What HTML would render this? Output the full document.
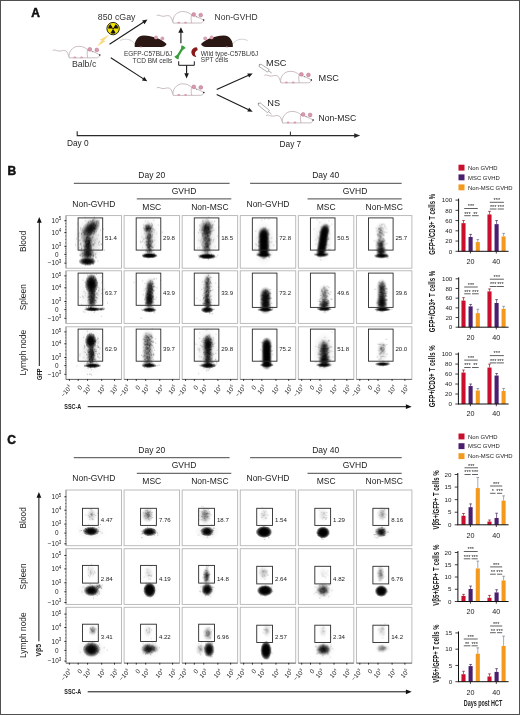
<!DOCTYPE html>
<html><head><meta charset="utf-8"><style>html,body{margin:0;padding:0;background:#fff;}svg{display:block;will-change:transform;}text{font-family:"Liberation Sans",sans-serif;}</style></head>
<body><svg width="520" height="715" viewBox="0 0 520 715" font-family="Liberation Sans, sans-serif">
<rect width="520" height="715" fill="#fff"/>
<defs><radialGradient id="g0"><stop offset="0" stop-color="#000" stop-opacity="0.259"/><stop offset="0.15" stop-color="#000" stop-opacity="0.243"/><stop offset="0.3" stop-color="#000" stop-opacity="0.199"/><stop offset="0.45" stop-color="#000" stop-opacity="0.140"/><stop offset="0.6" stop-color="#000" stop-opacity="0.085"/><stop offset="0.75" stop-color="#000" stop-opacity="0.044"/><stop offset="0.9" stop-color="#000" stop-opacity="0.019"/><stop offset="1.0" stop-color="#000" stop-opacity="0.000"/></radialGradient><radialGradient id="g1"><stop offset="0" stop-color="#000" stop-opacity="0.451"/><stop offset="0.15" stop-color="#000" stop-opacity="0.427"/><stop offset="0.3" stop-color="#000" stop-opacity="0.358"/><stop offset="0.45" stop-color="#000" stop-opacity="0.261"/><stop offset="0.6" stop-color="#000" stop-opacity="0.163"/><stop offset="0.75" stop-color="#000" stop-opacity="0.086"/><stop offset="0.9" stop-color="#000" stop-opacity="0.038"/><stop offset="1.0" stop-color="#000" stop-opacity="0.000"/></radialGradient><radialGradient id="g2"><stop offset="0" stop-color="#000" stop-opacity="0.699"/><stop offset="0.15" stop-color="#000" stop-opacity="0.671"/><stop offset="0.3" stop-color="#000" stop-opacity="0.587"/><stop offset="0.45" stop-color="#000" stop-opacity="0.454"/><stop offset="0.6" stop-color="#000" stop-opacity="0.299"/><stop offset="0.75" stop-color="#000" stop-opacity="0.164"/><stop offset="0.9" stop-color="#000" stop-opacity="0.075"/><stop offset="1.0" stop-color="#000" stop-opacity="0.000"/></radialGradient><radialGradient id="g3"><stop offset="0" stop-color="#000" stop-opacity="0.909"/><stop offset="0.15" stop-color="#000" stop-opacity="0.892"/><stop offset="0.3" stop-color="#000" stop-opacity="0.830"/><stop offset="0.45" stop-color="#000" stop-opacity="0.702"/><stop offset="0.6" stop-color="#000" stop-opacity="0.509"/><stop offset="0.75" stop-color="#000" stop-opacity="0.301"/><stop offset="0.9" stop-color="#000" stop-opacity="0.144"/><stop offset="1.0" stop-color="#000" stop-opacity="0.000"/></radialGradient><radialGradient id="g4"><stop offset="0" stop-color="#000" stop-opacity="0.992"/><stop offset="0.15" stop-color="#000" stop-opacity="0.988"/><stop offset="0.3" stop-color="#000" stop-opacity="0.971"/><stop offset="0.45" stop-color="#000" stop-opacity="0.911"/><stop offset="0.6" stop-color="#000" stop-opacity="0.759"/><stop offset="0.75" stop-color="#000" stop-opacity="0.512"/><stop offset="0.9" stop-color="#000" stop-opacity="0.267"/><stop offset="1.0" stop-color="#000" stop-opacity="0.000"/></radialGradient><radialGradient id="g5"><stop offset="0" stop-color="#000" stop-opacity="1.000"/><stop offset="0.15" stop-color="#000" stop-opacity="1.000"/><stop offset="0.3" stop-color="#000" stop-opacity="0.999"/><stop offset="0.45" stop-color="#000" stop-opacity="0.992"/><stop offset="0.6" stop-color="#000" stop-opacity="0.942"/><stop offset="0.75" stop-color="#000" stop-opacity="0.762"/><stop offset="0.9" stop-color="#000" stop-opacity="0.463"/><stop offset="1.0" stop-color="#000" stop-opacity="0.000"/></radialGradient></defs>
<text x="31.30" y="16.90" font-size="12" fill="#111" font-weight="bold" stroke="#111" stroke-width="0.5">A</text>
<text x="97.80" y="19.50" font-size="8.8" fill="#333">850 cGay</text>
<circle cx="113.1" cy="28.6" r="6.2" fill="#f2e200" stroke="#111" stroke-width="0.9"/>
<path d="M112.45,27.47 L110.60,24.27 A5.0,5.0 0 0 1 115.60,24.27 L113.75,27.47 Z" fill="#111" transform="rotate(180 113.1 28.6)"/>
<path d="M114.40,28.60 L118.10,28.60 A5.0,5.0 0 0 1 115.60,32.93 L113.75,29.73 Z" fill="#111" transform="rotate(180 113.1 28.6)"/>
<path d="M112.45,29.73 L110.60,32.93 A5.0,5.0 0 0 1 108.10,28.60 L111.80,28.60 Z" fill="#111" transform="rotate(180 113.1 28.6)"/>
<circle cx="113.1" cy="28.6" r="0.9" fill="#111"/>
<path d="M109.2,34.6 L103.6,40.8 L105.8,41.0 L97.2,46.6 L101.6,40.2 L99.4,40.0 Z" fill="#f7d46a" opacity="0.85"/>
<g transform="translate(69.2,57.9) scale(1.0,1.0)" fill="none" stroke="#ad9aa2" stroke-width="0.65"><path d="M0.3,-0.3 C-1.5,-3 -1.2,-6.2 -3.8,-7.2 C-6.5,-8.2 -8.5,-6.2 -11.5,-7 C-13.5,-7.6 -14.8,-8.6 -16.5,-7.4"/><path d="M0,0 C-1.2,-5.5 3,-11.6 9.5,-11.6 C14,-11.6 16.6,-9.8 18.4,-8.1 C21.5,-7.6 26,-5.4 30.6,-3.0 C30,-0.8 28.8,-0.2 27.5,-0.1 L0,0 Z" fill="#fff"/><path d="M18.4,-8.1 C17.6,-5.2 18,-2.4 18.6,0"/><circle cx="20.6" cy="-8.6" r="1.9" fill="#d99aae" stroke="#b86f88" stroke-width="0.5"/><circle cx="27.6" cy="-8.0" r="1.9" fill="#d99aae" stroke="#b86f88" stroke-width="0.5"/><ellipse cx="5.6" cy="-0.5" rx="1.4" ry="0.9" fill="#d99aae" stroke="none"/><ellipse cx="12.4" cy="-0.5" rx="1.4" ry="0.9" fill="#d99aae" stroke="none"/><circle cx="30.6" cy="-3.0" r="0.75" fill="#111" stroke="none"/><circle cx="23.6" cy="-6.2" r="0.45" fill="#333" stroke="none"/></g>
<text x="71.90" y="67.00" font-size="8.8" fill="#333">Balb/c</text>
<g transform="translate(173.1,23.1) scale(1.0,1.0)" fill="none" stroke="#ad9aa2" stroke-width="0.65"><path d="M0.3,-0.3 C-1.5,-3 -1.2,-6.2 -3.8,-7.2 C-6.5,-8.2 -8.5,-6.2 -11.5,-7 C-13.5,-7.6 -14.8,-8.6 -16.5,-7.4"/><path d="M0,0 C-1.2,-5.5 3,-11.6 9.5,-11.6 C14,-11.6 16.6,-9.8 18.4,-8.1 C21.5,-7.6 26,-5.4 30.6,-3.0 C30,-0.8 28.8,-0.2 27.5,-0.1 L0,0 Z" fill="#fff"/><path d="M18.4,-8.1 C17.6,-5.2 18,-2.4 18.6,0"/><circle cx="20.6" cy="-8.6" r="1.9" fill="#d99aae" stroke="#b86f88" stroke-width="0.5"/><circle cx="27.6" cy="-8.0" r="1.9" fill="#d99aae" stroke="#b86f88" stroke-width="0.5"/><ellipse cx="5.6" cy="-0.5" rx="1.4" ry="0.9" fill="#d99aae" stroke="none"/><ellipse cx="12.4" cy="-0.5" rx="1.4" ry="0.9" fill="#d99aae" stroke="none"/><circle cx="30.6" cy="-3.0" r="0.75" fill="#111" stroke="none"/><circle cx="23.6" cy="-6.2" r="0.45" fill="#333" stroke="none"/></g>
<text x="214.60" y="19.70" font-size="8.5" fill="#333">Non-GVHD</text>
<g transform="translate(134.8,47.0) scale(1.0,1.0)"><path d="M0.5,-2.5 C-2,-6 -4.5,-7.5 -8.5,-7.8 C-11,-8 -13,-7 -15,-6.6" fill="none" stroke="#b5b5b5" stroke-width="0.6"/><path d="M0,0 C-0.8,-5 2.5,-11.6 9,-11.6 C14,-11.6 17.5,-10.2 21,-9.2 C25,-8.2 29,-5.6 31.8,-3.1 C31,-1.2 29,-0.3 27,0 Z" fill="#2b1713"/><circle cx="21.2" cy="-9.6" r="1.9" fill="#d9a0b0"/><circle cx="27.6" cy="-8.6" r="1.9" fill="#d9a0b0"/><ellipse cx="6" cy="0" rx="1.3" ry="0.6" fill="#d9a0b0"/></g>
<g transform="translate(232.8,47.0) scale(-1.0,1.0)"><path d="M0.5,-2.5 C-2,-6 -4.5,-7.5 -8.5,-7.8 C-11,-8 -13,-7 -15,-6.6" fill="none" stroke="#b5b5b5" stroke-width="0.6"/><path d="M0,0 C-0.8,-5 2.5,-11.6 9,-11.6 C14,-11.6 17.5,-10.2 21,-9.2 C25,-8.2 29,-5.6 31.8,-3.1 C31,-1.2 29,-0.3 27,0 Z" fill="#2b1713"/><circle cx="21.2" cy="-9.6" r="1.9" fill="#d9a0b0"/><circle cx="27.6" cy="-8.6" r="1.9" fill="#d9a0b0"/><ellipse cx="6" cy="0" rx="1.3" ry="0.6" fill="#d9a0b0"/></g>
<text x="172.30" y="56.20" font-size="6.5" fill="#333" text-anchor="end">EGFP-C57BL/6J</text>
<text x="172.30" y="62.50" font-size="6.5" fill="#333" text-anchor="end">TCD BM cells</text>
<text x="200.80" y="55.80" font-size="6.5" fill="#333">Wild type-C57BL/6J</text>
<text x="200.80" y="62.10" font-size="6.5" fill="#333">SPT cells</text>
<line x1="109.50" y1="44.20" x2="143.72" y2="22.05" stroke="#1a1a1a" stroke-width="1.1"/>
<path d="M147.50,19.60 L144.50,24.16 L142.11,20.47 Z" fill="#1a1a1a"/>
<line x1="110.80" y1="57.70" x2="143.52" y2="78.86" stroke="#1a1a1a" stroke-width="1.1"/>
<path d="M147.30,81.30 L141.91,80.43 L144.30,76.74 Z" fill="#1a1a1a"/>
<line x1="180.90" y1="43.20" x2="180.90" y2="32.30" stroke="#1a1a1a" stroke-width="1.1"/>
<path d="M180.90,27.20 L183.50,32.80 L178.30,32.80 Z" fill="#1a1a1a"/>
<path transform="translate(180.0,52.4) rotate(-58)" d="M-6.8,-2.5 L-3.5,-1.15 L3.5,-1.15 L6.8,-2.5 L7.2,0 L6.8,2.5 L3.5,1.15 L-3.5,1.15 L-6.8,2.5 L-7.2,0 Z" fill="#3a9e3e"/>
<path d="M196.2,47.2 C192.5,47.6 190.8,50.8 191.6,53.6 C192.3,56 194.3,57.2 196.4,56.8 C195.2,55.6 194.6,54 195.1,52.6 C195.6,51.2 196.8,50.6 197.6,50.2 C197.8,48.6 197.2,47.4 196.2,47.2 Z" fill="#8a1a1a"/>
<path d="M178.7,61.3 V65.3 H194.3 V61.3" fill="none" stroke="#1a1a1a" stroke-width="1"/>
<line x1="186.60" y1="65.30" x2="186.60" y2="73.70" stroke="#1a1a1a" stroke-width="1.1"/>
<path d="M186.60,78.60 L184.30,73.20 L188.90,73.20 Z" fill="#1a1a1a"/>
<g transform="translate(173.2,95.4) scale(1.0,1.0)" fill="none" stroke="#ad9aa2" stroke-width="0.65"><path d="M0.3,-0.3 C-1.5,-3 -1.2,-6.2 -3.8,-7.2 C-6.5,-8.2 -8.5,-6.2 -11.5,-7 C-13.5,-7.6 -14.8,-8.6 -16.5,-7.4"/><path d="M0,0 C-1.2,-5.5 3,-11.6 9.5,-11.6 C14,-11.6 16.6,-9.8 18.4,-8.1 C21.5,-7.6 26,-5.4 30.6,-3.0 C30,-0.8 28.8,-0.2 27.5,-0.1 L0,0 Z" fill="#fff"/><path d="M18.4,-8.1 C17.6,-5.2 18,-2.4 18.6,0"/><circle cx="20.6" cy="-8.6" r="1.9" fill="#d99aae" stroke="#b86f88" stroke-width="0.5"/><circle cx="27.6" cy="-8.0" r="1.9" fill="#d99aae" stroke="#b86f88" stroke-width="0.5"/><ellipse cx="5.6" cy="-0.5" rx="1.4" ry="0.9" fill="#d99aae" stroke="none"/><ellipse cx="12.4" cy="-0.5" rx="1.4" ry="0.9" fill="#d99aae" stroke="none"/><circle cx="30.6" cy="-3.0" r="0.75" fill="#111" stroke="none"/><circle cx="23.6" cy="-6.2" r="0.45" fill="#333" stroke="none"/></g>
<line x1="216.70" y1="89.60" x2="248.60" y2="75.25" stroke="#1a1a1a" stroke-width="1.1"/>
<path d="M252.70,73.40 L249.04,77.46 L247.24,73.45 Z" fill="#1a1a1a"/>
<line x1="216.70" y1="94.50" x2="248.64" y2="109.85" stroke="#1a1a1a" stroke-width="1.1"/>
<path d="M252.70,111.80 L247.24,111.62 L249.15,107.65 Z" fill="#1a1a1a"/>
<g transform="translate(259.8,65.2) rotate(33.2)"><rect x="0" y="-1.5" width="10.3" height="3" fill="#fff" stroke="#888" stroke-width="0.6"/><line x1="-1" y1="0" x2="0" y2="0" stroke="#888" stroke-width="1.6"/><line x1="10.3" y1="0" x2="14.3" y2="0" stroke="#888" stroke-width="0.6"/></g>
<g transform="translate(259.0,103.8) rotate(39.5)"><rect x="0" y="-1.5" width="12.3" height="3" fill="#fff" stroke="#888" stroke-width="0.6"/><line x1="-1" y1="0" x2="0" y2="0" stroke="#888" stroke-width="1.6"/><line x1="12.3" y1="0" x2="16.3" y2="0" stroke="#888" stroke-width="0.6"/></g>
<text x="266.00" y="66.40" font-size="9.2" fill="#222">MSC</text>
<text x="267.30" y="105.50" font-size="9.2" fill="#222">NS</text>
<g transform="translate(280.8,82.9) scale(1.0,1.0)" fill="none" stroke="#ad9aa2" stroke-width="0.65"><path d="M0.3,-0.3 C-1.5,-3 -1.2,-6.2 -3.8,-7.2 C-6.5,-8.2 -8.5,-6.2 -11.5,-7 C-13.5,-7.6 -14.8,-8.6 -16.5,-7.4"/><path d="M0,0 C-1.2,-5.5 3,-11.6 9.5,-11.6 C14,-11.6 16.6,-9.8 18.4,-8.1 C21.5,-7.6 26,-5.4 30.6,-3.0 C30,-0.8 28.8,-0.2 27.5,-0.1 L0,0 Z" fill="#fff"/><path d="M18.4,-8.1 C17.6,-5.2 18,-2.4 18.6,0"/><circle cx="20.6" cy="-8.6" r="1.9" fill="#d99aae" stroke="#b86f88" stroke-width="0.5"/><circle cx="27.6" cy="-8.0" r="1.9" fill="#d99aae" stroke="#b86f88" stroke-width="0.5"/><ellipse cx="5.6" cy="-0.5" rx="1.4" ry="0.9" fill="#d99aae" stroke="none"/><ellipse cx="12.4" cy="-0.5" rx="1.4" ry="0.9" fill="#d99aae" stroke="none"/><circle cx="30.6" cy="-3.0" r="0.75" fill="#111" stroke="none"/><circle cx="23.6" cy="-6.2" r="0.45" fill="#333" stroke="none"/></g>
<g transform="translate(282.5,123.0) scale(1.0,1.0)" fill="none" stroke="#ad9aa2" stroke-width="0.65"><path d="M0.3,-0.3 C-1.5,-3 -1.2,-6.2 -3.8,-7.2 C-6.5,-8.2 -8.5,-6.2 -11.5,-7 C-13.5,-7.6 -14.8,-8.6 -16.5,-7.4"/><path d="M0,0 C-1.2,-5.5 3,-11.6 9.5,-11.6 C14,-11.6 16.6,-9.8 18.4,-8.1 C21.5,-7.6 26,-5.4 30.6,-3.0 C30,-0.8 28.8,-0.2 27.5,-0.1 L0,0 Z" fill="#fff"/><path d="M18.4,-8.1 C17.6,-5.2 18,-2.4 18.6,0"/><circle cx="20.6" cy="-8.6" r="1.9" fill="#d99aae" stroke="#b86f88" stroke-width="0.5"/><circle cx="27.6" cy="-8.0" r="1.9" fill="#d99aae" stroke="#b86f88" stroke-width="0.5"/><ellipse cx="5.6" cy="-0.5" rx="1.4" ry="0.9" fill="#d99aae" stroke="none"/><ellipse cx="12.4" cy="-0.5" rx="1.4" ry="0.9" fill="#d99aae" stroke="none"/><circle cx="30.6" cy="-3.0" r="0.75" fill="#111" stroke="none"/><circle cx="23.6" cy="-6.2" r="0.45" fill="#333" stroke="none"/></g>
<text x="318.50" y="80.90" font-size="9.2" fill="#222">MSC</text>
<text x="318.50" y="120.50" font-size="8.6" fill="#222">Non-MSC</text>
<path d="M77.2,131.2 V135.6 H355" fill="none" stroke="#2a2a2a" stroke-width="1.1"/>
<path d="M360.2,135.6 L354.2,133.2 L354.2,138 Z" fill="#2a2a2a"/>
<line x1="290.40" y1="131.60" x2="290.40" y2="135.60" stroke="#2a2a2a" stroke-width="1.0"/>
<text x="67.00" y="146.20" font-size="8.3" fill="#222">Day 0</text>
<text x="290.40" y="146.60" font-size="8.3" fill="#222" text-anchor="middle">Day 7</text>
<text x="7.60" y="175.20" font-size="12" fill="#111" font-weight="bold" stroke="#111" stroke-width="0.5">B</text>
<text x="151.80" y="178.30" font-size="8.5" fill="#222" text-anchor="middle">Day 20</text>
<line x1="73.80" y1="183.30" x2="229.60" y2="183.30" stroke="#333" stroke-width="0.9"/>
<text x="184.00" y="193.60" font-size="8.5" fill="#222" text-anchor="middle">GVHD</text>
<line x1="136.80" y1="198.90" x2="231.30" y2="198.90" stroke="#333" stroke-width="0.9"/>
<text x="93.80" y="207.00" font-size="8.5" fill="#222" text-anchor="middle">Non-GVHD</text>
<text x="151.80" y="209.60" font-size="8.5" fill="#222" text-anchor="middle">MSC</text>
<text x="209.90" y="209.60" font-size="8.5" fill="#222" text-anchor="middle">Non-MSC</text>
<text x="325.70" y="178.30" font-size="8.5" fill="#222" text-anchor="middle">Day 40</text>
<line x1="250.10" y1="183.30" x2="401.70" y2="183.30" stroke="#333" stroke-width="0.9"/>
<text x="355.00" y="193.60" font-size="8.5" fill="#222" text-anchor="middle">GVHD</text>
<line x1="307.50" y1="198.90" x2="401.70" y2="198.90" stroke="#333" stroke-width="0.9"/>
<text x="268.00" y="207.00" font-size="8.5" fill="#222" text-anchor="middle">Non-GVHD</text>
<text x="326.10" y="209.60" font-size="8.5" fill="#222" text-anchor="middle">MSC</text>
<text x="384.20" y="209.60" font-size="8.5" fill="#222" text-anchor="middle">Non-MSC</text>
<text x="26.00" y="241.40" font-size="8.4" fill="#222" text-anchor="middle" transform="rotate(-90 26.00 241.40)">Blood</text>
<text x="26.00" y="297.20" font-size="8.4" fill="#222" text-anchor="middle" transform="rotate(-90 26.00 297.20)">Spleen</text>
<text x="26.00" y="352.60" font-size="8.4" fill="#222" text-anchor="middle" transform="rotate(-90 26.00 352.60)">Lymph node</text>
<rect x="66.00" y="215.60" width="55.50" height="52.60" fill="#fff" stroke="#b4b4b4" stroke-width="0.9"/>
<svg x="66.00" y="215.60" width="55.50" height="52.60" overflow="hidden">
<ellipse transform="translate(24.50,12.90) skewX(-24.2)" rx="8.84" ry="10.40" fill="url(#g3)"/>
<ellipse transform="translate(21.80,23.40)" rx="5.43" ry="5.72" fill="url(#g1)"/>
<ellipse transform="translate(21.80,25.73)" rx="5.43" ry="5.72" fill="url(#g1)"/>
<ellipse transform="translate(21.80,28.07)" rx="5.43" ry="5.72" fill="url(#g1)"/>
<ellipse transform="translate(21.80,30.40)" rx="5.43" ry="5.72" fill="url(#g1)"/>
<ellipse transform="translate(21.80,32.73)" rx="5.43" ry="5.72" fill="url(#g1)"/>
<ellipse transform="translate(21.80,35.07)" rx="5.43" ry="5.72" fill="url(#g1)"/>
<ellipse transform="translate(21.80,37.40)" rx="5.43" ry="5.72" fill="url(#g1)"/>
<ellipse transform="translate(21.50,38.90)" rx="8.32" ry="6.50" fill="url(#g2)"/>
<ellipse transform="translate(21.20,45.80)" rx="8.84" ry="4.16" fill="url(#g4)"/>
<ellipse transform="translate(23.00,24.40)" rx="15.60" ry="26.00" fill="url(#g0)" opacity="0.87"/>
<path d="M26.7 11.9h.9M23.8 12.0h.9M25.4 9.2h.9M23.9 17.3h.9M23.5 17.0h.9M24.4 14.5h.9M30.4 6.2h.9M25.3 14.9h.9M21.6 6.1h.9M24.5 9.3h.9M23.8 14.1h.9M21.4 15.0h.9M25.3 14.1h.9M31.5 10.3h.9M27.6 15.1h.9M23.1 10.4h.9M24.8 11.5h.9M24.2 15.4h.9M22.1 11.1h.9M29.6 10.8h.9M26.8 9.7h.9M18.7 14.6h.9M28.9 13.1h.9M27.0 4.8h.9M21.9 12.5h.9M23.4 14.9h.9M30.0 7.0h.9M26.5 15.6h.9M23.1 18.7h.9M19.9 13.4h.9M21.3 15.4h.9M21.0 11.1h.9M24.4 9.0h.9M15.3 18.1h.9M27.9 7.1h.9M23.9 18.7h.9M19.4 5.3h.9M21.4 14.3h.9M29.8 8.4h.9M23.1 17.3h.9M25.5 13.9h.9M23.7 19.3h.9M25.4 15.0h.9M31.7 6.6h.9M24.6 16.7h.9M25.9 5.0h.9M16.8 16.3h.9M28.3 12.2h.9M32.3 7.7h.9M23.0 15.1h.9M26.1 14.2h.9M28.2 13.4h.9M24.3 10.3h.9M22.7 17.1h.9M29.3 9.4h.9M20.3 18.8h.9M26.5 7.4h.9M23.8 12.3h.9M18.5 18.5h.9M17.9 17.9h.9M28.1 9.8h.9M25.4 17.4h.9M24.4 14.3h.9M26.2 13.5h.9M25.8 12.2h.9M23.5 15.2h.9M25.0 16.0h.9M22.0 20.9h.9M24.0 11.2h.9M27.7 12.8h.9M26.4 11.6h.9M12.5 20.2h.9M27.4 8.4h.9M24.6 14.5h.9M27.5 11.2h.9M22.2 14.0h.9M21.3 22.6h.9M25.2 10.7h.9M24.7 12.0h.9M27.8 2.0h.9M18.7 16.9h.9M27.9 12.6h.9M28.0 16.3h.9M26.4 6.1h.9M27.2 11.5h.9M13.4 17.3h.9M17.6 17.3h.9M18.2 15.6h.9M28.2 13.6h.9M25.4 12.3h.9M23.5 16.1h.9M29.9 12.5h.9M21.6 17.1h.9M15.7 23.9h.9M22.0 16.6h.9M26.7 13.4h.9M26.3 13.8h.9M22.1 6.8h.9M20.1 15.4h.9M21.3 8.8h.9M24.8 18.0h.9M18.7 18.8h.9M20.6 12.9h.9M28.5 16.0h.9M31.4 9.3h.9M22.1 16.9h.9M32.8 5.0h.9M22.6 12.5h.9M25.2 14.5h.9M18.3 18.9h.9M27.5 17.4h.9M21.3 18.7h.9M29.3 9.9h.9M24.7 13.4h.9M21.0 18.6h.9M27.3 3.7h.9M30.6 5.5h.9M21.9 14.2h.9M27.3 12.9h.9M28.9 13.2h.9M28.1 12.7h.9M27.3 18.9h.9M28.7 10.2h.9M24.2 5.4h.9M31.7 5.0h.9M26.7 8.0h.9M24.7 12.1h.9M26.4 10.5h.9M21.4 20.1h.9M26.9 15.0h.9M20.6 12.1h.9M29.1 10.7h.9M25.4 6.3h.9M25.4 16.9h.9M27.2 12.9h.9M19.3 31.6h.9M17.2 29.9h.9M20.2 28.6h.9M19.7 30.0h.9M22.5 28.0h.9M18.3 30.8h.9M20.0 30.3h.9M22.6 30.3h.9M22.5 25.9h.9M18.6 34.1h.9M24.5 34.6h.9M25.2 39.8h.9M26.9 30.0h.9M22.3 28.4h.9M23.7 31.9h.9M23.0 27.1h.9M21.4 31.1h.9M21.9 27.6h.9M20.0 22.4h.9M21.5 40.9h.9M22.8 25.3h.9M20.2 25.5h.9M24.0 30.6h.9M23.0 36.2h.9M20.4 21.6h.9M22.9 32.5h.9M24.0 36.9h.9M21.0 35.7h.9M23.5 33.8h.9M24.0 34.9h.9M22.9 30.6h.9M22.8 25.7h.9M22.2 29.2h.9M25.1 26.2h.9M21.8 26.9h.9M22.0 25.3h.9M19.2 25.8h.9M22.6 19.8h.9M19.8 31.3h.9M20.0 31.6h.9M16.3 25.8h.9M19.0 34.0h.9M22.9 22.5h.9M22.4 34.3h.9M23.0 24.5h.9M18.3 35.2h.9M23.3 27.2h.9M22.1 28.4h.9M27.1 36.5h.9M21.3 35.3h.9M23.6 22.7h.9M23.4 28.6h.9M24.2 24.3h.9M22.7 28.9h.9M21.9 28.1h.9M24.6 31.1h.9M18.7 33.4h.9M20.4 29.6h.9M21.7 34.8h.9M21.3 34.7h.9M20.0 36.1h.9M20.7 31.2h.9M21.7 30.5h.9M19.3 37.2h.9M18.9 25.2h.9M22.0 29.6h.9M24.2 34.5h.9M19.7 30.8h.9M21.8 34.4h.9M19.3 30.9h.9M21.2 33.3h.9M22.6 27.1h.9M20.4 33.6h.9M21.4 31.3h.9M22.2 30.8h.9M19.8 22.1h.9M23.1 34.8h.9M24.3 22.6h.9M22.4 34.4h.9M18.9 26.3h.9M21.6 27.5h.9M24.8 29.6h.9M21.1 28.8h.9M22.8 33.0h.9M22.3 24.7h.9M21.3 33.0h.9M23.8 38.4h.9M24.7 33.3h.9M19.7 29.2h.9M20.4 25.8h.9M21.9 32.3h.9M22.9 27.8h.9M25.5 21.7h.9M17.8 25.1h.9M20.3 39.1h.9M23.8 28.4h.9M21.8 31.4h.9M22.5 22.5h.9M24.2 30.7h.9M21.2 28.7h.9M21.7 27.2h.9M20.6 39.2h.9M18.4 33.3h.9M20.8 20.8h.9M19.5 33.7h.9M20.4 23.0h.9M21.3 31.0h.9M23.3 32.7h.9M21.6 34.3h.9M24.3 28.0h.9M22.9 27.0h.9M20.4 28.6h.9M17.9 35.8h.9M22.8 25.6h.9M22.6 26.2h.9M24.5 35.7h.9M19.6 29.2h.9M21.5 26.0h.9M22.4 38.6h.9M23.6 34.0h.9M20.7 28.2h.9M23.9 29.7h.9M20.6 39.7h.9M21.9 33.9h.9M20.4 33.6h.9M21.8 38.6h.9M18.1 39.0h.9M22.8 25.6h.9M21.4 33.3h.9M18.8 33.5h.9M22.5 21.3h.9M20.3 36.6h.9M20.4 24.0h.9M24.8 33.1h.9M22.3 31.4h.9M20.8 24.6h.9M21.6 27.4h.9M23.1 27.0h.9M20.2 28.5h.9M27.1 33.4h.9M22.2 30.2h.9M19.9 26.0h.9M17.7 24.1h.9M22.2 31.2h.9M20.5 34.0h.9M19.3 26.1h.9M21.5 36.7h.9M23.3 34.2h.9M26.7 28.8h.9M23.2 29.8h.9M17.4 22.7h.9M22.7 35.8h.9M22.3 24.7h.9M24.6 32.1h.9M14.6 35.6h.9M23.0 35.8h.9M21.3 32.7h.9M23.2 26.5h.9M21.9 27.4h.9M26.0 21.9h.9M21.5 29.9h.9M18.3 31.2h.9M22.5 31.0h.9M21.1 29.8h.9M21.5 29.6h.9M16.4 40.5h.9M21.7 39.5h.9M24.3 44.1h.9M26.8 38.7h.9M19.8 40.7h.9M29.5 38.0h.9M19.8 37.5h.9M18.8 38.4h.9M21.8 38.9h.9M14.4 39.1h.9M15.8 34.9h.9M21.9 40.7h.9M22.7 32.7h.9M20.6 41.3h.9M24.9 38.9h.9M21.8 33.2h.9M26.8 40.7h.9M15.6 38.6h.9M17.2 39.4h.9M24.0 37.9h.9M25.8 36.1h.9M22.5 40.4h.9M19.1 38.9h.9M21.8 39.5h.9M20.6 36.8h.9M20.7 44.0h.9M21.3 40.9h.9M22.2 39.9h.9M21.5 35.0h.9M22.3 37.2h.9M23.7 35.9h.9M16.8 37.0h.9M17.6 41.0h.9M25.7 42.4h.9M25.5 38.0h.9M25.3 36.0h.9M23.8 39.5h.9M23.3 38.9h.9M18.7 41.4h.9M24.4 37.7h.9M21.3 41.9h.9M27.3 39.4h.9M13.4 34.5h.9M23.7 41.2h.9M15.9 40.9h.9M21.0 39.5h.9M23.1 38.6h.9M29.5 41.4h.9M17.8 33.9h.9M26.1 35.4h.9M22.3 37.1h.9M13.9 39.9h.9M24.2 41.5h.9M20.0 37.6h.9M22.8 38.0h.9M23.9 39.4h.9M18.8 36.0h.9M22.0 39.0h.9M25.8 37.1h.9M24.0 39.8h.9M27.0 40.2h.9M21.2 38.0h.9M23.4 40.9h.9M20.1 35.5h.9M22.5 40.2h.9M18.4 38.0h.9M24.2 38.5h.9M20.7 41.0h.9M20.3 36.8h.9M24.7 34.6h.9M21.4 41.3h.9M26.4 40.2h.9M21.8 39.0h.9M19.6 41.0h.9M18.5 40.0h.9M18.7 47.1h.9M21.7 45.9h.9M19.7 43.6h.9M20.4 46.4h.9M18.9 44.7h.9M21.1 44.9h.9M25.2 45.4h.9M20.5 46.5h.9M21.6 42.9h.9M20.7 46.8h.9M27.0 48.5h.9M20.6 47.6h.9M23.8 49.2h.9M26.0 43.2h.9M16.8 43.6h.9M26.2 47.3h.9M24.6 46.1h.9M15.9 47.5h.9M23.4 46.3h.9M23.6 44.2h.9M22.4 45.2h.9M26.7 45.8h.9M20.6 46.2h.9M19.0 43.3h.9M22.7 48.8h.9M24.3 47.4h.9M19.7 43.7h.9M24.5 45.2h.9M19.4 44.3h.9M18.1 44.9h.9M21.5 45.5h.9M18.5 44.4h.9M26.9 46.1h.9M17.5 46.1h.9M24.7 46.6h.9M22.3 46.5h.9M21.8 45.2h.9M22.6 44.0h.9M22.4 48.0h.9M23.9 48.1h.9M17.2 46.1h.9M22.5 47.6h.9M27.0 43.0h.9M26.3 47.9h.9M21.1 48.4h.9M19.2 46.2h.9M20.7 47.6h.9M19.2 49.2h.9M26.4 47.2h.9M20.7 46.3h.9M25.8 44.2h.9M27.3 47.6h.9M27.4 45.3h.9M24.4 47.0h.9M20.1 46.8h.9M25.2 45.6h.9M22.0 45.6h.9M23.0 46.2h.9M19.2 48.0h.9M19.9 46.6h.9M19.6 46.0h.9M20.3 43.6h.9M26.5 43.7h.9M19.7 43.8h.9M20.1 46.4h.9M21.0 48.1h.9M24.9 43.5h.9M31.5 45.3h.9M19.7 44.5h.9M17.5 46.0h.9M26.2 47.0h.9M23.1 48.6h.9M26.1 45.7h.9M20.7 47.9h.9M18.7 45.1h.9M21.2 46.2h.9M25.0 47.1h.9M22.9 44.1h.9M20.1 46.5h.9M26.1 46.1h.9M21.2 45.9h.9M22.5 45.3h.9M23.1 45.1h.9M18.9 44.0h.9M25.8 46.4h.9M21.5 44.9h.9M20.2 46.9h.9M22.4 46.2h.9M15.9 43.7h.9M17.8 46.1h.9" stroke="#000" stroke-opacity="0.4" stroke-width=".9"/>
<path d="M23.9 24.3h.9M16.9 16.5h.9M30.0 15.9h.9M27.9 2.3h.9M18.5 23.6h.9M22.0 26.9h.9M21.8 14.4h.9M25.1 24.7h.9M22.1 24.7h.9M18.5 1.8h.9M26.1 28.6h.9M18.5 15.1h.9M14.5 12.9h.9M27.6 28.3h.9M24.8 23.4h.9M16.3 37.8h.9M22.3 24.2h.9M14.8 33.6h.9M25.1 8.3h.9M24.3 17.6h.9M25.7 30.1h.9M24.3 33.2h.9M13.8 24.4h.9M15.2 33.3h.9M30.6 23.1h.9M27.1 8.2h.9M22.3 16.6h.9M10.9 8.1h.9M35.1 28.6h.9M23.4 32.1h.9M32.9 25.8h.9M19.6 40.0h.9M33.9 14.8h.9M26.9 20.9h.9M18.4 36.2h.9M14.7 19.2h.9M22.1 35.6h.9M15.2 32.7h.9M18.0 31.1h.9M15.3 22.3h.9M26.9 22.0h.9M21.3 21.5h.9M21.2 29.1h.9M23.5 29.1h.9M20.6 32.7h.9M24.1 25.9h.9M25.4 39.2h.9M16.1 14.1h.9M20.8 24.1h.9M19.9 16.4h.9M12.9 32.0h.9M21.6 27.3h.9M13.2 39.4h.9M22.0 28.9h.9M25.8 25.7h.9M25.5 43.3h.9M15.1 29.8h.9M15.4 30.8h.9M25.7 23.3h.9M28.8 38.1h.9M28.1 26.8h.9M23.6 22.6h.9M27.9 24.1h.9M17.4 22.4h.9M37.0 13.3h.9M22.7 4.9h.9M22.0 22.6h.9M26.3 15.3h.9M17.5 25.7h.9M15.8 20.9h.9M34.7 28.6h.9M29.0 40.0h.9M23.3 24.6h.9M32.7 29.4h.9M22.9 25.3h.9M23.4 12.8h.9M19.3 26.3h.9M23.2 15.2h.9M18.9 28.2h.9M21.3 32.1h.9M32.1 27.8h.9M23.0 19.6h.9M21.1 21.7h.9M14.0 28.0h.9M14.8 27.6h.9M27.8 18.2h.9M30.8 7.8h.9M29.5 42.3h.9M23.6 31.1h.9M35.9 22.6h.9M23.0 14.6h.9M20.1 29.8h.9M24.8 12.5h.9M13.0 24.9h.9M18.6 18.8h.9M26.1 21.7h.9M15.6 32.5h.9M19.3 24.1h.9M26.9 8.4h.9M21.5 19.8h.9M26.0 4.2h.9M26.9 24.9h.9M31.9 19.4h.9M20.1 27.6h.9M26.8 28.6h.9M29.5 18.8h.9M27.5 29.1h.9M38.1 34.5h.9M20.2 23.8h.9M22.3 28.9h.9M34.5 2.9h.9M13.6 28.9h.9M24.6 18.3h.9M20.8 21.3h.9M28.7 27.1h.9M24.3 34.3h.9M14.1 28.3h.9M23.0 10.3h.9M23.8 19.0h.9M19.3 16.3h.9M9.9 23.2h.9M26.3 12.6h.9M16.7 24.3h.9M32.5 26.5h.9M15.9 37.0h.9M11.8 18.4h.9M15.2 18.3h.9M24.5 16.1h.9M21.0 21.3h.9M28.1 9.1h.9M14.8 21.2h.9M29.3 24.4h.9M25.3 11.0h.9M27.9 11.8h.9M21.4 30.2h.9M14.4 14.6h.9M27.5 15.5h.9M22.7 27.2h.9M22.0 18.7h.9M9.0 29.1h.9M22.7 19.8h.9M19.6 13.3h.9M16.0 22.0h.9M14.3 12.4h.9M22.2 14.2h.9M21.7 30.9h.9M17.5 20.4h.9M19.9 24.8h.9M22.5 33.7h.9M24.7 31.9h.9" stroke="#000" stroke-opacity="0.3" stroke-width=".9"/>
</svg>
<rect x="78.10" y="217.90" width="24.60" height="32.20" fill="none" stroke="#2a2a2a" stroke-width="0.9"/>
<text x="105.00" y="240.00" font-size="6.1" fill="#222">51.4</text>
<rect x="124.08" y="215.60" width="55.50" height="52.60" fill="#fff" stroke="#b4b4b4" stroke-width="0.9"/>
<svg x="124.08" y="215.60" width="55.50" height="52.60" overflow="hidden">
<ellipse transform="translate(24.12,12.60)" rx="5.72" ry="5.72" fill="url(#g2)"/>
<ellipse transform="translate(24.92,17.90)" rx="4.52" ry="5.20" fill="url(#g0)"/>
<ellipse transform="translate(24.92,19.90)" rx="4.52" ry="5.20" fill="url(#g0)"/>
<ellipse transform="translate(24.92,21.90)" rx="4.52" ry="5.20" fill="url(#g0)"/>
<ellipse transform="translate(24.92,23.90)" rx="4.52" ry="5.20" fill="url(#g0)"/>
<ellipse transform="translate(24.92,25.90)" rx="4.52" ry="5.20" fill="url(#g0)"/>
<ellipse transform="translate(24.92,27.90)" rx="4.52" ry="5.20" fill="url(#g0)"/>
<ellipse transform="translate(24.92,29.90)" rx="4.52" ry="5.20" fill="url(#g0)"/>
<ellipse transform="translate(24.92,31.90)" rx="4.52" ry="5.20" fill="url(#g0)"/>
<ellipse transform="translate(24.92,33.90)" rx="4.52" ry="5.20" fill="url(#g0)"/>
<ellipse transform="translate(24.92,35.90)" rx="4.52" ry="5.20" fill="url(#g0)"/>
<ellipse transform="translate(25.42,40.00)" rx="7.96" ry="2.60" fill="url(#g5)"/>
<ellipse transform="translate(24.92,22.40)" rx="11.70" ry="23.40" fill="url(#g0)" opacity="0.50"/>
<path d="M24.3 12.3h.9M25.2 10.6h.9M22.2 11.9h.9M25.7 12.5h.9M18.9 12.3h.9M23.9 11.1h.9M22.0 13.3h.9M25.2 12.9h.9M20.2 13.3h.9M22.3 11.0h.9M23.5 11.1h.9M23.7 14.6h.9M21.0 10.0h.9M21.9 13.6h.9M26.8 11.8h.9M27.1 15.5h.9M27.5 10.0h.9M26.2 12.4h.9M26.4 12.5h.9M24.3 12.7h.9M22.4 12.3h.9M26.0 12.7h.9M24.4 10.3h.9M21.7 10.5h.9M28.0 9.3h.9M23.5 13.1h.9M19.9 14.8h.9M22.9 12.9h.9M21.4 14.1h.9M24.2 12.9h.9M23.2 15.7h.9M25.1 12.6h.9M25.4 13.6h.9M22.1 12.9h.9M28.0 15.3h.9M22.8 12.9h.9M22.2 14.9h.9M20.9 13.2h.9M21.7 15.6h.9M22.9 13.4h.9M21.6 11.6h.9M21.8 12.5h.9M22.2 14.7h.9M25.7 12.5h.9M26.1 14.2h.9M25.0 14.9h.9M26.1 14.2h.9M24.2 9.9h.9M23.9 12.8h.9M22.0 13.9h.9M22.9 9.6h.9M22.3 13.7h.9M26.9 7.7h.9M25.5 15.4h.9M23.7 12.3h.9M22.0 10.0h.9M23.3 14.4h.9M23.8 15.2h.9M24.6 7.9h.9M24.9 16.0h.9M23.8 32.1h.9M26.4 25.8h.9M23.7 25.9h.9M26.0 30.5h.9M28.1 24.2h.9M24.9 25.4h.9M24.5 35.0h.9M26.2 22.4h.9M23.6 29.6h.9M25.6 36.9h.9M24.8 22.7h.9M25.0 35.8h.9M23.3 29.8h.9M23.6 31.3h.9M23.0 26.5h.9M23.8 29.3h.9M25.7 16.5h.9M25.4 32.1h.9M23.6 27.0h.9M22.2 29.6h.9M26.4 25.4h.9M26.6 28.6h.9M24.7 28.7h.9M25.1 33.5h.9M23.1 21.9h.9M25.1 30.5h.9M23.1 31.7h.9M25.3 28.7h.9M25.9 18.4h.9M25.0 23.1h.9M24.8 34.4h.9M25.2 31.1h.9M27.7 21.4h.9M25.8 34.0h.9M22.7 21.4h.9M22.9 24.0h.9M24.4 36.7h.9M24.7 18.1h.9M22.3 17.2h.9M27.5 19.7h.9M23.4 20.5h.9M26.6 24.0h.9M24.0 31.8h.9M26.8 27.4h.9M25.8 30.3h.9M23.9 31.4h.9M25.5 35.2h.9M21.8 22.8h.9M22.0 28.5h.9M24.0 24.2h.9M23.8 31.7h.9M22.7 29.0h.9M25.0 22.6h.9M26.0 30.2h.9M24.6 33.3h.9M21.7 29.7h.9M28.3 31.8h.9M21.4 22.4h.9M26.0 34.4h.9M27.7 35.7h.9M27.3 30.4h.9M25.2 21.2h.9M21.8 26.2h.9M26.6 34.9h.9M27.2 34.3h.9M23.5 28.3h.9M24.3 20.3h.9M27.4 25.7h.9M24.2 25.3h.9M25.3 36.2h.9M25.5 28.6h.9M23.9 28.9h.9M26.7 16.9h.9M26.0 39.5h.9M25.1 20.0h.9M23.1 35.3h.9M21.7 35.6h.9M25.4 21.5h.9M25.6 19.2h.9M23.7 22.4h.9M23.7 23.2h.9M23.9 18.4h.9M24.6 29.6h.9M21.6 26.8h.9M26.1 19.1h.9M23.8 27.9h.9M25.2 25.7h.9M22.8 36.5h.9M25.8 34.0h.9M20.9 15.4h.9M27.2 36.9h.9M23.6 27.8h.9M24.1 23.8h.9M25.8 26.5h.9M26.0 21.2h.9M24.7 30.7h.9M25.4 34.8h.9M28.9 34.4h.9M24.3 26.8h.9M27.2 36.8h.9M23.5 22.5h.9M23.1 30.2h.9M25.9 19.8h.9M22.8 19.9h.9M23.9 26.4h.9M26.1 33.9h.9M25.8 26.1h.9M28.3 18.2h.9M24.8 34.7h.9M23.9 25.8h.9M26.2 21.2h.9M28.9 31.8h.9M24.6 23.9h.9M24.6 31.5h.9M29.6 16.7h.9M23.4 21.1h.9M25.0 31.2h.9M26.6 35.2h.9M27.1 20.9h.9M27.6 32.2h.9M25.6 19.7h.9M23.6 21.0h.9M27.2 31.4h.9M22.8 22.5h.9M26.1 28.2h.9M24.3 32.4h.9M27.8 31.5h.9M24.9 33.9h.9M25.4 18.7h.9M27.9 26.0h.9M26.4 29.6h.9M25.0 28.3h.9M24.8 29.8h.9M21.7 25.3h.9M23.3 31.0h.9M27.8 41.9h.9M24.4 41.1h.9M25.1 38.8h.9M25.3 39.8h.9M25.0 40.7h.9M26.7 40.2h.9M31.1 40.0h.9M25.7 40.4h.9M23.5 39.8h.9M25.9 41.3h.9M23.7 38.9h.9M24.1 39.9h.9M21.9 41.1h.9M25.9 40.5h.9M25.6 38.8h.9M27.0 39.9h.9M26.3 39.5h.9M22.1 38.3h.9M28.6 40.8h.9M23.6 40.0h.9M19.0 41.1h.9M27.5 39.2h.9M22.3 40.7h.9M29.9 38.1h.9M22.7 40.2h.9M28.2 40.1h.9M28.8 37.4h.9M19.1 40.7h.9M20.0 40.8h.9M26.6 41.1h.9M23.6 42.3h.9M28.6 40.0h.9M23.3 39.4h.9M25.2 39.6h.9M26.9 38.9h.9M25.6 40.5h.9M24.4 41.7h.9M23.7 41.3h.9M19.5 40.8h.9M24.9 40.2h.9M23.6 39.5h.9M23.2 39.7h.9M23.6 37.8h.9M23.8 39.5h.9M25.0 38.9h.9M24.7 40.8h.9M29.6 39.5h.9M28.2 41.0h.9M24.4 41.2h.9M28.8 39.9h.9M25.1 39.4h.9M26.6 40.4h.9M28.4 39.7h.9M27.6 39.8h.9M27.4 41.1h.9M21.9 40.7h.9M23.5 38.7h.9M30.0 40.5h.9M26.4 38.8h.9M23.2 39.1h.9" stroke="#000" stroke-opacity="0.4" stroke-width=".9"/>
<path d="M28.0 19.9h.9M30.2 24.3h.9M28.9 13.5h.9M25.2 30.8h.9M22.4 26.7h.9M23.1 12.6h.9M37.9 16.6h.9M32.3 18.0h.9M26.3 24.2h.9M21.4 29.1h.9M26.6 30.6h.9M27.6 8.8h.9M27.0 27.4h.9M23.1 36.7h.9M28.3 27.0h.9M30.3 14.3h.9M19.1 9.3h.9M20.0 27.1h.9M17.5 21.4h.9M19.8 23.0h.9M18.0 25.5h.9M23.7 26.4h.9M24.6 23.0h.9M19.0 23.6h.9M22.9 14.0h.9M16.0 26.2h.9M22.2 15.5h.9M26.4 12.9h.9M21.2 21.1h.9M28.6 13.5h.9M27.6 16.5h.9M16.4 26.4h.9M24.9 12.6h.9M28.4 25.5h.9M29.6 29.6h.9M24.0 19.0h.9M23.0 29.4h.9M17.8 31.9h.9M24.1 28.3h.9M29.3 4.7h.9M25.0 25.2h.9M22.8 12.7h.9M21.2 36.0h.9M24.3 11.6h.9M20.8 18.9h.9M29.6 14.8h.9M33.7 9.4h.9M20.0 17.5h.9M27.5 29.5h.9M28.3 13.0h.9M20.8 5.8h.9M23.8 32.5h.9M27.2 10.7h.9M24.8 30.7h.9M23.4 6.1h.9M28.4 26.2h.9M23.8 39.1h.9M24.7 18.1h.9" stroke="#000" stroke-opacity="0.3" stroke-width=".9"/>
</svg>
<rect x="136.18" y="217.90" width="24.60" height="32.20" fill="none" stroke="#2a2a2a" stroke-width="0.9"/>
<text x="163.08" y="240.00" font-size="6.1" fill="#222">29.8</text>
<rect x="182.16" y="215.60" width="55.50" height="52.60" fill="#fff" stroke="#b4b4b4" stroke-width="0.9"/>
<svg x="182.16" y="215.60" width="55.50" height="52.60" overflow="hidden">
<ellipse transform="translate(24.34,12.40)" rx="7.80" ry="9.10" fill="url(#g2)"/>
<ellipse transform="translate(24.34,13.40)" rx="5.65" ry="6.50" fill="url(#g0)" opacity="0.98"/>
<ellipse transform="translate(24.34,15.84)" rx="5.65" ry="6.50" fill="url(#g0)" opacity="0.98"/>
<ellipse transform="translate(24.34,18.29)" rx="5.65" ry="6.50" fill="url(#g0)" opacity="0.98"/>
<ellipse transform="translate(24.34,20.73)" rx="5.65" ry="6.50" fill="url(#g0)" opacity="0.98"/>
<ellipse transform="translate(24.34,23.18)" rx="5.65" ry="6.50" fill="url(#g0)" opacity="0.98"/>
<ellipse transform="translate(24.34,25.62)" rx="5.65" ry="6.50" fill="url(#g0)" opacity="0.98"/>
<ellipse transform="translate(24.34,28.07)" rx="5.65" ry="6.50" fill="url(#g0)" opacity="0.98"/>
<ellipse transform="translate(24.34,30.51)" rx="5.65" ry="6.50" fill="url(#g0)" opacity="0.98"/>
<ellipse transform="translate(24.34,32.96)" rx="5.65" ry="6.50" fill="url(#g0)" opacity="0.98"/>
<ellipse transform="translate(24.34,35.40)" rx="5.65" ry="6.50" fill="url(#g0)" opacity="0.98"/>
<ellipse transform="translate(24.84,40.70)" rx="8.89" ry="2.60" fill="url(#g5)"/>
<ellipse transform="translate(24.34,22.40)" rx="13.00" ry="26.00" fill="url(#g0)" opacity="0.50"/>
<path d="M21.5 16.6h.9M16.1 17.0h.9M22.3 15.2h.9M26.4 14.0h.9M24.1 8.3h.9M26.1 13.2h.9M21.4 9.1h.9M32.0 5.7h.9M23.7 11.7h.9M27.1 7.2h.9M28.6 10.5h.9M24.4 15.4h.9M21.0 14.9h.9M22.6 11.3h.9M24.4 8.0h.9M28.6 11.9h.9M22.9 9.2h.9M25.6 13.9h.9M22.9 12.5h.9M25.4 14.1h.9M23.6 6.0h.9M20.8 7.6h.9M24.5 12.9h.9M21.7 12.8h.9M21.6 11.7h.9M26.4 13.7h.9M28.1 18.5h.9M23.0 9.6h.9M25.3 9.1h.9M26.5 19.3h.9M20.6 4.7h.9M25.9 7.9h.9M25.2 12.4h.9M21.9 18.6h.9M30.2 9.4h.9M22.0 13.6h.9M19.8 5.3h.9M24.5 3.8h.9M27.3 12.6h.9M22.3 11.9h.9M30.0 9.8h.9M24.9 6.2h.9M26.2 12.5h.9M25.8 11.0h.9M23.9 15.3h.9M23.8 10.8h.9M23.7 9.0h.9M25.0 11.3h.9M28.3 17.1h.9M26.1 10.8h.9M26.6 13.4h.9M25.1 12.5h.9M22.0 10.8h.9M28.2 15.5h.9M25.6 14.7h.9M23.0 13.3h.9M26.3 6.2h.9M22.7 13.1h.9M28.2 9.0h.9M29.6 6.1h.9M31.5 14.6h.9M24.3 9.9h.9M24.8 10.6h.9M22.1 11.7h.9M22.0 16.2h.9M26.0 10.6h.9M23.0 10.5h.9M23.2 13.6h.9M24.0 8.0h.9M29.5 11.6h.9M27.2 8.6h.9M23.3 9.6h.9M25.2 11.3h.9M29.6 15.4h.9M28.3 10.2h.9M26.8 15.9h.9M27.0 9.7h.9M25.4 12.0h.9M26.3 11.5h.9M27.7 16.3h.9M27.3 11.7h.9M21.5 17.5h.9M20.3 17.6h.9M26.1 14.3h.9M25.2 17.6h.9M21.9 10.7h.9M26.6 8.0h.9M22.2 11.6h.9M22.0 14.3h.9M23.3 14.8h.9M22.5 32.5h.9M24.5 17.7h.9M26.1 22.5h.9M24.8 29.5h.9M28.1 28.0h.9M22.7 22.6h.9M22.5 12.5h.9M21.1 21.9h.9M25.5 31.5h.9M24.8 17.6h.9M22.9 34.0h.9M23.4 28.7h.9M26.6 28.4h.9M25.3 34.0h.9M26.6 23.5h.9M20.3 26.9h.9M24.6 28.0h.9M25.5 31.1h.9M27.0 17.3h.9M20.6 17.8h.9M22.7 21.1h.9M23.9 12.9h.9M26.1 16.2h.9M25.4 28.5h.9M22.9 17.8h.9M24.1 31.3h.9M25.8 31.6h.9M26.5 22.8h.9M21.8 31.4h.9M27.2 28.4h.9M25.2 27.6h.9M25.5 22.9h.9M25.1 19.8h.9M27.5 24.5h.9M25.6 25.4h.9M25.3 14.0h.9M24.8 37.7h.9M26.1 38.4h.9M23.9 23.1h.9M24.9 23.9h.9M24.6 33.2h.9M20.7 23.7h.9M26.0 16.4h.9M25.0 36.1h.9M25.7 27.0h.9M20.2 20.3h.9M20.3 30.7h.9M25.6 30.8h.9M26.2 24.5h.9M27.3 15.5h.9M25.1 30.3h.9M21.3 35.0h.9M23.5 27.1h.9M25.9 27.3h.9M25.9 20.3h.9M26.4 9.2h.9M24.9 20.2h.9M24.2 31.9h.9M21.3 25.5h.9M27.5 24.0h.9M25.3 21.1h.9M20.8 30.9h.9M25.9 24.2h.9M23.6 15.6h.9M25.3 25.4h.9M23.5 37.8h.9M23.4 33.3h.9M23.6 28.6h.9M23.2 24.3h.9M23.6 30.4h.9M26.2 32.2h.9M24.6 29.9h.9M24.6 26.9h.9M26.4 20.3h.9M23.8 19.0h.9M25.2 34.2h.9M24.0 31.2h.9M25.3 25.1h.9M26.9 25.6h.9M27.1 16.4h.9M24.1 11.8h.9M24.8 22.3h.9M22.3 31.2h.9M23.3 35.2h.9M23.3 31.5h.9M25.2 33.3h.9M22.9 12.4h.9M23.6 18.8h.9M24.6 26.2h.9M26.1 29.4h.9M26.4 22.4h.9M22.3 35.8h.9M23.4 30.8h.9M27.4 26.1h.9M23.4 22.2h.9M19.1 28.8h.9M25.1 18.9h.9M23.2 11.6h.9M22.9 22.3h.9M26.6 32.8h.9M23.8 12.8h.9M26.8 20.9h.9M23.7 26.6h.9M25.2 31.6h.9M23.5 27.5h.9M24.2 21.3h.9M26.4 34.3h.9M23.8 17.6h.9M21.4 23.6h.9M24.5 30.5h.9M27.1 22.9h.9M25.2 20.1h.9M22.5 17.0h.9M26.1 24.8h.9M23.3 19.0h.9M24.4 24.0h.9M24.7 37.9h.9M24.7 29.5h.9M26.1 24.1h.9M27.2 24.8h.9M22.5 21.7h.9M23.0 28.6h.9M21.3 27.9h.9M25.7 29.6h.9M20.7 32.5h.9M27.8 28.3h.9M24.2 17.6h.9M23.6 12.3h.9M26.0 34.0h.9M24.6 16.4h.9M26.3 16.6h.9M24.5 28.4h.9M25.3 17.0h.9M25.0 20.5h.9M27.6 24.1h.9M23.6 35.8h.9M23.9 16.4h.9M21.2 14.8h.9M22.1 32.9h.9M25.4 35.8h.9M26.0 13.6h.9M25.8 29.9h.9M26.5 18.3h.9M21.7 23.7h.9M27.7 35.9h.9M23.8 30.4h.9M22.9 18.0h.9M26.8 33.8h.9M20.5 14.5h.9M27.5 25.7h.9M26.2 17.7h.9M25.1 16.8h.9M22.9 22.7h.9M23.4 22.0h.9M24.8 31.5h.9M24.3 27.8h.9M22.4 15.1h.9M25.3 31.0h.9M26.5 26.6h.9M23.6 22.4h.9M21.9 18.8h.9M22.7 28.9h.9M20.6 20.6h.9M18.4 24.3h.9M26.9 33.6h.9M24.6 24.1h.9M21.2 19.0h.9M24.2 31.8h.9M24.6 16.9h.9M25.3 28.4h.9M29.0 23.9h.9M25.4 30.6h.9M23.7 15.3h.9M22.7 35.3h.9M24.4 17.4h.9M22.0 21.4h.9M23.7 30.5h.9M25.6 25.5h.9M23.8 26.4h.9M29.0 38.8h.9M23.2 42.0h.9M27.4 40.8h.9M28.5 40.6h.9M27.1 40.8h.9M19.9 40.8h.9M35.3 39.7h.9M29.2 41.0h.9M30.5 41.8h.9M22.9 41.2h.9M18.5 40.7h.9M27.8 40.5h.9M25.5 38.6h.9M29.2 41.5h.9M22.7 39.8h.9M21.5 38.9h.9M31.7 41.2h.9M29.4 39.6h.9M23.2 41.1h.9M16.5 42.8h.9M25.6 40.6h.9M30.8 42.8h.9M25.3 42.9h.9M29.4 41.7h.9M26.0 41.2h.9M23.5 40.5h.9M31.3 39.5h.9M17.9 40.3h.9M24.7 41.0h.9M30.9 40.9h.9M24.0 40.6h.9M24.8 40.0h.9M25.5 40.3h.9M26.1 43.7h.9M31.3 39.9h.9M27.6 41.5h.9M27.6 41.4h.9M29.5 41.4h.9M29.3 41.7h.9M24.8 40.2h.9M28.0 40.0h.9M23.3 41.5h.9M33.6 41.3h.9M21.1 41.9h.9M27.0 40.6h.9M26.1 40.7h.9M25.9 41.8h.9M27.2 39.6h.9M25.2 40.6h.9M20.2 40.1h.9M23.7 39.5h.9M15.8 39.7h.9M21.0 41.8h.9M26.6 40.0h.9M29.3 38.4h.9M27.0 40.0h.9M25.9 40.2h.9M24.8 40.8h.9M19.9 38.9h.9M29.5 40.7h.9" stroke="#000" stroke-opacity="0.4" stroke-width=".9"/>
<path d="M26.9 17.1h.9M26.7 24.0h.9M17.0 32.1h.9M23.5 25.1h.9M20.2 19.4h.9M19.3 14.7h.9M36.6 11.7h.9M24.4 39.0h.9M19.6 29.6h.9M31.4 23.8h.9M19.5 22.0h.9M19.5 20.0h.9M23.2 8.8h.9M20.4 18.5h.9M19.8 13.8h.9M31.1 24.7h.9M35.2 20.4h.9M25.7 6.6h.9M23.6 11.1h.9M27.1 23.4h.9M21.6 33.4h.9M23.4 10.3h.9M20.9 25.3h.9M32.5 31.1h.9M26.1 8.5h.9M15.0 32.3h.9M23.2 24.4h.9M30.8 8.5h.9M22.0 24.5h.9M27.5 26.7h.9M27.2 29.9h.9M18.6 26.4h.9M25.0 18.3h.9M19.2 18.7h.9M25.6 4.7h.9M21.5 22.7h.9M20.0 18.3h.9M23.9 15.1h.9M27.6 16.1h.9M25.0 21.0h.9M30.5 26.4h.9M25.5 28.3h.9M20.4 20.8h.9M27.7 19.1h.9M22.5 24.6h.9M16.9 9.4h.9M29.3 25.5h.9M17.6 26.0h.9M25.4 20.3h.9M26.0 13.5h.9M20.3 20.4h.9M28.3 10.3h.9M20.0 25.9h.9M28.7 12.5h.9M22.9 28.2h.9M22.9 37.9h.9M29.7 12.1h.9M26.0 20.6h.9M19.5 22.8h.9M23.4 10.8h.9M19.5 36.1h.9M25.4 35.6h.9M25.6 11.6h.9M20.0 27.9h.9M26.1 1.7h.9M26.5 11.6h.9M23.6 3.8h.9M17.1 14.5h.9M25.2 20.1h.9M18.6 17.0h.9M15.8 24.5h.9M26.7 27.6h.9M28.6 38.7h.9" stroke="#000" stroke-opacity="0.3" stroke-width=".9"/>
</svg>
<rect x="194.26" y="217.90" width="24.60" height="32.20" fill="none" stroke="#2a2a2a" stroke-width="0.9"/>
<text x="221.16" y="240.00" font-size="6.1" fill="#222">18.5</text>
<rect x="240.24" y="215.60" width="55.50" height="52.60" fill="#fff" stroke="#b4b4b4" stroke-width="0.9"/>
<svg x="240.24" y="215.60" width="55.50" height="52.60" overflow="hidden">
<ellipse transform="translate(23.56,17.40)" rx="5.88" ry="6.50" fill="url(#g3)"/>
<ellipse transform="translate(23.56,19.90)" rx="5.88" ry="6.50" fill="url(#g3)"/>
<ellipse transform="translate(23.56,22.40)" rx="5.88" ry="6.50" fill="url(#g3)"/>
<ellipse transform="translate(23.56,24.90)" rx="5.88" ry="6.50" fill="url(#g3)"/>
<ellipse transform="translate(23.56,27.40)" rx="5.88" ry="6.50" fill="url(#g3)"/>
<ellipse transform="translate(23.56,29.90)" rx="5.88" ry="6.50" fill="url(#g3)"/>
<ellipse transform="translate(23.56,32.40)" rx="5.88" ry="6.50" fill="url(#g3)"/>
<ellipse transform="translate(23.56,34.90)" rx="5.88" ry="6.50" fill="url(#g3)"/>
<ellipse transform="translate(23.56,37.40)" rx="5.88" ry="6.50" fill="url(#g3)"/>
<ellipse transform="translate(23.56,39.20)" rx="7.96" ry="2.34" fill="url(#g4)"/>
<ellipse transform="translate(23.76,27.40)" rx="11.70" ry="23.40" fill="url(#g0)" opacity="0.75"/>
<path d="M24.1 33.3h.9M23.3 30.2h.9M21.0 17.8h.9M21.4 28.1h.9M23.5 39.4h.9M25.2 29.1h.9M23.8 30.4h.9M25.5 22.3h.9M21.3 29.6h.9M23.9 22.8h.9M20.5 37.5h.9M25.1 18.4h.9M23.1 24.3h.9M23.8 21.4h.9M22.1 36.3h.9M23.3 22.9h.9M23.1 26.2h.9M25.2 32.4h.9M27.0 32.4h.9M22.2 33.8h.9M25.1 13.7h.9M24.9 15.1h.9M22.9 30.0h.9M28.2 31.0h.9M21.0 31.8h.9M21.9 20.7h.9M22.5 36.5h.9M24.6 19.6h.9M18.1 27.0h.9M22.1 34.5h.9M22.4 18.0h.9M22.9 33.9h.9M25.1 28.5h.9M26.2 19.1h.9M22.5 36.1h.9M26.9 39.6h.9M23.9 24.5h.9M22.3 27.2h.9M25.0 34.3h.9M25.0 16.3h.9M22.5 36.5h.9M23.4 33.8h.9M25.6 31.8h.9M23.7 13.5h.9M24.0 24.4h.9M23.3 19.2h.9M28.3 33.6h.9M28.7 18.9h.9M20.1 19.0h.9M22.4 21.8h.9M25.7 21.0h.9M22.1 33.1h.9M24.4 28.3h.9M25.2 35.8h.9M22.1 15.8h.9M23.5 29.2h.9M25.8 26.7h.9M25.9 18.1h.9M28.3 26.9h.9M19.7 29.8h.9M24.4 35.6h.9M25.3 30.3h.9M25.3 22.8h.9M23.0 21.8h.9M25.7 22.3h.9M24.8 36.1h.9M23.5 12.4h.9M22.6 35.9h.9M22.1 18.5h.9M22.3 22.7h.9M24.0 30.2h.9M28.2 17.7h.9M22.8 27.7h.9M20.1 19.5h.9M26.6 37.1h.9M24.4 34.6h.9M21.7 34.5h.9M24.8 12.1h.9M22.7 27.9h.9M24.5 33.7h.9M22.4 23.7h.9M24.7 22.8h.9M29.0 34.0h.9M21.1 28.1h.9M18.7 33.4h.9M22.4 28.8h.9M20.3 21.7h.9M21.5 20.2h.9M22.8 36.0h.9M26.7 39.2h.9M21.5 37.5h.9M20.7 27.2h.9M20.0 36.8h.9M29.0 26.1h.9M23.2 37.9h.9M21.9 34.6h.9M25.1 26.7h.9M26.2 35.8h.9M20.3 23.7h.9M19.6 32.0h.9M22.0 29.9h.9M25.3 37.2h.9M26.1 32.3h.9M23.4 27.2h.9M23.7 34.9h.9M25.1 23.6h.9M24.9 23.6h.9M21.0 25.2h.9M24.5 33.1h.9M24.7 30.1h.9M25.9 21.0h.9M22.3 23.5h.9M23.0 24.2h.9M21.6 37.9h.9M25.2 34.2h.9M23.3 13.7h.9M22.4 28.7h.9M23.6 37.9h.9M24.7 18.0h.9M24.4 27.8h.9M21.5 26.9h.9M21.5 35.5h.9M25.0 29.4h.9M23.0 32.9h.9M21.9 26.2h.9M19.1 24.9h.9M28.2 14.1h.9M20.6 30.5h.9M24.8 31.3h.9M19.8 17.6h.9M24.7 35.8h.9M22.8 30.2h.9M23.2 24.6h.9M20.3 23.0h.9M21.7 28.4h.9M26.5 24.3h.9M20.4 26.3h.9M22.7 35.0h.9M24.9 28.6h.9M20.0 26.4h.9M25.7 36.9h.9M26.7 23.0h.9M24.3 23.0h.9M27.5 31.8h.9M25.4 37.1h.9M25.4 26.9h.9M24.7 26.8h.9M27.4 17.9h.9M28.3 28.0h.9M20.8 34.8h.9M24.8 32.0h.9M24.1 27.7h.9M21.7 24.7h.9M22.2 25.8h.9M22.3 31.5h.9M24.6 33.3h.9M27.8 19.1h.9M24.4 28.4h.9M20.2 25.7h.9M22.5 24.0h.9M18.9 26.1h.9M19.9 23.8h.9M22.2 28.1h.9M26.1 20.9h.9M27.8 30.0h.9M23.1 31.7h.9M25.1 20.2h.9M24.9 31.9h.9M21.0 23.9h.9M22.8 32.5h.9M19.4 21.6h.9M20.2 25.4h.9M20.7 36.6h.9M20.6 36.5h.9M26.2 34.1h.9M22.4 17.2h.9M21.0 19.1h.9M25.1 19.7h.9M18.1 30.4h.9M26.3 16.4h.9M21.9 18.6h.9M22.7 22.0h.9M24.5 31.0h.9M23.0 34.2h.9M24.6 31.4h.9M25.3 27.6h.9M27.5 22.5h.9M20.1 30.6h.9M24.3 22.2h.9M23.5 16.0h.9M20.9 26.4h.9M25.2 26.8h.9M28.1 38.1h.9M18.1 26.1h.9M23.5 27.9h.9M25.4 32.9h.9M21.2 23.5h.9M25.7 24.0h.9M27.0 29.1h.9M24.1 29.9h.9M25.2 29.3h.9M17.8 30.3h.9M21.9 37.2h.9M22.8 21.3h.9M23.9 36.8h.9M22.3 23.2h.9M26.3 39.1h.9M24.2 20.6h.9M27.4 30.2h.9M23.9 18.4h.9M26.8 29.3h.9M23.3 38.8h.9M24.2 15.4h.9M25.4 30.1h.9M25.2 18.3h.9M21.6 39.6h.9M23.3 34.7h.9M26.3 30.8h.9M23.8 21.9h.9M22.4 15.5h.9M20.1 28.8h.9M24.8 33.1h.9M24.4 31.9h.9M21.8 32.4h.9M25.2 36.0h.9M24.5 38.9h.9M22.7 38.8h.9M26.8 39.5h.9M21.3 38.1h.9M20.4 38.9h.9M25.6 40.5h.9M24.7 40.2h.9M26.2 38.1h.9M21.4 39.0h.9M19.8 38.4h.9M23.9 38.7h.9M21.3 40.2h.9M24.4 39.8h.9M23.4 39.8h.9M26.9 38.0h.9M19.7 39.8h.9M22.7 39.2h.9M28.2 41.2h.9M22.8 39.3h.9M24.2 39.8h.9M22.7 39.8h.9M17.3 38.2h.9M18.3 37.9h.9M25.3 39.2h.9M24.1 40.7h.9M28.6 41.1h.9M21.7 39.1h.9M21.9 39.4h.9M23.4 38.8h.9M17.3 39.6h.9M23.5 39.3h.9M20.4 39.9h.9M20.3 39.7h.9M20.7 38.3h.9M22.4 39.3h.9M24.8 40.3h.9M26.5 39.0h.9M23.8 40.7h.9M24.4 40.9h.9M20.4 39.6h.9M26.6 40.1h.9M26.7 39.5h.9M28.9 41.1h.9M22.7 38.4h.9M26.3 40.4h.9" stroke="#000" stroke-opacity="0.4" stroke-width=".9"/>
<path d="M16.7 37.7h.9M26.3 34.3h.9M31.0 22.4h.9M28.7 34.8h.9M22.7 42.7h.9M23.8 31.0h.9M28.3 37.8h.9M20.6 18.5h.9M25.0 18.5h.9M19.6 17.4h.9M20.1 40.0h.9M14.2 33.1h.9M17.7 34.8h.9M25.1 40.8h.9M19.9 33.0h.9M21.8 31.5h.9M22.0 36.5h.9M20.5 25.5h.9M27.7 24.8h.9M25.6 25.6h.9M28.2 3.7h.9M15.2 15.6h.9M15.2 28.7h.9M23.5 42.4h.9M27.1 26.4h.9M24.2 25.8h.9M33.1 29.7h.9M21.8 34.5h.9M16.1 29.4h.9M18.6 39.7h.9M23.3 23.2h.9M20.3 31.0h.9M20.7 21.4h.9M21.0 4.7h.9M28.5 33.3h.9M19.2 20.8h.9M22.0 35.9h.9M20.2 39.2h.9M23.4 31.2h.9M27.4 29.1h.9M23.3 28.6h.9M30.9 26.5h.9M23.6 33.0h.9M26.4 14.7h.9M16.8 22.0h.9M20.4 27.5h.9M24.8 27.3h.9M20.9 25.2h.9M35.4 26.0h.9M19.0 19.9h.9M18.7 20.6h.9M20.2 24.8h.9M24.4 30.5h.9M24.1 35.9h.9M25.5 30.2h.9M24.2 3.6h.9M20.4 24.6h.9M21.0 28.1h.9M26.0 33.6h.9M27.5 15.8h.9" stroke="#000" stroke-opacity="0.3" stroke-width=".9"/>
</svg>
<rect x="252.34" y="217.90" width="24.60" height="32.20" fill="none" stroke="#2a2a2a" stroke-width="0.9"/>
<text x="279.24" y="240.00" font-size="6.1" fill="#222">72.8</text>
<rect x="298.32" y="215.60" width="55.50" height="52.60" fill="#fff" stroke="#b4b4b4" stroke-width="0.9"/>
<svg x="298.32" y="215.60" width="55.50" height="52.60" overflow="hidden">
<ellipse transform="translate(26.44,13.90) skewX(-9.1)" rx="5.20" ry="6.50" fill="url(#g3)"/>
<ellipse transform="translate(26.05,16.34) skewX(-9.1)" rx="5.20" ry="6.50" fill="url(#g3)"/>
<ellipse transform="translate(25.66,18.79) skewX(-9.1)" rx="5.20" ry="6.50" fill="url(#g3)"/>
<ellipse transform="translate(25.27,21.23) skewX(-9.1)" rx="5.20" ry="6.50" fill="url(#g3)"/>
<ellipse transform="translate(24.88,23.68) skewX(-9.1)" rx="5.20" ry="6.50" fill="url(#g3)"/>
<ellipse transform="translate(24.48,26.12) skewX(-9.1)" rx="5.20" ry="6.50" fill="url(#g3)"/>
<ellipse transform="translate(24.09,28.57) skewX(-9.1)" rx="5.20" ry="6.50" fill="url(#g3)"/>
<ellipse transform="translate(23.70,31.01) skewX(-9.1)" rx="5.20" ry="6.50" fill="url(#g3)"/>
<ellipse transform="translate(23.31,33.46) skewX(-9.1)" rx="5.20" ry="6.50" fill="url(#g3)"/>
<ellipse transform="translate(22.92,35.90) skewX(-9.1)" rx="5.20" ry="6.50" fill="url(#g3)"/>
<ellipse transform="translate(23.18,39.00)" rx="7.49" ry="2.08" fill="url(#g4)"/>
<ellipse transform="translate(24.68,24.40)" rx="10.40" ry="23.40" fill="url(#g0)" opacity="0.62"/>
<path d="M27.8 12.2h.9M22.4 34.3h.9M25.6 23.5h.9M20.8 31.4h.9M26.1 18.0h.9M23.3 29.6h.9M24.8 14.7h.9M23.6 36.2h.9M26.8 23.7h.9M27.1 14.4h.9M22.1 35.9h.9M28.8 14.3h.9M23.6 22.4h.9M25.6 18.2h.9M23.4 22.9h.9M24.3 18.3h.9M27.0 22.4h.9M21.9 31.3h.9M23.9 35.8h.9M25.4 23.6h.9M25.1 31.6h.9M25.1 25.5h.9M26.0 24.4h.9M25.6 22.5h.9M26.3 20.3h.9M24.2 31.9h.9M22.2 30.4h.9M22.2 35.4h.9M25.9 15.8h.9M24.9 16.9h.9M29.4 23.5h.9M24.1 23.8h.9M25.5 27.8h.9M23.9 34.7h.9M26.8 12.6h.9M24.7 12.7h.9M25.8 21.7h.9M26.6 27.5h.9M22.8 30.8h.9M21.7 36.6h.9M29.6 14.3h.9M25.9 34.2h.9M26.8 16.2h.9M26.4 16.8h.9M20.5 34.5h.9M28.6 11.1h.9M24.0 26.1h.9M25.3 18.7h.9M25.0 22.1h.9M21.6 36.7h.9M23.7 33.3h.9M27.3 20.3h.9M24.8 21.9h.9M29.2 16.4h.9M24.1 22.4h.9M25.3 13.3h.9M24.1 35.1h.9M25.3 26.2h.9M24.9 10.6h.9M25.6 26.9h.9M24.3 31.0h.9M20.1 32.3h.9M29.9 22.2h.9M26.6 21.4h.9M25.3 22.3h.9M23.3 28.1h.9M23.6 26.9h.9M24.3 14.8h.9M27.3 26.9h.9M18.7 36.8h.9M24.0 34.0h.9M23.7 27.7h.9M26.6 21.9h.9M26.3 11.8h.9M22.0 24.1h.9M23.6 12.0h.9M25.0 25.8h.9M22.2 34.0h.9M23.4 23.8h.9M24.4 24.5h.9M23.8 24.2h.9M22.3 28.3h.9M24.6 18.9h.9M27.8 15.1h.9M26.2 24.8h.9M23.9 37.5h.9M23.4 27.3h.9M25.5 23.1h.9M25.6 21.2h.9M28.2 26.4h.9M21.4 29.7h.9M21.0 16.4h.9M23.8 19.7h.9M20.8 34.1h.9M23.5 20.6h.9M23.6 32.9h.9M27.2 13.9h.9M28.9 15.8h.9M25.5 29.8h.9M25.9 16.9h.9M22.8 23.2h.9M27.7 19.4h.9M27.1 17.1h.9M26.0 18.5h.9M25.0 32.2h.9M27.5 29.6h.9M28.0 16.5h.9M24.7 17.9h.9M27.3 24.6h.9M22.3 31.1h.9M23.5 27.2h.9M26.3 33.0h.9M24.6 16.4h.9M24.0 15.3h.9M28.3 17.4h.9M24.6 18.4h.9M25.5 27.1h.9M25.7 22.7h.9M26.9 28.2h.9M23.5 14.4h.9M28.5 18.3h.9M24.8 31.9h.9M20.0 36.8h.9M23.6 21.4h.9M23.7 27.2h.9M24.9 25.9h.9M26.6 36.6h.9M26.6 14.9h.9M25.5 18.9h.9M21.4 30.3h.9M25.4 23.2h.9M24.5 26.7h.9M26.4 24.8h.9M22.0 21.1h.9M25.5 29.0h.9M24.3 23.1h.9M25.3 13.4h.9M24.6 22.2h.9M26.5 17.1h.9M24.5 34.6h.9M25.5 21.6h.9M28.3 20.4h.9M29.4 15.9h.9M26.2 18.3h.9M25.8 13.0h.9M27.6 25.2h.9M26.6 18.6h.9M25.2 20.8h.9M19.1 33.5h.9M26.2 21.0h.9M26.2 29.0h.9M24.7 18.0h.9M23.1 32.9h.9M27.0 18.5h.9M28.3 9.7h.9M24.2 19.0h.9M24.0 18.0h.9M25.9 28.8h.9M23.7 30.4h.9M21.1 30.6h.9M27.4 29.7h.9M27.1 21.9h.9M27.8 14.9h.9M29.2 23.7h.9M21.2 27.1h.9M28.1 31.8h.9M22.9 34.5h.9M22.6 29.1h.9M29.1 13.3h.9M23.5 29.8h.9M27.1 29.8h.9M22.2 35.5h.9M21.2 28.1h.9M24.9 30.8h.9M24.5 28.9h.9M21.6 19.6h.9M27.5 15.1h.9M24.1 31.2h.9M26.9 15.5h.9M23.5 24.0h.9M25.8 31.2h.9M26.1 32.3h.9M25.5 24.8h.9M28.5 24.6h.9M24.7 34.8h.9M25.2 20.2h.9M23.3 21.2h.9M24.8 33.4h.9M22.3 33.6h.9M25.0 26.7h.9M24.1 15.4h.9M23.8 26.7h.9M25.1 29.2h.9M21.9 33.9h.9M24.6 24.9h.9M21.5 16.9h.9M25.7 29.3h.9M26.8 26.1h.9M22.2 34.3h.9M23.1 34.6h.9M28.2 28.3h.9M21.1 22.2h.9M25.5 15.9h.9M24.1 28.4h.9M22.0 37.3h.9M24.0 26.5h.9M22.2 28.0h.9M26.6 23.0h.9M26.4 13.1h.9M23.6 32.0h.9M24.1 19.5h.9M24.4 25.6h.9M23.4 28.2h.9M20.8 28.8h.9M22.0 31.9h.9M22.7 35.4h.9M26.7 14.4h.9M22.9 18.1h.9M24.2 32.4h.9M28.9 17.1h.9M26.0 23.4h.9M25.0 15.9h.9M26.6 18.4h.9M28.2 16.7h.9M23.7 32.6h.9M23.8 37.1h.9M23.5 38.5h.9M22.3 38.6h.9M24.2 39.2h.9M16.0 38.4h.9M24.7 38.4h.9M24.4 38.3h.9M20.5 38.7h.9M27.9 39.9h.9M23.0 38.9h.9M19.4 39.8h.9M26.4 38.3h.9M21.8 39.7h.9M24.2 38.4h.9M21.8 37.9h.9M16.2 38.8h.9M25.4 39.5h.9M19.1 39.8h.9M20.9 38.0h.9M29.0 38.0h.9M22.3 38.2h.9M24.5 39.2h.9M20.1 40.1h.9M23.6 39.7h.9M23.6 38.1h.9M27.8 37.9h.9M26.1 38.4h.9M21.4 40.0h.9M23.6 38.3h.9M25.8 38.2h.9M21.0 39.1h.9M25.3 38.5h.9M28.0 37.8h.9M22.6 38.4h.9M27.8 38.3h.9M26.9 39.7h.9M23.4 39.5h.9M25.1 40.3h.9M24.8 39.3h.9M24.0 39.6h.9M18.6 38.9h.9M19.5 40.6h.9M21.1 37.3h.9M26.7 40.5h.9M23.9 38.5h.9" stroke="#000" stroke-opacity="0.4" stroke-width=".9"/>
<path d="M16.8 24.2h.9M25.8 21.4h.9M19.9 34.9h.9M18.4 4.2h.9M25.0 27.4h.9M25.3 25.7h.9M19.2 21.1h.9M26.2 28.5h.9M29.7 29.6h.9M15.3 13.3h.9M33.2 8.4h.9M26.3 16.2h.9M27.6 24.3h.9M22.3 22.9h.9M26.8 26.6h.9M29.9 15.7h.9M26.5 34.7h.9M23.7 23.4h.9M27.3 9.6h.9M22.7 15.6h.9M21.0 33.4h.9M28.1 19.7h.9M21.9 41.1h.9M22.1 34.3h.9M26.6 27.9h.9M28.8 14.2h.9M24.9 40.6h.9M20.0 26.8h.9M24.9 40.5h.9M27.7 12.9h.9M21.9 11.2h.9M30.2 5.2h.9M22.1 44.3h.9M22.4 18.5h.9M26.9 19.3h.9M20.6 37.5h.9M17.5 28.4h.9M24.3 38.1h.9M30.8 18.1h.9M30.2 23.4h.9M31.3 34.1h.9M24.9 17.2h.9M23.9 27.7h.9M21.8 38.1h.9M30.1 33.4h.9M20.8 6.8h.9M22.5 16.3h.9M24.0 27.9h.9M22.8 25.1h.9M26.6 23.7h.9M21.6 31.1h.9M21.6 23.4h.9M18.9 22.8h.9M27.4 33.0h.9M21.9 23.3h.9M22.0 20.3h.9M31.2 10.5h.9M27.0 13.9h.9" stroke="#000" stroke-opacity="0.3" stroke-width=".9"/>
</svg>
<rect x="310.42" y="217.90" width="24.60" height="32.20" fill="none" stroke="#2a2a2a" stroke-width="0.9"/>
<text x="337.32" y="240.00" font-size="6.1" fill="#222">50.5</text>
<rect x="356.40" y="215.60" width="55.50" height="52.60" fill="#fff" stroke="#b4b4b4" stroke-width="0.9"/>
<svg x="356.40" y="215.60" width="55.50" height="52.60" overflow="hidden">
<ellipse transform="translate(24.10,16.40)" rx="5.72" ry="10.40" fill="url(#g0)"/>
<ellipse transform="translate(24.10,29.40)" rx="5.72" ry="9.10" fill="url(#g2)"/>
<ellipse transform="translate(24.60,35.90)" rx="5.20" ry="5.72" fill="url(#g3)"/>
<ellipse transform="translate(25.10,40.20)" rx="7.72" ry="2.60" fill="url(#g4)"/>
<path d="M20.6 18.8h.9M25.3 8.7h.9M27.2 8.4h.9M24.3 14.4h.9M22.9 16.4h.9M23.4 15.8h.9M23.9 21.4h.9M22.9 16.3h.9M22.5 13.9h.9M28.1 16.4h.9M24.6 20.9h.9M26.3 23.1h.9M23.7 17.2h.9M24.6 12.0h.9M20.6 15.1h.9M28.4 11.3h.9M25.2 17.3h.9M23.1 17.2h.9M26.5 18.2h.9M25.2 15.2h.9M23.0 20.5h.9M22.5 17.1h.9M23.3 18.8h.9M22.4 21.0h.9M23.4 23.2h.9M22.1 13.0h.9M22.2 19.1h.9M26.9 23.6h.9M21.0 18.5h.9M22.5 16.3h.9M25.0 9.2h.9M22.9 25.2h.9M26.9 19.6h.9M23.4 12.6h.9M25.1 17.5h.9M24.6 11.8h.9M26.2 16.0h.9M22.9 10.0h.9M23.4 14.4h.9M22.7 19.3h.9M22.5 27.4h.9M26.3 19.8h.9M23.7 20.3h.9M23.5 13.1h.9M24.4 19.1h.9M25.4 18.7h.9M22.0 12.9h.9M23.0 22.2h.9M28.2 10.1h.9M22.0 13.1h.9M21.6 20.3h.9M26.4 12.9h.9M29.6 13.1h.9M30.0 16.8h.9M24.2 16.9h.9M23.6 13.8h.9M24.0 14.4h.9M21.3 19.5h.9M19.5 12.7h.9M23.9 22.4h.9M24.0 29.4h.9M24.8 32.9h.9M23.7 32.4h.9M24.0 29.0h.9M26.5 22.9h.9M21.9 23.9h.9M24.2 31.7h.9M27.9 32.2h.9M27.1 35.9h.9M28.6 28.6h.9M23.9 26.3h.9M23.6 32.9h.9M23.3 29.0h.9M18.7 34.2h.9M26.4 33.9h.9M25.3 29.1h.9M26.5 26.0h.9M22.1 40.1h.9M24.0 34.3h.9M23.0 28.2h.9M21.3 28.7h.9M27.8 24.6h.9M25.3 29.3h.9M25.1 30.5h.9M22.0 24.1h.9M26.3 31.6h.9M22.8 25.4h.9M25.5 25.7h.9M24.2 30.6h.9M24.9 27.1h.9M22.5 29.5h.9M22.6 30.6h.9M25.5 32.7h.9M25.4 27.0h.9M22.5 29.6h.9M20.4 26.2h.9M24.9 25.4h.9M22.7 33.6h.9M24.9 30.0h.9M25.1 32.1h.9M25.8 33.7h.9M25.0 26.7h.9M23.7 21.2h.9M25.4 29.5h.9M25.9 28.3h.9M22.3 34.0h.9M24.7 27.5h.9M24.4 31.1h.9M21.5 32.3h.9M26.7 32.1h.9M25.0 33.3h.9M25.0 28.6h.9M20.6 29.1h.9M24.0 27.3h.9M22.0 27.6h.9M23.3 28.6h.9M24.0 29.6h.9M26.3 30.0h.9M25.0 29.9h.9M17.6 25.1h.9M25.6 28.0h.9M22.7 28.2h.9M26.1 25.1h.9M24.6 27.6h.9M25.3 33.4h.9M23.8 37.3h.9M25.6 32.7h.9M24.2 27.1h.9M21.8 27.4h.9M22.4 30.4h.9M22.5 35.3h.9M24.3 27.5h.9M24.2 27.6h.9M21.0 27.3h.9M21.3 21.0h.9M25.1 34.7h.9M23.1 29.9h.9M24.8 28.9h.9M22.3 24.5h.9M26.9 26.3h.9M26.7 25.7h.9M30.1 27.8h.9M24.2 29.1h.9M26.0 34.1h.9M21.7 32.7h.9M27.8 33.4h.9M23.0 29.0h.9M26.3 25.6h.9M24.1 30.4h.9M27.7 25.1h.9M24.6 37.8h.9M22.7 39.1h.9M22.6 37.8h.9M24.0 39.0h.9M23.8 38.6h.9M26.9 36.8h.9M24.8 33.9h.9M26.3 34.1h.9M23.9 34.6h.9M26.9 35.5h.9M24.5 33.6h.9M23.5 35.2h.9M24.3 34.2h.9M21.5 36.3h.9M22.2 36.4h.9M29.2 35.9h.9M24.5 33.8h.9M26.6 35.3h.9M21.0 34.9h.9M25.0 32.4h.9M26.7 36.5h.9M25.9 34.7h.9M27.2 33.6h.9M23.2 35.7h.9M28.1 36.3h.9M22.1 34.0h.9M22.3 33.7h.9M25.3 35.8h.9M25.0 35.5h.9M24.0 38.5h.9M20.0 33.1h.9M23.2 36.4h.9M25.4 35.4h.9M21.5 36.9h.9M24.7 33.8h.9M26.9 35.6h.9M20.5 34.8h.9M21.3 38.5h.9M25.4 33.8h.9M29.6 33.6h.9M25.7 36.4h.9M29.0 34.9h.9M23.2 37.1h.9M21.2 38.7h.9M25.2 34.6h.9M22.3 40.3h.9M29.5 41.8h.9M26.2 39.3h.9M23.8 39.6h.9M25.5 41.2h.9M25.4 40.1h.9M28.7 39.0h.9M29.0 39.4h.9M23.7 39.7h.9M25.7 41.7h.9M23.5 39.6h.9M30.7 40.8h.9M23.9 40.8h.9M23.1 39.1h.9M25.8 40.1h.9M28.9 39.5h.9M23.0 39.2h.9M26.5 40.7h.9M28.0 39.8h.9M30.0 38.8h.9M30.9 42.4h.9M30.9 40.3h.9M29.0 40.3h.9M25.7 40.0h.9M19.9 40.7h.9M30.2 40.0h.9M26.2 37.3h.9M26.1 41.1h.9M29.2 40.4h.9M19.5 40.5h.9M24.2 39.3h.9M23.8 40.3h.9M30.1 40.1h.9M28.5 37.3h.9M26.9 41.1h.9M25.3 40.2h.9M25.8 40.6h.9M27.4 39.5h.9M25.0 39.4h.9M21.7 39.8h.9M24.9 40.8h.9M24.9 39.0h.9M29.4 38.8h.9M31.0 40.7h.9M27.2 39.6h.9" stroke="#000" stroke-opacity="0.4" stroke-width=".9"/>
</svg>
<rect x="368.50" y="217.90" width="24.60" height="32.20" fill="none" stroke="#2a2a2a" stroke-width="0.9"/>
<text x="395.40" y="240.00" font-size="6.1" fill="#222">25.7</text>
<line x1="66.00" y1="215.60" x2="66.00" y2="268.20" stroke="#888" stroke-width="0.8"/>
<line x1="64.40" y1="220.70" x2="66.30" y2="220.70" stroke="#111" stroke-width="0.9"/>
<line x1="65.10" y1="223.67" x2="66.20" y2="223.67" stroke="#333" stroke-width="0.6"/>
<line x1="65.10" y1="226.65" x2="66.20" y2="226.65" stroke="#333" stroke-width="0.6"/>
<line x1="65.10" y1="229.62" x2="66.20" y2="229.62" stroke="#333" stroke-width="0.6"/>
<line x1="64.40" y1="232.60" x2="66.30" y2="232.60" stroke="#111" stroke-width="0.9"/>
<line x1="65.10" y1="236.03" x2="66.20" y2="236.03" stroke="#333" stroke-width="0.6"/>
<line x1="65.10" y1="239.45" x2="66.20" y2="239.45" stroke="#333" stroke-width="0.6"/>
<line x1="65.10" y1="242.88" x2="66.20" y2="242.88" stroke="#333" stroke-width="0.6"/>
<line x1="64.40" y1="246.30" x2="66.30" y2="246.30" stroke="#111" stroke-width="0.9"/>
<line x1="65.10" y1="248.32" x2="66.20" y2="248.32" stroke="#333" stroke-width="0.6"/>
<line x1="65.10" y1="250.35" x2="66.20" y2="250.35" stroke="#333" stroke-width="0.6"/>
<line x1="65.10" y1="252.37" x2="66.20" y2="252.37" stroke="#333" stroke-width="0.6"/>
<line x1="64.40" y1="254.40" x2="66.30" y2="254.40" stroke="#111" stroke-width="0.9"/>
<line x1="65.10" y1="256.57" x2="66.20" y2="256.57" stroke="#333" stroke-width="0.6"/>
<line x1="65.10" y1="258.75" x2="66.20" y2="258.75" stroke="#333" stroke-width="0.6"/>
<line x1="65.10" y1="260.92" x2="66.20" y2="260.92" stroke="#333" stroke-width="0.6"/>
<line x1="64.40" y1="263.10" x2="66.30" y2="263.10" stroke="#111" stroke-width="0.9"/>
<text x="61.20" y="223.00" font-size="6.4" fill="#222" text-anchor="end" font-family="Liberation Sans, sans-serif">10<tspan font-size="4.48" dy="-2.56">5</tspan></text>
<text x="61.20" y="234.90" font-size="6.4" fill="#222" text-anchor="end" font-family="Liberation Sans, sans-serif">10<tspan font-size="4.48" dy="-2.56">4</tspan></text>
<text x="61.20" y="248.60" font-size="6.4" fill="#222" text-anchor="end" font-family="Liberation Sans, sans-serif">10<tspan font-size="4.48" dy="-2.56">3</tspan></text>
<text x="58.50" y="256.70" font-size="6.4" fill="#222" text-anchor="end">0</text>
<text x="61.20" y="265.40" font-size="6.4" fill="#222" text-anchor="end" font-family="Liberation Sans, sans-serif">−10<tspan font-size="4.48" dy="-2.56">3</tspan></text>
<rect x="66.00" y="270.80" width="55.50" height="52.60" fill="#fff" stroke="#b4b4b4" stroke-width="0.9"/>
<svg x="66.00" y="270.80" width="55.50" height="52.60" overflow="hidden">
<ellipse transform="translate(25.50,13.20)" rx="6.76" ry="10.40" fill="url(#g4)"/>
<ellipse transform="translate(25.80,21.20)" rx="5.20" ry="6.50" fill="url(#g1)"/>
<ellipse transform="translate(25.80,23.60)" rx="5.20" ry="6.50" fill="url(#g1)"/>
<ellipse transform="translate(25.80,26.00)" rx="5.20" ry="6.50" fill="url(#g1)"/>
<ellipse transform="translate(25.80,28.40)" rx="5.20" ry="6.50" fill="url(#g1)"/>
<ellipse transform="translate(25.80,30.80)" rx="5.20" ry="6.50" fill="url(#g1)"/>
<ellipse transform="translate(25.80,33.20)" rx="5.20" ry="6.50" fill="url(#g1)"/>
<ellipse transform="translate(26.50,38.40)" rx="8.42" ry="2.08" fill="url(#g4)"/>
<ellipse transform="translate(35.50,38.20)" rx="3.51" ry="1.56" fill="url(#g2)"/>
<ellipse transform="translate(26.00,22.20)" rx="15.60" ry="26.00" fill="url(#g0)" opacity="0.38"/>
<path d="M23.3 9.3h.9M26.6 12.8h.9M24.8 16.9h.9M28.0 17.6h.9M25.0 9.7h.9M29.9 9.5h.9M27.8 11.0h.9M24.8 16.8h.9M26.4 11.3h.9M22.2 10.1h.9M26.4 9.3h.9M30.1 14.0h.9M26.8 5.9h.9M28.5 8.6h.9M25.8 16.0h.9M24.5 19.1h.9M22.8 11.1h.9M25.8 10.6h.9M28.8 15.9h.9M23.6 12.1h.9M24.4 11.9h.9M24.5 11.3h.9M25.4 9.7h.9M25.1 11.2h.9M25.9 7.7h.9M27.2 15.5h.9M22.6 11.0h.9M22.5 8.0h.9M24.7 10.6h.9M27.2 6.2h.9M23.7 7.1h.9M27.6 10.3h.9M24.6 20.5h.9M24.5 12.1h.9M25.1 12.4h.9M22.7 23.0h.9M23.5 12.8h.9M24.2 14.6h.9M22.7 15.5h.9M26.0 21.6h.9M27.3 6.2h.9M22.5 11.3h.9M24.2 14.9h.9M24.1 16.1h.9M25.9 16.8h.9M25.9 14.6h.9M24.6 11.8h.9M27.3 15.0h.9M31.3 11.6h.9M22.6 19.9h.9M25.3 17.5h.9M23.5 14.1h.9M23.4 19.7h.9M23.6 12.9h.9M28.7 20.8h.9M24.3 8.0h.9M24.4 14.6h.9M22.7 11.8h.9M22.7 14.2h.9M31.6 16.5h.9M29.7 11.9h.9M23.8 14.7h.9M23.0 11.8h.9M27.3 13.7h.9M24.8 16.9h.9M25.3 8.5h.9M26.2 19.8h.9M20.2 13.0h.9M26.9 11.5h.9M29.0 9.5h.9M23.3 11.0h.9M25.3 10.9h.9M24.1 17.1h.9M25.3 6.2h.9M29.4 15.3h.9M29.3 8.8h.9M26.7 15.9h.9M23.3 10.2h.9M27.9 9.4h.9M28.2 14.1h.9M25.6 20.4h.9M30.4 13.0h.9M24.4 8.1h.9M24.5 11.7h.9M23.4 13.8h.9M22.0 17.8h.9M21.2 10.0h.9M27.0 7.7h.9M25.0 15.7h.9M27.1 16.5h.9M25.4 10.9h.9M30.6 14.6h.9M26.5 11.5h.9M28.6 15.3h.9M28.2 14.9h.9M24.8 9.0h.9M25.4 5.6h.9M26.1 22.4h.9M26.2 13.6h.9M22.1 13.8h.9M25.1 10.5h.9M23.3 13.9h.9M23.6 12.8h.9M23.8 8.0h.9M27.6 10.0h.9M27.0 18.5h.9M24.1 12.4h.9M24.2 7.0h.9M28.4 19.4h.9M24.9 14.1h.9M26.6 13.2h.9M26.6 13.2h.9M25.6 10.2h.9M28.3 11.8h.9M28.8 8.3h.9M24.2 12.9h.9M25.8 13.3h.9M26.6 12.3h.9M21.2 10.9h.9M25.5 15.9h.9M26.6 30.2h.9M25.0 27.2h.9M27.9 32.8h.9M26.6 27.9h.9M23.8 24.7h.9M28.1 21.7h.9M23.6 25.0h.9M25.1 26.2h.9M25.2 26.3h.9M22.0 26.4h.9M23.8 28.8h.9M26.0 23.5h.9M22.7 22.7h.9M23.5 26.8h.9M26.1 27.8h.9M24.8 20.9h.9M24.4 29.7h.9M28.2 29.8h.9M28.0 25.0h.9M25.6 30.4h.9M26.7 24.9h.9M25.8 20.1h.9M25.6 30.7h.9M27.2 22.0h.9M25.5 31.1h.9M24.1 31.5h.9M26.7 21.5h.9M27.1 18.8h.9M27.0 20.6h.9M27.8 28.0h.9M24.2 29.0h.9M25.0 19.2h.9M27.3 19.6h.9M24.2 18.6h.9M25.4 25.9h.9M25.4 25.6h.9M27.4 23.4h.9M27.0 23.2h.9M26.5 28.8h.9M28.6 29.2h.9M27.3 31.3h.9M26.8 26.3h.9M25.1 30.8h.9M25.1 22.7h.9M23.3 28.7h.9M28.1 22.9h.9M26.4 26.4h.9M27.3 28.3h.9M27.6 31.0h.9M26.8 27.5h.9M25.7 21.7h.9M28.0 20.0h.9M25.3 38.3h.9M25.3 32.8h.9M24.9 31.9h.9M22.9 25.2h.9M27.7 27.7h.9M28.6 23.3h.9M26.5 18.5h.9M25.0 26.3h.9M23.3 19.5h.9M30.5 28.2h.9M26.7 27.4h.9M22.9 25.8h.9M24.8 20.7h.9M24.2 36.7h.9M25.7 34.1h.9M29.1 30.0h.9M24.4 36.1h.9M29.3 26.4h.9M27.6 29.9h.9M22.6 31.9h.9M26.8 28.7h.9M27.6 23.0h.9M28.4 26.1h.9M24.3 32.7h.9M27.3 25.3h.9M26.0 28.4h.9M26.1 30.7h.9M25.8 30.3h.9M26.2 22.4h.9M23.2 26.4h.9M27.4 32.9h.9M30.1 26.6h.9M28.5 24.9h.9M22.3 28.4h.9M24.7 18.7h.9M25.4 24.1h.9M28.7 29.5h.9M23.0 29.0h.9M24.1 32.0h.9M29.9 23.0h.9M26.9 31.5h.9M24.6 32.4h.9M24.5 30.6h.9M26.6 20.9h.9M27.6 33.6h.9M28.8 32.0h.9M26.6 28.1h.9M30.0 30.1h.9M27.0 24.6h.9M30.5 26.4h.9M26.8 23.9h.9M26.0 30.1h.9M27.8 26.4h.9M25.3 37.9h.9M30.0 38.1h.9M29.4 37.5h.9M26.4 37.7h.9M19.7 36.3h.9M29.3 38.6h.9M26.6 38.8h.9M27.7 39.2h.9M22.2 39.0h.9M25.2 39.9h.9M24.3 37.5h.9M26.8 39.2h.9M31.0 38.3h.9M28.1 39.3h.9M29.2 37.7h.9M27.4 38.1h.9M20.7 38.2h.9M25.6 38.1h.9M22.7 37.1h.9M26.0 39.7h.9M28.4 40.0h.9M24.3 38.1h.9M23.6 39.7h.9M25.0 38.9h.9M25.0 37.7h.9M31.8 38.0h.9M24.6 37.9h.9M24.5 36.6h.9M23.6 36.8h.9M22.4 36.1h.9M27.2 39.3h.9M24.8 37.2h.9M25.6 39.5h.9M27.1 37.3h.9M25.4 37.2h.9M26.3 38.5h.9M32.5 37.7h.9M28.6 39.7h.9M27.4 39.5h.9M24.2 38.6h.9M28.1 38.0h.9M22.7 38.1h.9M24.7 37.8h.9M22.3 36.7h.9M18.7 38.8h.9M30.4 38.4h.9M28.5 37.8h.9M24.6 38.6h.9M24.5 37.1h.9M26.3 38.5h.9M30.2 38.3h.9M25.7 38.8h.9M23.8 38.8h.9M24.3 36.6h.9M27.6 39.1h.9M27.9 38.6h.9M31.3 38.0h.9M25.7 38.0h.9M22.8 38.7h.9M31.2 39.3h.9M34.6 38.4h.9M34.6 39.2h.9M35.6 38.2h.9M33.6 39.0h.9M36.8 39.0h.9M33.6 38.3h.9M32.1 39.1h.9M37.8 37.7h.9M34.9 38.7h.9M33.6 37.8h.9M34.1 38.7h.9M36.5 38.1h.9M35.3 37.9h.9M33.3 39.0h.9M37.6 38.2h.9" stroke="#000" stroke-opacity="0.4" stroke-width=".9"/>
<path d="M23.3 19.8h.9M15.9 25.2h.9M28.6 20.6h.9M36.1 18.8h.9M28.3 4.2h.9M28.4 24.8h.9M36.0 10.2h.9M28.0 24.3h.9M23.4 22.3h.9M23.8 20.1h.9M34.9 22.5h.9M21.6 29.4h.9M26.5 19.8h.9M29.8 18.2h.9M16.8 26.0h.9M18.8 24.8h.9M23.0 20.6h.9M29.3 16.0h.9M35.6 18.9h.9M31.2 24.2h.9M37.7 18.2h.9M20.7 14.8h.9M35.3 5.8h.9M23.6 32.3h.9M21.1 4.0h.9M30.6 21.9h.9M30.3 31.6h.9M22.5 22.9h.9M26.7 12.5h.9M15.3 33.4h.9M28.2 18.5h.9M18.5 11.5h.9M21.9 35.2h.9M32.7 17.9h.9M32.3 19.6h.9M18.4 41.2h.9M36.4 36.7h.9M16.6 9.3h.9M27.8 41.4h.9M20.7 26.3h.9M22.3 25.5h.9M19.3 22.4h.9M28.1 16.6h.9M16.8 27.2h.9M34.8 45.6h.9M31.7 23.9h.9M30.0 10.9h.9M16.8 40.8h.9M21.7 15.8h.9M27.4 25.1h.9M25.1 9.1h.9M28.9 14.2h.9M27.8 16.9h.9M23.0 34.6h.9M24.3 12.0h.9M31.2 22.2h.9M26.3 11.3h.9M25.0 35.0h.9M27.9 23.1h.9M30.7 27.2h.9M13.7 26.5h.9M36.4 23.7h.9M28.7 10.6h.9M25.6 19.3h.9M29.6 35.8h.9M20.6 18.5h.9M20.6 38.4h.9M28.1 21.0h.9M23.1 8.4h.9M27.8 22.7h.9M26.1 19.6h.9M17.6 21.0h.9M32.4 20.2h.9M29.8 22.9h.9M36.0 29.9h.9M28.8 7.0h.9M34.9 11.8h.9M21.0 10.2h.9M30.8 12.2h.9M41.1 32.0h.9M19.5 16.4h.9M23.9 19.2h.9M29.7 18.5h.9M25.2 23.1h.9M30.1 3.3h.9" stroke="#000" stroke-opacity="0.3" stroke-width=".9"/>
</svg>
<rect x="78.10" y="273.10" width="24.60" height="32.20" fill="none" stroke="#2a2a2a" stroke-width="0.9"/>
<text x="105.00" y="295.20" font-size="6.1" fill="#222">63.7</text>
<rect x="124.08" y="270.80" width="55.50" height="52.60" fill="#fff" stroke="#b4b4b4" stroke-width="0.9"/>
<svg x="124.08" y="270.80" width="55.50" height="52.60" overflow="hidden">
<ellipse transform="translate(26.02,13.20) skewX(-3.4)" rx="4.98" ry="6.50" fill="url(#g1)"/>
<ellipse transform="translate(25.87,15.70) skewX(-3.4)" rx="4.98" ry="6.50" fill="url(#g1)"/>
<ellipse transform="translate(25.72,18.20) skewX(-3.4)" rx="4.98" ry="6.50" fill="url(#g1)"/>
<ellipse transform="translate(25.57,20.70) skewX(-3.4)" rx="4.98" ry="6.50" fill="url(#g1)"/>
<ellipse transform="translate(25.42,23.20) skewX(-3.4)" rx="4.98" ry="6.50" fill="url(#g1)"/>
<ellipse transform="translate(25.27,25.70) skewX(-3.4)" rx="4.98" ry="6.50" fill="url(#g1)"/>
<ellipse transform="translate(25.12,28.20) skewX(-3.4)" rx="4.98" ry="6.50" fill="url(#g1)"/>
<ellipse transform="translate(24.97,30.70) skewX(-3.4)" rx="4.98" ry="6.50" fill="url(#g1)"/>
<ellipse transform="translate(24.82,33.20) skewX(-3.4)" rx="4.98" ry="6.50" fill="url(#g1)"/>
<ellipse transform="translate(25.22,28.20)" rx="5.20" ry="10.40" fill="url(#g2)"/>
<ellipse transform="translate(25.22,39.00)" rx="7.25" ry="2.34" fill="url(#g4)"/>
<ellipse transform="translate(25.42,24.20)" rx="11.70" ry="23.40" fill="url(#g0)" opacity="0.25"/>
<path d="M22.6 20.0h.9M28.6 19.6h.9M23.4 28.0h.9M23.5 28.8h.9M30.2 8.1h.9M25.0 24.5h.9M28.0 16.2h.9M28.5 25.3h.9M23.8 14.0h.9M24.1 22.9h.9M25.1 28.4h.9M22.8 22.4h.9M23.0 16.9h.9M24.8 24.5h.9M27.1 20.8h.9M26.0 29.7h.9M24.7 26.5h.9M27.8 19.3h.9M26.1 25.1h.9M28.9 31.3h.9M28.4 26.2h.9M24.4 30.4h.9M25.5 20.2h.9M26.7 21.1h.9M24.7 30.4h.9M25.2 31.0h.9M27.2 15.3h.9M26.6 15.9h.9M28.0 22.1h.9M27.4 27.6h.9M23.2 31.2h.9M23.0 23.5h.9M25.9 30.3h.9M24.4 30.8h.9M24.8 27.7h.9M27.4 30.1h.9M27.1 24.8h.9M27.9 22.9h.9M24.9 29.0h.9M26.2 17.5h.9M27.6 18.5h.9M24.4 26.0h.9M24.9 18.4h.9M22.7 32.1h.9M26.6 31.0h.9M29.3 27.4h.9M27.1 33.0h.9M27.4 32.3h.9M23.3 15.2h.9M24.8 30.0h.9M23.6 26.5h.9M27.9 10.5h.9M24.2 31.5h.9M26.6 14.7h.9M25.3 22.4h.9M26.8 31.1h.9M27.6 26.1h.9M24.9 28.3h.9M23.4 13.0h.9M24.2 27.5h.9M24.5 14.6h.9M25.2 15.8h.9M29.5 33.3h.9M26.0 31.5h.9M23.8 14.1h.9M28.7 8.1h.9M25.2 32.4h.9M27.6 34.9h.9M24.6 27.0h.9M26.1 13.2h.9M25.9 11.3h.9M24.2 20.4h.9M27.4 26.3h.9M24.0 18.7h.9M25.8 10.0h.9M25.7 21.7h.9M27.3 15.7h.9M23.8 33.3h.9M22.3 27.1h.9M28.8 16.0h.9M24.4 25.5h.9M26.5 30.8h.9M20.8 17.9h.9M26.0 28.0h.9M22.3 28.7h.9M24.9 28.4h.9M23.2 22.8h.9M25.7 20.5h.9M26.9 23.4h.9M26.8 17.5h.9M27.0 18.6h.9M25.8 14.6h.9M23.6 21.7h.9M24.9 16.0h.9M25.0 37.0h.9M27.8 19.1h.9M26.2 34.9h.9M26.6 27.3h.9M23.4 21.8h.9M28.4 30.9h.9M24.5 25.8h.9M25.0 26.3h.9M25.6 28.4h.9M26.4 30.6h.9M25.9 26.7h.9M24.8 24.1h.9M25.7 30.1h.9M24.8 17.6h.9M27.8 17.9h.9M27.4 12.6h.9M23.2 31.7h.9M24.7 27.4h.9M26.4 27.6h.9M24.7 12.4h.9M27.4 18.9h.9M27.5 30.0h.9M25.3 23.0h.9M29.2 15.6h.9M27.0 31.2h.9M26.9 16.7h.9M27.2 21.6h.9M23.5 22.9h.9M27.1 27.8h.9M28.0 13.2h.9M24.7 29.9h.9M27.0 14.4h.9M23.9 28.9h.9M26.5 14.4h.9M26.7 27.8h.9M25.1 27.2h.9M26.1 17.5h.9M28.8 25.3h.9M27.0 18.1h.9M26.8 28.6h.9M22.0 31.8h.9M25.2 13.4h.9M26.6 24.8h.9M23.1 23.2h.9M30.5 28.6h.9M25.4 32.4h.9M29.6 15.4h.9M23.6 29.6h.9M26.6 16.8h.9M20.1 28.4h.9M24.3 17.8h.9M28.5 20.3h.9M24.7 15.2h.9M27.8 12.8h.9M27.4 28.1h.9M25.0 29.1h.9M26.4 19.2h.9M25.3 21.4h.9M21.5 21.8h.9M26.7 18.1h.9M26.3 24.7h.9M24.7 19.3h.9M23.4 17.6h.9M22.5 19.6h.9M27.8 21.6h.9M26.3 22.3h.9M26.6 26.0h.9M24.6 26.8h.9M25.7 33.8h.9M21.6 32.2h.9M24.8 20.4h.9M26.8 16.6h.9M24.2 22.9h.9M25.0 26.2h.9M21.6 32.1h.9M26.1 27.9h.9M23.9 19.2h.9M28.3 25.1h.9M24.0 20.5h.9M24.9 26.7h.9M28.0 19.0h.9M22.7 27.0h.9M26.2 29.6h.9M24.3 15.6h.9M30.5 16.2h.9M23.1 25.4h.9M24.7 24.2h.9M24.9 26.6h.9M24.8 29.8h.9M27.5 32.0h.9M22.4 23.6h.9M20.9 24.9h.9M25.3 28.8h.9M28.7 28.8h.9M27.2 31.0h.9M24.1 28.5h.9M24.5 19.7h.9M23.2 28.1h.9M25.4 25.0h.9M24.4 35.0h.9M23.7 26.8h.9M22.9 27.7h.9M23.4 29.3h.9M23.2 32.7h.9M26.0 23.3h.9M22.9 29.9h.9M25.2 28.7h.9M23.3 33.3h.9M25.5 20.4h.9M26.7 30.4h.9M21.6 26.5h.9M29.8 19.3h.9M24.7 27.5h.9M25.8 29.3h.9M24.5 25.0h.9M27.4 27.9h.9M27.3 35.9h.9M23.0 30.9h.9M25.8 25.0h.9M24.1 25.3h.9M24.5 38.1h.9M21.5 27.1h.9M25.7 30.0h.9M26.1 27.0h.9M28.0 17.9h.9M20.9 33.3h.9M26.6 28.7h.9M25.5 31.4h.9M26.1 32.8h.9M28.1 26.3h.9M24.2 23.2h.9M29.5 38.5h.9M21.1 38.5h.9M25.8 38.0h.9M26.0 38.9h.9M26.0 37.8h.9M30.3 39.7h.9M21.5 40.3h.9M22.3 39.4h.9M27.2 39.3h.9M17.2 38.8h.9M25.4 39.1h.9M27.3 38.5h.9M24.4 38.6h.9M23.1 39.5h.9M23.9 39.7h.9M26.9 38.8h.9M24.4 40.2h.9M24.3 39.1h.9M24.0 37.6h.9M24.6 41.1h.9M26.9 39.7h.9M25.2 40.1h.9M24.6 39.7h.9M26.3 41.1h.9M28.8 38.9h.9M28.0 38.2h.9M22.5 41.0h.9M23.7 39.5h.9M24.7 39.1h.9M28.6 37.1h.9M27.9 39.0h.9M24.2 38.4h.9M21.3 38.7h.9M28.7 40.7h.9M27.1 40.3h.9M26.5 38.7h.9M29.8 41.8h.9M22.3 39.3h.9M18.1 39.7h.9M23.7 40.0h.9M28.6 38.8h.9M24.7 40.4h.9M20.5 38.2h.9M27.2 38.0h.9M23.7 39.3h.9M24.7 39.1h.9M24.4 37.9h.9M30.2 40.2h.9M25.9 38.5h.9M27.2 38.0h.9M25.3 38.9h.9M27.6 40.2h.9M26.8 39.5h.9M20.0 39.6h.9M24.0 39.4h.9M25.4 40.5h.9M23.7 38.3h.9M25.6 40.0h.9M28.9 39.1h.9M25.0 39.6h.9" stroke="#000" stroke-opacity="0.4" stroke-width=".9"/>
<path d="M28.6 36.5h.9M27.4 29.2h.9M28.9 20.7h.9M25.8 18.9h.9M29.4 12.8h.9M32.6 17.0h.9M27.3 25.9h.9M21.9 17.3h.9M24.4 27.9h.9M18.7 23.9h.9M27.1 21.0h.9M20.5 12.6h.9M26.3 14.2h.9M19.7 19.3h.9M26.8 19.1h.9M26.7 13.1h.9M16.6 47.4h.9M24.0 16.7h.9M31.7 26.4h.9M22.0 23.7h.9M9.6 11.7h.9M32.1 7.7h.9M28.0 12.1h.9M23.2 28.3h.9M36.1 9.6h.9M27.0 31.3h.9M26.5 9.5h.9M17.8 10.1h.9M25.2 24.0h.9" stroke="#000" stroke-opacity="0.3" stroke-width=".9"/>
</svg>
<rect x="136.18" y="273.10" width="24.60" height="32.20" fill="none" stroke="#2a2a2a" stroke-width="0.9"/>
<text x="163.08" y="295.20" font-size="6.1" fill="#222">43.9</text>
<rect x="182.16" y="270.80" width="55.50" height="52.60" fill="#fff" stroke="#b4b4b4" stroke-width="0.9"/>
<svg x="182.16" y="270.80" width="55.50" height="52.60" overflow="hidden">
<ellipse transform="translate(25.44,8.20) skewX(-2.9)" rx="4.52" ry="6.50" fill="url(#g0)"/>
<ellipse transform="translate(25.32,10.60) skewX(-2.9)" rx="4.52" ry="6.50" fill="url(#g0)"/>
<ellipse transform="translate(25.20,13.00) skewX(-2.9)" rx="4.52" ry="6.50" fill="url(#g0)"/>
<ellipse transform="translate(25.08,15.40) skewX(-2.9)" rx="4.52" ry="6.50" fill="url(#g0)"/>
<ellipse transform="translate(24.96,17.80) skewX(-2.9)" rx="4.52" ry="6.50" fill="url(#g0)"/>
<ellipse transform="translate(24.84,20.20) skewX(-2.9)" rx="4.52" ry="6.50" fill="url(#g0)"/>
<ellipse transform="translate(24.72,22.60) skewX(-2.9)" rx="4.52" ry="6.50" fill="url(#g0)"/>
<ellipse transform="translate(24.60,25.00) skewX(-2.9)" rx="4.52" ry="6.50" fill="url(#g0)"/>
<ellipse transform="translate(24.48,27.40) skewX(-2.9)" rx="4.52" ry="6.50" fill="url(#g0)"/>
<ellipse transform="translate(24.36,29.80) skewX(-2.9)" rx="4.52" ry="6.50" fill="url(#g0)"/>
<ellipse transform="translate(24.24,32.20) skewX(-2.9)" rx="4.52" ry="6.50" fill="url(#g0)"/>
<ellipse transform="translate(25.64,32.20)" rx="4.68" ry="7.80" fill="url(#g2)"/>
<ellipse transform="translate(25.04,39.00)" rx="6.55" ry="3.12" fill="url(#g4)"/>
<ellipse transform="translate(24.84,21.20)" rx="11.70" ry="26.00" fill="url(#g0)" opacity="0.25"/>
<path d="M25.1 19.2h.9M24.9 26.4h.9M28.1 19.6h.9M24.2 25.4h.9M24.2 25.0h.9M25.0 17.8h.9M23.9 11.3h.9M26.8 26.6h.9M26.7 20.9h.9M24.8 16.1h.9M23.8 35.8h.9M22.6 11.2h.9M25.1 29.0h.9M24.1 13.1h.9M24.3 11.4h.9M26.8 8.6h.9M23.7 33.1h.9M25.2 13.5h.9M21.4 26.5h.9M24.6 8.8h.9M26.1 32.1h.9M24.4 26.9h.9M26.4 9.9h.9M24.2 29.3h.9M22.0 32.9h.9M20.3 32.2h.9M26.4 17.3h.9M25.7 30.9h.9M25.8 13.8h.9M24.4 28.0h.9M24.9 12.0h.9M26.3 21.5h.9M23.4 30.2h.9M22.7 17.7h.9M25.1 9.6h.9M26.2 8.9h.9M22.0 22.1h.9M27.1 29.1h.9M24.0 20.4h.9M26.2 10.2h.9M22.4 32.9h.9M26.0 21.3h.9M25.2 23.1h.9M25.5 16.6h.9M22.8 24.9h.9M24.3 31.7h.9M24.4 11.2h.9M27.8 12.0h.9M25.5 11.2h.9M26.9 13.0h.9M25.1 16.0h.9M26.7 15.7h.9M24.8 28.1h.9M23.4 8.1h.9M28.6 19.7h.9M27.4 30.9h.9M26.1 23.8h.9M25.6 24.7h.9M22.6 21.5h.9M25.9 7.9h.9M21.3 32.5h.9M26.4 16.1h.9M25.4 27.9h.9M21.9 19.3h.9M24.1 23.8h.9M23.9 16.5h.9M26.9 16.2h.9M25.7 24.9h.9M22.9 26.7h.9M23.6 21.1h.9M26.4 12.6h.9M25.0 31.5h.9M24.6 12.9h.9M24.4 6.3h.9M25.8 25.3h.9M26.4 17.7h.9M24.0 13.8h.9M24.2 20.7h.9M23.7 27.3h.9M22.4 25.8h.9M21.1 27.4h.9M23.5 22.0h.9M25.1 25.3h.9M27.5 20.7h.9M26.0 22.1h.9M23.6 36.6h.9M27.4 19.8h.9M24.2 19.3h.9M25.0 23.8h.9M25.6 19.4h.9M25.3 20.2h.9M26.6 19.2h.9M26.1 7.6h.9M23.7 8.8h.9M25.8 24.7h.9M25.8 3.9h.9M25.8 18.2h.9M25.4 29.4h.9M25.3 28.3h.9M22.7 26.0h.9M24.7 30.8h.9M25.0 6.6h.9M23.0 23.6h.9M28.9 15.9h.9M28.9 12.7h.9M26.3 31.4h.9M25.2 28.6h.9M25.2 29.3h.9M22.3 10.0h.9M23.3 29.5h.9M25.8 14.5h.9M25.8 20.0h.9M24.6 30.6h.9M23.9 7.4h.9M25.7 8.0h.9M28.5 25.1h.9M24.4 25.4h.9M24.5 12.6h.9M24.3 15.0h.9M26.2 24.1h.9M25.9 8.9h.9M23.0 15.0h.9M20.6 33.3h.9M24.9 18.5h.9M25.1 24.2h.9M24.2 21.5h.9M23.9 24.1h.9M25.9 22.8h.9M24.0 15.3h.9M24.7 23.2h.9M26.4 21.8h.9M23.7 30.8h.9M25.9 10.4h.9M25.0 33.7h.9M27.7 6.6h.9M25.3 7.5h.9M24.3 13.7h.9M22.9 12.9h.9M25.4 15.2h.9M21.0 27.2h.9M23.8 28.1h.9M22.3 32.3h.9M24.7 12.4h.9M26.3 25.5h.9M25.2 8.7h.9M24.8 16.5h.9M23.8 28.0h.9M23.2 25.4h.9M24.6 26.3h.9M23.2 11.3h.9M27.8 10.7h.9M25.2 28.8h.9M23.9 29.1h.9M24.2 20.2h.9M23.5 20.1h.9M22.6 17.0h.9M27.1 17.3h.9M26.1 4.8h.9M24.8 20.4h.9M22.9 24.5h.9M26.1 20.0h.9M24.4 24.8h.9M25.3 11.9h.9M21.0 33.5h.9M25.4 23.4h.9M26.2 38.0h.9M24.2 31.0h.9M26.6 28.0h.9M27.1 33.7h.9M23.0 33.2h.9M25.2 31.0h.9M27.0 32.7h.9M26.1 36.4h.9M23.8 26.1h.9M24.3 25.9h.9M26.1 28.6h.9M27.6 31.5h.9M24.8 35.4h.9M25.7 35.0h.9M28.0 33.6h.9M25.5 28.8h.9M24.3 36.8h.9M25.9 32.8h.9M23.3 31.0h.9M23.9 30.2h.9M26.1 35.4h.9M23.5 34.3h.9M25.9 33.7h.9M24.4 35.3h.9M28.1 34.6h.9M24.0 37.5h.9M23.1 28.9h.9M26.7 35.1h.9M24.1 33.2h.9M28.5 35.9h.9M25.4 32.1h.9M26.5 35.7h.9M24.9 36.2h.9M25.0 33.2h.9M25.1 30.5h.9M26.5 31.4h.9M25.8 31.3h.9M23.5 29.8h.9M23.9 36.4h.9M27.3 37.6h.9M24.5 25.4h.9M25.7 31.0h.9M24.6 31.7h.9M25.4 35.9h.9M24.4 35.1h.9M28.3 38.2h.9M22.3 38.7h.9M27.6 38.8h.9M23.3 38.8h.9M27.5 39.8h.9M24.3 38.8h.9M31.7 38.6h.9M29.3 38.8h.9M26.0 38.8h.9M25.5 36.6h.9M24.3 39.1h.9M21.7 38.5h.9M25.5 37.2h.9M24.8 38.2h.9M23.8 38.8h.9M29.6 38.1h.9M23.8 37.7h.9M22.2 38.7h.9M27.2 37.9h.9M25.4 40.1h.9M27.1 42.8h.9M23.0 40.5h.9M29.2 40.3h.9M29.5 38.6h.9M22.2 38.0h.9M23.1 38.9h.9M22.3 39.8h.9M20.2 39.1h.9M27.6 39.0h.9M25.8 38.7h.9M22.3 40.3h.9M25.2 37.5h.9M24.4 39.3h.9M28.0 37.9h.9M24.4 37.6h.9M26.8 39.0h.9M23.0 38.5h.9M23.0 41.4h.9M24.7 39.9h.9M24.9 38.4h.9M25.8 38.7h.9M25.0 36.0h.9M22.7 39.1h.9M30.8 38.5h.9M26.6 41.2h.9M24.3 39.3h.9M23.9 40.6h.9M26.7 38.0h.9M23.1 37.9h.9M21.1 40.7h.9M25.3 38.9h.9M21.5 39.3h.9M24.2 38.7h.9M27.5 41.3h.9M27.2 38.1h.9M24.8 39.8h.9M24.4 38.7h.9M23.5 37.2h.9M28.6 40.1h.9M24.1 41.2h.9" stroke="#000" stroke-opacity="0.4" stroke-width=".9"/>
<path d="M14.3 27.3h.9M19.3 18.6h.9M17.6 29.4h.9M20.0 11.0h.9M28.5 25.2h.9M32.8 12.2h.9M21.2 22.8h.9M24.8 24.7h.9M26.4 29.5h.9M30.0 42.9h.9M28.3 14.9h.9M20.5 28.8h.9M21.3 13.9h.9M30.3 19.1h.9M25.2 15.7h.9M29.1 28.4h.9M20.3 24.4h.9M28.7 43.0h.9M31.9 34.7h.9M26.7 35.1h.9M27.6 25.9h.9M28.4 6.4h.9M26.7 11.6h.9M28.0 11.3h.9M35.8 16.5h.9M27.1 23.2h.9M23.6 12.3h.9M23.6 20.7h.9M21.0 17.0h.9" stroke="#000" stroke-opacity="0.3" stroke-width=".9"/>
</svg>
<rect x="194.26" y="273.10" width="24.60" height="32.20" fill="none" stroke="#2a2a2a" stroke-width="0.9"/>
<text x="221.16" y="295.20" font-size="6.1" fill="#222">33.9</text>
<rect x="240.24" y="270.80" width="55.50" height="52.60" fill="#fff" stroke="#b4b4b4" stroke-width="0.9"/>
<svg x="240.24" y="270.80" width="55.50" height="52.60" overflow="hidden">
<ellipse transform="translate(25.26,22.20)" rx="6.11" ry="6.50" fill="url(#g2)"/>
<ellipse transform="translate(25.26,24.70)" rx="6.11" ry="6.50" fill="url(#g2)"/>
<ellipse transform="translate(25.26,27.20)" rx="6.11" ry="6.50" fill="url(#g2)"/>
<ellipse transform="translate(25.26,29.70)" rx="6.11" ry="6.50" fill="url(#g2)"/>
<ellipse transform="translate(25.26,32.20)" rx="6.11" ry="6.50" fill="url(#g2)"/>
<ellipse transform="translate(25.26,34.70)" rx="6.11" ry="6.50" fill="url(#g2)"/>
<ellipse transform="translate(25.26,37.20)" rx="6.11" ry="6.50" fill="url(#g2)"/>
<ellipse transform="translate(25.26,38.80)" rx="8.19" ry="2.08" fill="url(#g4)"/>
<path d="M24.4 30.6h.9M27.9 25.1h.9M23.1 31.6h.9M27.8 29.8h.9M21.9 27.9h.9M25.8 25.4h.9M26.6 32.8h.9M29.6 22.8h.9M26.8 24.4h.9M22.4 24.6h.9M22.0 30.0h.9M23.1 26.0h.9M26.5 38.4h.9M27.7 21.0h.9M20.6 28.5h.9M27.3 23.9h.9M26.5 32.8h.9M24.9 30.4h.9M21.2 39.0h.9M25.5 38.1h.9M22.9 33.9h.9M26.2 22.0h.9M24.7 22.1h.9M23.0 37.6h.9M28.2 25.5h.9M23.9 32.7h.9M24.6 21.3h.9M25.5 31.4h.9M26.7 27.2h.9M23.6 32.3h.9M25.5 33.8h.9M25.3 28.1h.9M24.4 32.9h.9M26.6 20.2h.9M23.2 29.8h.9M26.7 35.9h.9M23.3 32.6h.9M24.8 21.1h.9M23.9 30.5h.9M25.3 25.2h.9M22.6 35.1h.9M22.8 20.8h.9M24.6 37.9h.9M26.4 33.9h.9M27.6 23.9h.9M24.5 31.2h.9M28.4 33.2h.9M19.7 25.2h.9M23.1 34.6h.9M21.7 33.1h.9M30.4 36.3h.9M24.6 36.7h.9M21.2 32.2h.9M25.9 31.7h.9M22.8 33.5h.9M25.3 29.6h.9M27.9 27.5h.9M24.1 25.5h.9M21.7 28.4h.9M23.6 33.8h.9M25.1 26.0h.9M27.2 20.6h.9M20.2 31.6h.9M24.7 21.4h.9M26.9 38.0h.9M24.1 34.5h.9M22.7 36.1h.9M27.2 30.8h.9M22.7 26.3h.9M23.5 30.2h.9M27.9 33.3h.9M27.9 27.2h.9M25.7 32.9h.9M23.6 19.2h.9M25.9 26.1h.9M23.0 24.6h.9M28.0 24.4h.9M30.0 27.0h.9M28.4 24.2h.9M24.8 19.9h.9M24.7 31.3h.9M21.8 27.2h.9M26.6 33.4h.9M24.5 28.8h.9M27.8 34.7h.9M23.8 29.8h.9M28.5 27.2h.9M25.7 29.2h.9M29.2 27.0h.9M29.5 35.1h.9M29.6 18.6h.9M24.8 24.3h.9M23.9 33.6h.9M25.3 28.8h.9M26.6 29.8h.9M22.5 36.5h.9M24.1 36.8h.9M23.4 32.6h.9M27.1 26.6h.9M28.3 28.2h.9M22.2 35.0h.9M27.6 33.9h.9M24.0 31.4h.9M27.4 27.6h.9M26.8 34.8h.9M25.6 33.9h.9M23.2 28.9h.9M25.8 19.2h.9M25.1 29.1h.9M26.9 25.6h.9M23.9 37.3h.9M23.4 30.3h.9M25.6 37.5h.9M27.1 31.9h.9M23.6 34.9h.9M24.6 33.8h.9M23.9 34.5h.9M21.5 26.6h.9M23.7 35.2h.9M22.8 34.6h.9M18.1 39.2h.9M23.6 28.6h.9M26.9 27.4h.9M27.0 35.3h.9M22.3 34.7h.9M25.1 28.9h.9M25.4 39.5h.9M27.8 24.1h.9M29.6 22.5h.9M21.3 36.6h.9M30.7 27.5h.9M27.0 24.5h.9M24.2 21.8h.9M26.4 34.5h.9M31.2 32.4h.9M28.7 28.4h.9M25.1 33.7h.9M22.2 33.3h.9M26.3 26.4h.9M22.2 24.0h.9M27.9 22.6h.9M26.0 26.8h.9M24.5 34.4h.9M23.3 30.9h.9M25.1 31.5h.9M25.0 38.4h.9M27.5 26.0h.9M21.3 29.5h.9M31.8 36.2h.9M25.1 18.9h.9M22.9 30.3h.9M24.5 29.0h.9M28.5 27.8h.9M26.1 28.0h.9M24.0 27.9h.9M26.3 35.4h.9M24.7 28.7h.9M22.6 41.0h.9M25.2 25.3h.9M28.0 22.4h.9M27.9 32.4h.9M26.3 27.9h.9M25.9 24.8h.9M20.7 24.4h.9M21.0 33.6h.9M29.4 22.0h.9M26.9 31.5h.9M23.3 26.5h.9M27.2 27.4h.9M22.2 23.8h.9M25.5 33.6h.9M22.6 28.9h.9M27.1 38.7h.9M25.0 26.3h.9M22.4 26.5h.9M25.1 20.5h.9M24.6 28.0h.9M28.0 31.7h.9M24.0 27.4h.9M20.8 28.0h.9M21.8 24.8h.9M27.3 27.4h.9M25.4 35.1h.9M23.0 32.5h.9M24.6 32.9h.9M24.7 37.7h.9M23.3 25.1h.9M23.0 28.4h.9M26.1 31.7h.9M23.3 28.5h.9M25.5 25.0h.9M26.5 28.5h.9M27.8 30.8h.9M28.8 27.2h.9M25.9 38.2h.9M23.9 27.7h.9M24.0 36.2h.9M22.8 21.2h.9M27.7 36.4h.9M27.7 25.4h.9M24.6 38.5h.9M23.8 25.8h.9M26.0 26.5h.9M26.6 36.6h.9M23.4 37.3h.9M26.3 28.7h.9M24.3 34.4h.9M24.1 22.9h.9M25.5 34.1h.9M25.1 20.9h.9M26.9 34.6h.9M24.0 32.7h.9M25.9 28.8h.9M21.5 32.8h.9M25.9 32.0h.9M25.0 34.7h.9M23.9 31.9h.9M20.9 28.6h.9M24.9 25.3h.9M25.9 31.5h.9M27.3 24.2h.9M28.9 33.9h.9M26.5 19.4h.9M24.9 29.8h.9M26.2 35.5h.9M22.4 37.9h.9M26.5 38.6h.9M23.9 38.1h.9M22.3 39.7h.9M21.2 38.8h.9M23.6 38.8h.9M25.2 39.9h.9M24.1 38.4h.9M27.9 39.9h.9M20.6 38.6h.9M28.9 38.8h.9M20.8 38.9h.9M24.5 39.1h.9M24.8 38.8h.9M22.5 38.1h.9M26.7 39.5h.9M19.8 38.0h.9M27.0 39.6h.9M23.8 38.9h.9M20.6 40.3h.9M27.1 38.5h.9M27.0 39.1h.9M27.7 37.7h.9M23.7 39.7h.9M24.3 39.6h.9M25.2 38.8h.9M25.6 38.7h.9M29.5 39.8h.9M27.0 39.3h.9M24.6 37.8h.9M25.5 39.2h.9M22.4 38.4h.9M27.2 39.6h.9M34.1 36.6h.9M25.8 39.3h.9M27.1 39.7h.9M23.9 40.1h.9M27.8 39.6h.9M32.0 37.4h.9M21.1 38.5h.9M28.6 38.8h.9M24.7 38.0h.9M24.7 38.5h.9M29.7 36.7h.9M27.5 38.0h.9" stroke="#000" stroke-opacity="0.4" stroke-width=".9"/>
</svg>
<rect x="252.34" y="273.10" width="24.60" height="34.30" fill="none" stroke="#2a2a2a" stroke-width="0.9"/>
<text x="279.24" y="295.20" font-size="6.1" fill="#222">73.2</text>
<rect x="298.32" y="270.80" width="55.50" height="52.60" fill="#fff" stroke="#b4b4b4" stroke-width="0.9"/>
<svg x="298.32" y="270.80" width="55.50" height="52.60" overflow="hidden">
<ellipse transform="translate(25.98,19.20)" rx="5.65" ry="6.50" fill="url(#g0)" opacity="0.72"/>
<ellipse transform="translate(25.98,21.77)" rx="5.65" ry="6.50" fill="url(#g0)" opacity="0.72"/>
<ellipse transform="translate(25.98,24.34)" rx="5.65" ry="6.50" fill="url(#g0)" opacity="0.72"/>
<ellipse transform="translate(25.98,26.91)" rx="5.65" ry="6.50" fill="url(#g0)" opacity="0.72"/>
<ellipse transform="translate(25.98,29.49)" rx="5.65" ry="6.50" fill="url(#g0)" opacity="0.72"/>
<ellipse transform="translate(25.98,32.06)" rx="5.65" ry="6.50" fill="url(#g0)" opacity="0.72"/>
<ellipse transform="translate(25.98,34.63)" rx="5.65" ry="6.50" fill="url(#g0)" opacity="0.72"/>
<ellipse transform="translate(25.98,37.20)" rx="5.65" ry="6.50" fill="url(#g0)" opacity="0.72"/>
<ellipse transform="translate(25.98,34.20)" rx="6.50" ry="5.20" fill="url(#g2)"/>
<ellipse transform="translate(25.88,38.20)" rx="7.72" ry="1.82" fill="url(#g4)"/>
<path d="M22.0 32.6h.9M28.3 19.9h.9M25.7 22.3h.9M27.8 33.5h.9M26.6 25.9h.9M24.4 36.1h.9M21.6 30.5h.9M25.5 33.7h.9M23.0 19.3h.9M27.3 32.8h.9M24.7 28.8h.9M25.7 35.8h.9M25.2 30.7h.9M27.2 19.0h.9M26.8 24.1h.9M24.8 36.9h.9M24.2 30.4h.9M23.7 22.9h.9M25.2 32.1h.9M26.8 28.7h.9M27.3 34.1h.9M25.9 38.8h.9M25.3 32.3h.9M29.6 29.4h.9M21.1 30.9h.9M23.4 20.5h.9M26.2 21.6h.9M25.7 24.1h.9M26.3 29.3h.9M27.5 30.9h.9M25.8 32.4h.9M24.7 24.3h.9M26.1 30.9h.9M32.0 21.2h.9M22.7 36.1h.9M26.1 31.4h.9M27.0 20.8h.9M26.1 33.7h.9M25.0 30.4h.9M28.2 31.8h.9M29.9 22.5h.9M28.3 38.2h.9M27.3 34.7h.9M30.3 16.6h.9M27.8 34.6h.9M27.9 38.2h.9M25.3 24.6h.9M26.1 19.7h.9M29.5 29.7h.9M27.3 21.8h.9M24.3 31.4h.9M24.5 29.6h.9M27.4 30.5h.9M24.5 30.6h.9M25.6 29.1h.9M25.8 28.7h.9M28.8 29.6h.9M23.2 38.4h.9M24.6 33.8h.9M24.1 21.8h.9M25.6 36.6h.9M24.7 39.6h.9M23.7 26.7h.9M26.8 32.7h.9M26.3 28.0h.9M27.7 34.8h.9M23.5 30.8h.9M26.9 24.5h.9M28.9 32.4h.9M29.3 21.9h.9M26.1 37.0h.9M32.2 28.2h.9M29.3 32.6h.9M29.7 30.5h.9M28.1 28.3h.9M25.7 18.2h.9M23.4 29.0h.9M28.6 15.6h.9M26.3 29.5h.9M25.8 26.9h.9M26.0 37.2h.9M25.4 31.7h.9M25.8 31.2h.9M22.0 27.7h.9M25.4 35.1h.9M30.4 31.1h.9M25.2 30.3h.9M25.4 15.9h.9M25.3 29.0h.9M28.5 30.6h.9M28.2 32.7h.9M27.9 25.8h.9M24.5 25.4h.9M28.0 19.1h.9M25.6 35.3h.9M26.2 25.6h.9M25.6 35.9h.9M24.7 17.4h.9M28.0 30.9h.9M28.2 25.4h.9M24.7 25.0h.9M22.9 20.7h.9M23.9 31.3h.9M25.2 36.6h.9M29.1 19.8h.9M23.9 28.6h.9M26.0 20.9h.9M23.1 18.9h.9M31.0 23.5h.9M28.7 25.0h.9M24.0 28.3h.9M27.3 27.4h.9M29.2 34.3h.9M26.2 21.7h.9M27.1 26.5h.9M28.6 34.0h.9M25.7 33.4h.9M28.2 37.4h.9M25.2 23.2h.9M24.0 36.1h.9M27.2 22.8h.9M22.1 24.6h.9M26.0 41.2h.9M24.6 23.4h.9M20.7 28.3h.9M33.2 28.4h.9M26.6 30.2h.9M25.7 37.4h.9M27.3 31.5h.9M25.3 36.0h.9M21.7 39.0h.9M25.6 16.9h.9M25.6 16.9h.9M25.9 38.1h.9M26.2 35.7h.9M22.7 32.8h.9M26.1 33.3h.9M22.3 35.9h.9M26.4 31.7h.9M23.2 35.0h.9M26.4 31.9h.9M21.9 33.9h.9M29.7 32.4h.9M28.6 32.1h.9M29.7 31.1h.9M24.4 37.4h.9M27.6 32.8h.9M27.4 31.7h.9M26.6 36.7h.9M25.6 34.9h.9M23.9 36.2h.9M25.9 37.4h.9M21.9 33.5h.9M26.6 33.3h.9M21.9 36.7h.9M24.3 33.9h.9M26.0 31.8h.9M28.2 32.7h.9M27.8 28.8h.9M21.1 30.4h.9M25.1 35.2h.9M23.6 34.5h.9M24.1 32.1h.9M23.9 34.1h.9M23.8 33.4h.9M23.1 34.7h.9M19.4 30.0h.9M26.2 34.2h.9M24.1 36.1h.9M22.2 31.9h.9M24.4 35.7h.9M25.8 36.2h.9M21.3 33.6h.9M28.0 32.8h.9M27.7 33.0h.9M28.5 30.9h.9M28.8 39.8h.9M22.9 34.8h.9M24.3 33.1h.9M20.9 34.6h.9M28.2 37.6h.9M28.1 38.3h.9M22.5 38.8h.9M27.3 37.3h.9M26.1 38.2h.9M28.9 37.6h.9M29.3 38.5h.9M27.9 38.0h.9M23.1 38.2h.9M20.9 38.1h.9M26.4 38.1h.9M22.7 38.7h.9M23.7 37.3h.9M23.9 36.7h.9M26.3 40.0h.9M23.9 37.7h.9M22.4 39.4h.9M25.6 38.1h.9M23.7 37.7h.9M23.4 37.0h.9M30.1 39.1h.9M28.0 38.0h.9M26.2 38.5h.9M29.5 38.1h.9M25.2 38.6h.9M28.7 38.0h.9M23.7 37.8h.9M24.4 38.0h.9M26.9 39.1h.9M24.3 38.1h.9M27.2 39.2h.9M28.6 39.7h.9M24.2 38.0h.9M26.4 38.0h.9M27.3 38.8h.9M21.4 39.3h.9M21.7 38.2h.9M24.1 37.5h.9M23.0 37.7h.9M29.3 37.1h.9M28.8 38.0h.9M19.0 37.4h.9M28.5 37.8h.9M27.1 37.8h.9M30.0 37.4h.9" stroke="#000" stroke-opacity="0.4" stroke-width=".9"/>
</svg>
<rect x="310.42" y="273.10" width="24.60" height="34.30" fill="none" stroke="#2a2a2a" stroke-width="0.9"/>
<text x="337.32" y="295.20" font-size="6.1" fill="#222">49.6</text>
<rect x="356.40" y="270.80" width="55.50" height="52.60" fill="#fff" stroke="#b4b4b4" stroke-width="0.9"/>
<svg x="356.40" y="270.80" width="55.50" height="52.60" overflow="hidden">
<ellipse transform="translate(25.40,14.20)" rx="5.43" ry="6.50" fill="url(#g1)"/>
<ellipse transform="translate(25.40,16.64)" rx="5.43" ry="6.50" fill="url(#g1)"/>
<ellipse transform="translate(25.40,19.09)" rx="5.43" ry="6.50" fill="url(#g1)"/>
<ellipse transform="translate(25.40,21.53)" rx="5.43" ry="6.50" fill="url(#g1)"/>
<ellipse transform="translate(25.40,23.98)" rx="5.43" ry="6.50" fill="url(#g1)"/>
<ellipse transform="translate(25.40,26.42)" rx="5.43" ry="6.50" fill="url(#g1)"/>
<ellipse transform="translate(25.40,28.87)" rx="5.43" ry="6.50" fill="url(#g1)"/>
<ellipse transform="translate(25.40,31.31)" rx="5.43" ry="6.50" fill="url(#g1)"/>
<ellipse transform="translate(25.40,33.76)" rx="5.43" ry="6.50" fill="url(#g1)"/>
<ellipse transform="translate(25.40,36.20)" rx="5.43" ry="6.50" fill="url(#g1)"/>
<ellipse transform="translate(25.40,32.20)" rx="6.50" ry="7.80" fill="url(#g2)"/>
<ellipse transform="translate(26.10,38.60)" rx="8.42" ry="2.08" fill="url(#g4)"/>
<path d="M27.6 21.5h.9M23.7 12.9h.9M25.5 26.8h.9M24.1 18.5h.9M27.2 33.1h.9M22.8 26.0h.9M25.8 22.7h.9M25.1 23.9h.9M29.2 22.5h.9M25.5 28.6h.9M25.1 25.6h.9M23.8 19.6h.9M25.0 34.2h.9M23.0 21.6h.9M26.6 34.0h.9M26.0 30.1h.9M26.1 18.9h.9M24.9 26.3h.9M24.8 20.9h.9M22.4 33.8h.9M27.9 26.1h.9M25.2 31.7h.9M25.8 31.6h.9M24.2 26.6h.9M22.2 11.5h.9M26.5 27.4h.9M25.9 17.3h.9M27.7 25.6h.9M25.5 25.4h.9M26.3 15.4h.9M27.1 19.3h.9M25.7 28.9h.9M24.1 17.4h.9M25.2 29.5h.9M23.0 33.9h.9M28.1 36.6h.9M23.0 27.7h.9M25.1 17.7h.9M25.9 18.7h.9M29.1 24.7h.9M29.9 25.3h.9M25.8 21.2h.9M30.3 21.9h.9M25.1 17.2h.9M24.9 32.3h.9M24.4 30.9h.9M28.0 20.0h.9M23.7 27.9h.9M22.3 27.2h.9M25.9 34.7h.9M26.3 16.1h.9M25.1 31.7h.9M28.9 23.3h.9M26.0 22.2h.9M22.8 29.9h.9M25.8 28.6h.9M22.6 30.5h.9M22.7 33.6h.9M29.0 33.1h.9M26.1 29.6h.9M30.0 18.3h.9M25.6 31.9h.9M29.6 28.4h.9M23.3 28.2h.9M22.8 15.2h.9M28.4 17.4h.9M23.9 21.3h.9M21.8 32.8h.9M26.3 33.0h.9M24.1 19.0h.9M25.0 17.4h.9M24.2 29.9h.9M24.2 33.6h.9M25.4 39.5h.9M23.2 33.2h.9M24.2 19.6h.9M27.7 19.5h.9M27.4 18.7h.9M25.6 29.1h.9M30.2 17.9h.9M23.2 16.1h.9M23.5 25.5h.9M27.6 33.7h.9M24.3 20.2h.9M24.9 25.3h.9M25.2 11.6h.9M27.9 28.0h.9M27.6 14.6h.9M27.3 35.0h.9M27.1 16.6h.9M27.7 29.5h.9M25.2 31.3h.9M25.1 16.5h.9M24.4 33.4h.9M25.6 36.9h.9M26.9 24.7h.9M26.7 24.0h.9M21.8 29.1h.9M27.5 35.5h.9M27.1 28.8h.9M25.4 30.0h.9M26.0 29.7h.9M27.0 24.0h.9M22.1 23.5h.9M28.3 32.1h.9M24.1 31.3h.9M28.6 32.1h.9M29.9 20.6h.9M24.6 38.8h.9M23.0 25.6h.9M26.1 28.7h.9M27.6 14.3h.9M25.2 16.6h.9M26.0 26.5h.9M24.0 29.9h.9M24.5 12.4h.9M25.8 17.5h.9M24.5 28.1h.9M27.6 30.7h.9M20.7 38.6h.9M29.1 25.0h.9M27.2 25.3h.9M24.6 34.5h.9M22.9 21.5h.9M26.8 28.1h.9M26.6 29.8h.9M25.6 35.3h.9M29.0 24.7h.9M25.7 23.7h.9M25.0 13.8h.9M29.6 29.5h.9M27.5 23.3h.9M23.7 21.5h.9M25.4 21.8h.9M22.9 15.4h.9M27.6 17.4h.9M27.1 19.8h.9M29.3 17.7h.9M24.9 27.3h.9M24.8 25.5h.9M24.2 17.2h.9M29.5 29.0h.9M23.3 21.4h.9M22.9 33.1h.9M27.0 30.6h.9M24.1 33.9h.9M27.3 24.2h.9M23.8 17.6h.9M28.7 29.4h.9M24.3 17.8h.9M23.9 30.7h.9M25.6 12.2h.9M28.8 24.9h.9M22.8 29.3h.9M25.4 23.2h.9M25.3 32.5h.9M27.6 22.1h.9M27.0 18.5h.9M28.1 29.7h.9M28.1 22.4h.9M27.1 22.6h.9M25.7 11.0h.9M24.1 16.7h.9M27.2 32.0h.9M23.0 16.2h.9M28.4 20.9h.9M27.3 12.3h.9M22.9 14.4h.9M27.4 15.7h.9M25.0 24.1h.9M26.6 32.8h.9M18.3 18.4h.9M25.8 30.9h.9M27.7 15.6h.9M25.0 32.4h.9M29.2 22.5h.9M27.6 33.0h.9M21.7 25.0h.9M24.6 31.5h.9M23.1 18.6h.9M22.9 21.5h.9M25.2 33.4h.9M22.7 24.7h.9M24.1 34.2h.9M26.4 12.5h.9M22.9 30.9h.9M26.2 10.3h.9M26.3 26.0h.9M27.7 31.9h.9M25.9 13.4h.9M23.4 25.3h.9M25.6 15.4h.9M25.0 21.9h.9M25.9 15.9h.9M23.0 33.7h.9M26.6 34.3h.9M26.6 34.2h.9M26.0 32.4h.9M23.5 33.0h.9M20.8 32.0h.9M24.9 32.4h.9M22.9 27.2h.9M22.9 29.4h.9M27.5 27.2h.9M24.9 29.5h.9M25.5 28.8h.9M28.8 33.9h.9M22.3 34.4h.9M25.6 35.3h.9M24.1 32.4h.9M25.3 27.7h.9M24.9 29.6h.9M25.8 36.9h.9M28.3 34.2h.9M24.8 27.5h.9M29.8 38.4h.9M20.3 32.1h.9M29.1 34.1h.9M28.1 28.8h.9M23.0 31.2h.9M24.5 35.2h.9M26.2 27.5h.9M29.7 35.9h.9M29.9 29.1h.9M26.4 33.1h.9M24.4 30.3h.9M26.0 30.3h.9M21.4 31.4h.9M24.2 31.6h.9M26.4 36.0h.9M27.3 36.4h.9M23.7 25.5h.9M22.1 34.0h.9M22.8 33.9h.9M26.3 31.9h.9M21.9 30.9h.9M23.2 29.8h.9M27.0 25.7h.9M26.4 31.0h.9M24.1 37.0h.9M20.4 40.5h.9M26.8 38.2h.9M26.3 37.7h.9M29.8 37.5h.9M34.7 38.6h.9M28.7 38.8h.9M24.0 38.9h.9M23.5 38.5h.9M28.1 37.8h.9M32.1 38.6h.9M23.4 40.3h.9M26.7 38.7h.9M28.1 37.4h.9M23.7 36.7h.9M25.7 39.8h.9M29.4 38.5h.9M27.4 39.3h.9M23.3 38.6h.9M29.8 39.0h.9M23.3 39.5h.9M28.3 39.3h.9M32.0 38.8h.9M27.8 37.8h.9M24.2 39.1h.9M29.0 36.5h.9M29.9 38.3h.9M23.8 38.2h.9M23.6 38.0h.9M22.5 39.1h.9M21.9 38.4h.9M23.1 38.3h.9M28.6 39.1h.9M26.6 38.5h.9M22.2 38.7h.9M26.7 37.4h.9M26.8 39.0h.9M25.2 38.6h.9M23.3 39.2h.9M24.8 40.1h.9M27.7 38.0h.9M28.3 37.3h.9M27.3 37.4h.9M25.8 39.9h.9M25.6 37.3h.9M26.3 37.5h.9" stroke="#000" stroke-opacity="0.4" stroke-width=".9"/>
</svg>
<rect x="368.50" y="273.10" width="24.60" height="34.30" fill="none" stroke="#2a2a2a" stroke-width="0.9"/>
<text x="395.40" y="295.20" font-size="6.1" fill="#222">39.6</text>
<line x1="66.00" y1="270.80" x2="66.00" y2="323.40" stroke="#888" stroke-width="0.8"/>
<line x1="64.40" y1="275.90" x2="66.30" y2="275.90" stroke="#111" stroke-width="0.9"/>
<line x1="65.10" y1="278.88" x2="66.20" y2="278.88" stroke="#333" stroke-width="0.6"/>
<line x1="65.10" y1="281.85" x2="66.20" y2="281.85" stroke="#333" stroke-width="0.6"/>
<line x1="65.10" y1="284.83" x2="66.20" y2="284.83" stroke="#333" stroke-width="0.6"/>
<line x1="64.40" y1="287.80" x2="66.30" y2="287.80" stroke="#111" stroke-width="0.9"/>
<line x1="65.10" y1="291.23" x2="66.20" y2="291.23" stroke="#333" stroke-width="0.6"/>
<line x1="65.10" y1="294.65" x2="66.20" y2="294.65" stroke="#333" stroke-width="0.6"/>
<line x1="65.10" y1="298.07" x2="66.20" y2="298.07" stroke="#333" stroke-width="0.6"/>
<line x1="64.40" y1="301.50" x2="66.30" y2="301.50" stroke="#111" stroke-width="0.9"/>
<line x1="65.10" y1="303.52" x2="66.20" y2="303.52" stroke="#333" stroke-width="0.6"/>
<line x1="65.10" y1="305.55" x2="66.20" y2="305.55" stroke="#333" stroke-width="0.6"/>
<line x1="65.10" y1="307.57" x2="66.20" y2="307.57" stroke="#333" stroke-width="0.6"/>
<line x1="64.40" y1="309.60" x2="66.30" y2="309.60" stroke="#111" stroke-width="0.9"/>
<line x1="65.10" y1="311.78" x2="66.20" y2="311.78" stroke="#333" stroke-width="0.6"/>
<line x1="65.10" y1="313.95" x2="66.20" y2="313.95" stroke="#333" stroke-width="0.6"/>
<line x1="65.10" y1="316.12" x2="66.20" y2="316.12" stroke="#333" stroke-width="0.6"/>
<line x1="64.40" y1="318.30" x2="66.30" y2="318.30" stroke="#111" stroke-width="0.9"/>
<text x="61.20" y="278.20" font-size="6.4" fill="#222" text-anchor="end" font-family="Liberation Sans, sans-serif">10<tspan font-size="4.48" dy="-2.56">5</tspan></text>
<text x="61.20" y="290.10" font-size="6.4" fill="#222" text-anchor="end" font-family="Liberation Sans, sans-serif">10<tspan font-size="4.48" dy="-2.56">4</tspan></text>
<text x="61.20" y="303.80" font-size="6.4" fill="#222" text-anchor="end" font-family="Liberation Sans, sans-serif">10<tspan font-size="4.48" dy="-2.56">3</tspan></text>
<text x="58.50" y="311.90" font-size="6.4" fill="#222" text-anchor="end">0</text>
<text x="61.20" y="320.60" font-size="6.4" fill="#222" text-anchor="end" font-family="Liberation Sans, sans-serif">−10<tspan font-size="4.48" dy="-2.56">3</tspan></text>
<rect x="66.00" y="326.80" width="55.50" height="52.60" fill="#fff" stroke="#b4b4b4" stroke-width="0.9"/>
<svg x="66.00" y="326.80" width="55.50" height="52.60" overflow="hidden">
<ellipse transform="translate(24.80,14.20)" rx="5.98" ry="8.32" fill="url(#g4)"/>
<ellipse transform="translate(25.30,22.20)" rx="4.98" ry="6.50" fill="url(#g1)"/>
<ellipse transform="translate(25.30,24.60)" rx="4.98" ry="6.50" fill="url(#g1)"/>
<ellipse transform="translate(25.30,27.00)" rx="4.98" ry="6.50" fill="url(#g1)"/>
<ellipse transform="translate(25.30,29.40)" rx="4.98" ry="6.50" fill="url(#g1)"/>
<ellipse transform="translate(25.30,31.80)" rx="4.98" ry="6.50" fill="url(#g1)"/>
<ellipse transform="translate(25.30,34.20)" rx="4.98" ry="6.50" fill="url(#g1)"/>
<ellipse transform="translate(26.50,38.80)" rx="8.89" ry="2.34" fill="url(#g4)"/>
<ellipse transform="translate(25.00,23.20)" rx="15.60" ry="28.60" fill="url(#g0)" opacity="0.38"/>
<path d="M27.4 7.6h.9M24.6 18.3h.9M24.4 12.8h.9M22.7 7.4h.9M28.8 14.5h.9M28.4 14.1h.9M27.8 13.3h.9M24.2 14.3h.9M22.4 16.3h.9M26.8 14.3h.9M23.5 9.2h.9M25.6 14.7h.9M28.0 14.7h.9M27.0 9.7h.9M22.6 13.8h.9M24.1 12.7h.9M22.7 10.6h.9M28.2 14.6h.9M29.5 19.7h.9M23.3 7.3h.9M23.4 13.1h.9M21.6 13.7h.9M27.2 10.6h.9M21.3 14.5h.9M30.6 15.9h.9M23.5 17.1h.9M21.6 23.3h.9M26.0 13.0h.9M27.5 14.3h.9M26.1 15.6h.9M24.4 14.1h.9M23.3 11.7h.9M23.1 13.6h.9M25.0 12.0h.9M25.3 20.6h.9M26.2 12.4h.9M23.9 17.0h.9M24.5 12.5h.9M27.3 8.6h.9M21.0 16.9h.9M23.9 16.2h.9M25.2 15.8h.9M22.5 11.8h.9M27.5 10.8h.9M27.9 15.0h.9M25.4 12.7h.9M23.4 14.5h.9M21.1 15.9h.9M25.8 11.0h.9M26.0 14.7h.9M22.7 13.2h.9M24.0 11.4h.9M26.2 14.0h.9M22.4 14.5h.9M28.6 17.9h.9M26.2 15.5h.9M27.3 16.5h.9M24.2 14.3h.9M23.2 18.6h.9M22.7 15.8h.9M25.2 12.9h.9M29.4 13.7h.9M29.6 12.7h.9M20.3 17.8h.9M26.7 16.3h.9M23.1 15.6h.9M25.3 14.2h.9M24.2 10.2h.9M26.5 14.8h.9M23.7 12.9h.9M20.3 15.7h.9M25.4 12.7h.9M24.0 11.8h.9M27.0 18.2h.9M24.1 11.8h.9M28.5 14.3h.9M23.7 16.8h.9M24.0 12.3h.9M25.5 10.1h.9M27.7 12.7h.9M24.6 13.3h.9M26.4 16.6h.9M27.1 16.6h.9M23.0 10.5h.9M22.7 17.5h.9M23.7 14.4h.9M21.0 19.3h.9M22.5 9.2h.9M24.0 11.0h.9M27.0 16.2h.9M20.8 12.9h.9M23.1 17.2h.9M24.0 17.1h.9M25.1 17.5h.9M23.8 8.9h.9M25.3 14.3h.9M23.3 13.8h.9M22.4 16.7h.9M26.9 16.8h.9M23.2 14.5h.9M24.6 15.2h.9M27.3 16.8h.9M22.0 12.3h.9M24.1 16.1h.9M25.6 18.0h.9M26.8 25.5h.9M24.2 32.0h.9M24.7 31.3h.9M26.9 24.4h.9M22.5 25.4h.9M27.0 28.7h.9M24.4 18.7h.9M26.3 37.0h.9M26.0 28.8h.9M23.9 34.7h.9M27.5 27.5h.9M22.2 25.5h.9M24.4 35.7h.9M24.4 33.1h.9M24.6 28.4h.9M22.8 33.6h.9M26.1 21.7h.9M29.2 24.6h.9M23.2 32.6h.9M25.4 23.6h.9M21.0 36.7h.9M29.7 26.4h.9M28.4 28.3h.9M23.9 22.6h.9M26.7 25.3h.9M24.6 22.8h.9M24.0 24.0h.9M25.4 25.7h.9M25.1 27.3h.9M23.7 22.5h.9M20.9 35.5h.9M23.2 32.7h.9M24.8 29.2h.9M26.5 28.5h.9M23.7 18.9h.9M25.3 35.2h.9M26.6 31.9h.9M23.9 30.7h.9M23.8 35.4h.9M27.7 29.1h.9M22.7 25.2h.9M23.6 24.5h.9M26.7 26.8h.9M26.9 26.2h.9M27.9 22.6h.9M24.7 26.4h.9M23.2 29.5h.9M26.3 23.8h.9M26.1 24.4h.9M26.6 20.8h.9M23.2 29.8h.9M26.7 26.3h.9M27.0 27.7h.9M23.5 24.8h.9M26.5 30.8h.9M29.7 22.8h.9M26.4 28.1h.9M20.2 27.4h.9M26.0 23.8h.9M27.9 32.5h.9M26.2 34.5h.9M24.3 20.9h.9M25.8 31.2h.9M26.1 34.8h.9M25.3 29.2h.9M23.3 27.2h.9M26.0 27.6h.9M26.4 23.0h.9M23.8 24.8h.9M25.4 25.7h.9M25.3 30.3h.9M24.7 33.4h.9M26.4 26.7h.9M26.2 22.9h.9M25.6 20.2h.9M22.8 22.4h.9M25.8 27.9h.9M23.5 28.1h.9M24.9 22.2h.9M25.1 25.0h.9M25.8 22.0h.9M22.7 24.3h.9M26.1 32.4h.9M23.4 33.2h.9M25.6 24.2h.9M23.4 26.3h.9M27.2 27.4h.9M26.0 34.1h.9M25.8 29.0h.9M24.1 36.1h.9M23.3 25.5h.9M27.6 26.0h.9M26.0 32.8h.9M23.9 26.8h.9M24.5 30.7h.9M29.4 32.4h.9M24.7 30.6h.9M26.9 32.6h.9M24.1 41.0h.9M25.5 29.4h.9M27.1 26.7h.9M27.1 30.0h.9M26.6 25.5h.9M27.9 38.5h.9M23.3 32.4h.9M23.1 38.4h.9M26.3 38.3h.9M29.6 38.8h.9M30.4 38.0h.9M29.0 38.8h.9M22.3 39.9h.9M24.0 40.2h.9M30.2 39.2h.9M21.1 39.6h.9M30.4 38.9h.9M26.2 38.7h.9M32.1 38.9h.9M23.3 38.3h.9M24.7 37.8h.9M27.7 38.6h.9M20.6 38.7h.9M28.8 37.4h.9M21.9 39.4h.9M18.2 39.6h.9M28.5 40.9h.9M28.3 37.3h.9M24.9 38.8h.9M25.7 38.5h.9M23.4 38.7h.9M28.4 38.3h.9M21.9 39.3h.9M31.9 38.4h.9M32.2 39.4h.9M22.9 37.6h.9M19.9 36.8h.9M22.9 38.5h.9M24.1 37.8h.9M29.4 38.6h.9M20.5 39.3h.9M25.4 40.1h.9M26.4 37.9h.9M21.7 38.4h.9M24.5 40.2h.9M28.3 38.3h.9M28.2 40.3h.9M28.0 38.0h.9M27.8 39.8h.9M24.9 39.4h.9M20.7 38.7h.9M22.6 38.2h.9M31.6 38.8h.9M22.0 36.8h.9M26.2 38.0h.9M23.8 39.8h.9M30.7 38.1h.9M28.3 39.1h.9M24.0 39.5h.9M24.2 39.0h.9M27.0 38.1h.9M22.1 39.2h.9M28.6 38.1h.9M28.8 38.9h.9M23.7 38.5h.9M28.6 39.5h.9M29.5 36.2h.9" stroke="#000" stroke-opacity="0.4" stroke-width=".9"/>
<path d="M29.0 14.8h.9M23.3 40.5h.9M26.5 12.5h.9M28.4 24.2h.9M26.5 7.7h.9M29.2 33.0h.9M32.2 30.1h.9M32.4 14.1h.9M19.0 25.5h.9M26.6 19.9h.9M33.1 26.8h.9M21.9 25.3h.9M23.0 47.3h.9M30.6 14.1h.9M20.3 18.6h.9M32.1 11.5h.9M25.6 11.5h.9M23.9 18.2h.9M25.9 14.2h.9M31.3 29.9h.9M18.0 19.2h.9M25.1 6.8h.9M25.8 23.5h.9M21.1 7.8h.9M29.1 15.0h.9M28.7 18.7h.9M13.4 28.9h.9M32.6 20.6h.9M25.8 17.5h.9M17.6 21.8h.9M24.2 47.3h.9M22.3 30.2h.9M32.0 38.7h.9M30.8 36.2h.9M33.4 31.0h.9M25.9 27.6h.9M19.7 32.1h.9M20.8 24.9h.9M19.3 20.2h.9M26.2 13.9h.9M30.0 24.5h.9M28.8 22.2h.9M20.8 30.7h.9M20.9 4.6h.9M21.8 20.4h.9M20.9 47.6h.9M20.5 28.4h.9M17.5 30.8h.9M26.1 33.7h.9M17.9 18.8h.9M21.6 41.6h.9M10.6 39.1h.9M35.9 9.9h.9M25.2 42.9h.9M28.7 34.2h.9M25.8 19.2h.9M17.0 10.5h.9M29.4 24.6h.9M17.7 25.0h.9M25.6 32.6h.9M23.3 31.5h.9M31.4 20.3h.9M17.9 38.3h.9M30.9 11.0h.9M25.4 27.2h.9M31.1 12.4h.9M26.4 25.3h.9M21.9 27.5h.9M25.9 27.6h.9M27.3 31.1h.9M20.8 9.1h.9M32.0 20.2h.9M31.9 16.0h.9M30.3 35.1h.9M25.0 48.1h.9M32.4 26.7h.9M31.0 27.7h.9M33.6 21.8h.9M13.6 27.1h.9M23.9 35.2h.9M23.3 13.5h.9M31.9 20.1h.9M24.7 26.9h.9M19.7 23.0h.9M22.3 16.1h.9M18.1 20.7h.9M31.1 18.8h.9M25.1 28.2h.9" stroke="#000" stroke-opacity="0.3" stroke-width=".9"/>
</svg>
<rect x="78.10" y="329.10" width="24.60" height="32.10" fill="none" stroke="#2a2a2a" stroke-width="0.9"/>
<text x="105.00" y="351.20" font-size="6.1" fill="#222">62.9</text>
<rect x="124.08" y="326.80" width="55.50" height="52.60" fill="#fff" stroke="#b4b4b4" stroke-width="0.9"/>
<svg x="124.08" y="326.80" width="55.50" height="52.60" overflow="hidden">
<ellipse transform="translate(23.72,9.20)" rx="6.79" ry="6.50" fill="url(#g0)" opacity="0.91"/>
<ellipse transform="translate(23.72,11.75)" rx="6.79" ry="6.50" fill="url(#g0)" opacity="0.91"/>
<ellipse transform="translate(23.72,14.29)" rx="6.79" ry="6.50" fill="url(#g0)" opacity="0.91"/>
<ellipse transform="translate(23.72,16.84)" rx="6.79" ry="6.50" fill="url(#g0)" opacity="0.91"/>
<ellipse transform="translate(23.72,19.38)" rx="6.79" ry="6.50" fill="url(#g0)" opacity="0.91"/>
<ellipse transform="translate(23.72,21.93)" rx="6.79" ry="6.50" fill="url(#g0)" opacity="0.91"/>
<ellipse transform="translate(23.72,24.47)" rx="6.79" ry="6.50" fill="url(#g0)" opacity="0.91"/>
<ellipse transform="translate(23.72,27.02)" rx="6.79" ry="6.50" fill="url(#g0)" opacity="0.91"/>
<ellipse transform="translate(23.72,29.56)" rx="6.79" ry="6.50" fill="url(#g0)" opacity="0.91"/>
<ellipse transform="translate(23.72,32.11)" rx="6.79" ry="6.50" fill="url(#g0)" opacity="0.91"/>
<ellipse transform="translate(23.72,34.65)" rx="6.79" ry="6.50" fill="url(#g0)" opacity="0.91"/>
<ellipse transform="translate(23.72,37.20)" rx="6.79" ry="6.50" fill="url(#g0)" opacity="0.91"/>
<ellipse transform="translate(24.92,38.60)" rx="7.72" ry="2.34" fill="url(#g4)"/>
<path d="M23.1 21.2h.9M23.1 34.9h.9M30.2 23.1h.9M21.9 8.8h.9M23.6 27.2h.9M19.8 12.4h.9M25.4 7.8h.9M22.5 25.1h.9M25.3 35.7h.9M20.8 23.2h.9M21.6 6.3h.9M25.0 24.6h.9M27.3 11.3h.9M29.5 28.7h.9M24.8 27.6h.9M27.1 17.9h.9M22.8 35.1h.9M23.3 14.0h.9M21.2 21.3h.9M20.5 17.2h.9M21.2 12.2h.9M20.4 18.4h.9M25.5 16.2h.9M26.9 35.7h.9M24.8 24.3h.9M22.9 17.2h.9M22.6 14.1h.9M26.0 39.0h.9M23.2 36.7h.9M22.8 34.1h.9M30.9 11.9h.9M21.9 26.1h.9M26.5 31.7h.9M21.2 17.6h.9M22.9 30.9h.9M20.5 14.4h.9M24.8 11.9h.9M27.4 24.0h.9M23.8 30.1h.9M24.7 18.4h.9M27.5 34.6h.9M22.9 17.4h.9M27.7 1.9h.9M25.0 13.2h.9M27.3 10.5h.9M21.7 15.8h.9M25.6 21.4h.9M23.7 17.9h.9M23.7 22.2h.9M20.8 14.6h.9M22.9 12.5h.9M23.9 17.2h.9M25.0 34.0h.9M26.8 34.1h.9M24.8 15.4h.9M20.1 13.0h.9M22.3 22.3h.9M26.5 28.7h.9M21.4 10.5h.9M25.5 19.4h.9M20.7 23.9h.9M21.7 35.8h.9M22.4 17.1h.9M20.4 32.5h.9M21.4 14.3h.9M22.7 22.4h.9M26.3 27.1h.9M21.0 8.6h.9M21.2 37.7h.9M21.3 31.3h.9M20.0 10.2h.9M24.3 36.8h.9M24.9 20.3h.9M20.0 15.1h.9M25.4 30.6h.9M29.2 20.7h.9M26.3 14.0h.9M23.3 21.3h.9M24.2 14.9h.9M23.4 25.9h.9M19.6 37.0h.9M20.4 23.0h.9M20.3 35.7h.9M28.8 32.6h.9M25.5 12.7h.9M25.9 33.8h.9M28.8 27.8h.9M22.7 29.6h.9M20.2 32.7h.9M20.6 26.6h.9M26.7 37.6h.9M23.5 18.4h.9M28.7 14.6h.9M22.0 18.9h.9M23.5 26.8h.9M28.1 10.4h.9M21.9 35.2h.9M27.1 8.2h.9M22.3 38.1h.9M22.8 30.0h.9M24.9 32.9h.9M21.6 10.0h.9M23.0 15.4h.9M24.2 31.6h.9M31.3 16.2h.9M19.7 28.5h.9M22.8 31.3h.9M22.2 17.2h.9M24.8 38.1h.9M25.7 23.1h.9M24.7 35.3h.9M24.3 34.2h.9M19.6 16.7h.9M22.7 13.5h.9M23.2 18.2h.9M21.5 29.6h.9M24.0 33.1h.9M23.9 12.8h.9M23.0 30.0h.9M25.1 30.6h.9M23.4 21.0h.9M21.5 36.1h.9M26.9 14.6h.9M21.6 20.7h.9M18.9 12.3h.9M25.3 31.5h.9M20.0 30.0h.9M26.8 9.6h.9M26.6 14.5h.9M22.0 22.1h.9M22.0 27.1h.9M24.2 11.5h.9M19.8 25.6h.9M20.8 33.4h.9M20.7 25.8h.9M25.3 12.6h.9M25.4 19.3h.9M21.8 12.4h.9M20.7 18.3h.9M22.8 9.6h.9M25.5 9.7h.9M24.5 37.9h.9M22.9 10.5h.9M21.7 20.4h.9M20.7 17.5h.9M24.8 29.9h.9M23.3 16.0h.9M23.4 21.0h.9M23.7 10.5h.9M26.0 9.1h.9M22.6 20.7h.9M28.6 27.8h.9M23.7 24.9h.9M25.3 22.0h.9M22.7 31.3h.9M24.8 13.3h.9M24.9 36.6h.9M22.1 17.7h.9M23.5 32.4h.9M25.0 27.7h.9M17.1 28.5h.9M26.0 16.9h.9M26.6 18.6h.9M28.2 18.8h.9M22.1 10.9h.9M19.3 29.8h.9M22.7 22.0h.9M19.8 27.9h.9M22.5 9.7h.9M23.3 16.6h.9M26.1 25.6h.9M19.3 20.7h.9M25.1 18.4h.9M27.7 30.4h.9M23.8 33.9h.9M28.2 15.1h.9M25.1 24.0h.9M27.0 28.5h.9M25.1 23.8h.9M25.4 17.3h.9M24.9 30.2h.9M20.7 24.5h.9M23.6 33.1h.9M23.1 13.8h.9M28.8 15.5h.9M22.5 26.4h.9M25.6 17.5h.9M26.0 17.8h.9M22.6 34.1h.9M25.5 16.2h.9M29.2 26.8h.9M20.6 28.6h.9M22.6 40.3h.9M25.5 32.7h.9M19.0 24.0h.9M27.0 9.7h.9M25.1 18.4h.9M25.0 20.0h.9M24.2 25.7h.9M24.7 37.2h.9M18.5 29.8h.9M23.7 10.4h.9M21.4 14.2h.9M27.0 27.1h.9M24.0 23.4h.9M21.9 30.9h.9M26.0 22.4h.9M24.9 29.8h.9M24.1 21.6h.9M24.1 10.9h.9M27.1 37.9h.9M24.9 39.1h.9M22.8 39.5h.9M24.5 39.7h.9M23.6 39.9h.9M25.5 38.4h.9M29.1 39.6h.9M22.8 38.2h.9M28.6 39.3h.9M24.0 39.2h.9M24.8 39.7h.9M26.7 38.7h.9M18.3 38.1h.9M27.0 38.8h.9M26.5 39.0h.9M28.0 38.7h.9M29.3 38.7h.9M27.3 38.6h.9M25.8 38.1h.9M25.3 39.0h.9M25.1 39.9h.9M26.0 39.6h.9M22.3 39.6h.9M27.7 38.3h.9M26.1 37.9h.9M25.5 39.1h.9M26.5 39.0h.9M26.1 38.4h.9M23.6 38.2h.9M24.6 37.2h.9M25.0 37.1h.9M21.7 38.8h.9M25.8 38.7h.9M22.3 38.3h.9M26.1 38.5h.9M30.6 39.4h.9M25.9 36.9h.9M23.1 39.0h.9M31.0 38.9h.9M28.9 38.7h.9M23.6 39.5h.9M28.3 36.6h.9M19.8 39.9h.9M22.9 38.4h.9M25.1 38.8h.9M23.2 39.6h.9M19.9 40.3h.9M32.8 38.8h.9M26.8 38.5h.9M34.6 38.2h.9M23.9 39.4h.9M25.5 36.9h.9M18.9 39.2h.9M26.6 38.2h.9M24.4 36.5h.9M21.0 37.2h.9M28.3 39.0h.9M23.0 39.6h.9M19.7 39.0h.9M26.5 37.3h.9" stroke="#000" stroke-opacity="0.4" stroke-width=".9"/>
</svg>
<rect x="136.18" y="329.10" width="24.60" height="32.10" fill="none" stroke="#2a2a2a" stroke-width="0.9"/>
<text x="163.08" y="351.20" font-size="6.1" fill="#222">39.7</text>
<rect x="182.16" y="326.80" width="55.50" height="52.60" fill="#fff" stroke="#b4b4b4" stroke-width="0.9"/>
<svg x="182.16" y="326.80" width="55.50" height="52.60" overflow="hidden">
<ellipse transform="translate(25.64,17.20)" rx="5.98" ry="10.40" fill="url(#g2)"/>
<ellipse transform="translate(25.64,13.20)" rx="5.43" ry="6.50" fill="url(#g1)"/>
<ellipse transform="translate(25.64,15.60)" rx="5.43" ry="6.50" fill="url(#g1)"/>
<ellipse transform="translate(25.64,18.00)" rx="5.43" ry="6.50" fill="url(#g1)"/>
<ellipse transform="translate(25.64,20.40)" rx="5.43" ry="6.50" fill="url(#g1)"/>
<ellipse transform="translate(25.64,22.80)" rx="5.43" ry="6.50" fill="url(#g1)"/>
<ellipse transform="translate(25.64,25.20)" rx="5.43" ry="6.50" fill="url(#g1)"/>
<ellipse transform="translate(25.64,27.60)" rx="5.43" ry="6.50" fill="url(#g1)"/>
<ellipse transform="translate(25.64,30.00)" rx="5.43" ry="6.50" fill="url(#g1)"/>
<ellipse transform="translate(25.64,32.40)" rx="5.43" ry="6.50" fill="url(#g1)"/>
<ellipse transform="translate(25.64,34.80)" rx="5.43" ry="6.50" fill="url(#g1)"/>
<ellipse transform="translate(25.64,37.20)" rx="5.43" ry="6.50" fill="url(#g1)"/>
<ellipse transform="translate(25.84,38.70)" rx="8.42" ry="2.60" fill="url(#g4)"/>
<ellipse transform="translate(24.84,23.20)" rx="13.00" ry="26.00" fill="url(#g0)" opacity="0.50"/>
<path d="M23.3 15.7h.9M25.1 10.0h.9M21.1 25.9h.9M28.2 13.2h.9M24.2 9.8h.9M28.2 17.5h.9M29.8 16.9h.9M25.4 17.1h.9M26.4 18.9h.9M23.5 11.4h.9M26.4 16.3h.9M24.0 12.5h.9M26.4 14.3h.9M27.0 15.5h.9M23.6 18.7h.9M22.8 16.1h.9M27.5 17.6h.9M21.6 13.4h.9M25.0 19.2h.9M26.7 17.1h.9M27.7 18.7h.9M20.6 15.4h.9M24.9 15.3h.9M26.5 15.6h.9M28.6 16.2h.9M25.6 14.7h.9M30.5 15.8h.9M23.4 13.5h.9M27.4 15.7h.9M25.2 17.3h.9M20.9 11.5h.9M25.1 16.4h.9M26.5 24.1h.9M27.9 18.9h.9M22.8 13.7h.9M29.0 15.8h.9M24.3 21.1h.9M27.8 12.4h.9M23.1 21.5h.9M23.9 23.5h.9M25.2 20.1h.9M24.2 15.9h.9M27.1 19.9h.9M25.0 20.3h.9M30.5 13.9h.9M25.2 23.9h.9M29.1 12.7h.9M25.8 17.7h.9M26.4 20.5h.9M30.2 17.6h.9M27.1 9.8h.9M25.8 13.4h.9M26.2 16.5h.9M27.2 7.8h.9M24.7 26.3h.9M27.1 20.7h.9M24.5 18.4h.9M26.3 19.7h.9M27.5 22.9h.9M19.0 14.4h.9M26.8 23.1h.9M24.3 17.9h.9M28.7 27.0h.9M24.8 17.6h.9M28.8 19.5h.9M27.8 19.2h.9M26.5 18.2h.9M25.9 12.2h.9M25.5 17.4h.9M26.3 16.3h.9M25.2 14.9h.9M30.9 12.0h.9M22.9 13.7h.9M24.7 15.1h.9M20.0 13.0h.9M27.8 25.5h.9M28.5 34.7h.9M26.8 26.0h.9M28.0 37.8h.9M26.0 20.7h.9M28.0 37.6h.9M26.1 26.8h.9M21.4 25.3h.9M29.8 30.2h.9M24.9 33.2h.9M26.4 17.1h.9M27.3 27.3h.9M24.8 29.5h.9M26.7 17.5h.9M25.7 32.5h.9M22.6 24.9h.9M26.4 17.7h.9M25.6 26.2h.9M25.1 17.4h.9M26.7 32.5h.9M24.6 25.7h.9M30.7 17.5h.9M25.7 23.9h.9M25.7 16.4h.9M25.6 17.6h.9M26.3 23.6h.9M27.4 21.2h.9M25.0 9.7h.9M25.7 31.1h.9M21.9 27.4h.9M29.4 32.1h.9M26.0 8.7h.9M24.6 28.2h.9M24.4 25.5h.9M25.7 36.8h.9M27.8 16.6h.9M24.6 36.4h.9M27.9 18.7h.9M23.9 23.6h.9M24.7 34.2h.9M25.8 30.7h.9M25.0 23.9h.9M24.8 29.5h.9M23.3 32.2h.9M24.6 36.4h.9M28.5 15.5h.9M24.3 35.7h.9M23.9 35.0h.9M27.9 31.9h.9M25.9 18.8h.9M25.6 29.6h.9M25.4 34.4h.9M24.3 16.4h.9M27.2 15.3h.9M28.0 23.5h.9M24.5 18.2h.9M25.2 17.0h.9M26.7 22.3h.9M28.2 15.7h.9M28.5 15.9h.9M27.0 41.6h.9M27.2 23.4h.9M29.2 35.5h.9M23.6 32.8h.9M25.1 30.7h.9M31.0 35.7h.9M27.5 16.8h.9M26.6 17.8h.9M26.7 22.3h.9M27.1 26.4h.9M25.4 11.9h.9M26.1 19.6h.9M27.5 27.2h.9M27.4 26.6h.9M24.8 24.2h.9M26.2 24.4h.9M27.2 30.1h.9M28.4 25.9h.9M25.9 26.5h.9M24.0 16.2h.9M28.4 20.5h.9M25.4 26.5h.9M25.7 31.1h.9M19.8 38.2h.9M23.4 18.7h.9M23.6 20.2h.9M27.5 32.8h.9M24.4 18.3h.9M24.8 33.6h.9M24.3 22.6h.9M24.3 17.5h.9M23.4 33.0h.9M22.6 26.9h.9M23.8 32.4h.9M26.6 26.1h.9M31.1 19.6h.9M24.5 19.6h.9M24.8 35.1h.9M25.0 19.8h.9M27.2 28.1h.9M28.5 22.4h.9M22.8 21.0h.9M25.2 19.1h.9M26.6 32.1h.9M20.3 19.5h.9M25.4 30.4h.9M23.7 35.2h.9M23.2 20.2h.9M26.3 26.7h.9M25.4 24.3h.9M26.5 31.1h.9M27.7 18.2h.9M24.7 36.8h.9M23.0 25.6h.9M24.9 36.1h.9M25.1 16.3h.9M26.8 37.5h.9M23.8 33.2h.9M25.8 25.7h.9M27.8 34.0h.9M25.6 31.7h.9M27.3 36.7h.9M24.6 20.9h.9M25.9 18.2h.9M26.5 14.9h.9M18.8 30.2h.9M24.4 34.4h.9M28.4 15.3h.9M28.1 17.6h.9M29.0 31.9h.9M25.3 25.2h.9M26.2 24.2h.9M24.3 39.1h.9M26.0 11.2h.9M27.8 12.2h.9M26.0 18.5h.9M22.5 20.1h.9M24.4 12.0h.9M28.1 22.5h.9M25.3 27.1h.9M24.8 25.6h.9M23.9 32.8h.9M25.2 20.0h.9M23.7 25.9h.9M22.9 27.3h.9M26.9 27.2h.9M26.4 19.7h.9M28.5 33.4h.9M28.5 27.2h.9M23.3 20.4h.9M25.8 28.1h.9M22.2 25.1h.9M24.0 30.9h.9M28.8 28.5h.9M26.6 22.6h.9M25.6 16.0h.9M24.8 17.2h.9M25.6 23.3h.9M26.8 18.1h.9M29.9 35.4h.9M26.4 35.9h.9M25.0 34.9h.9M23.7 16.9h.9M25.7 26.7h.9M29.9 18.9h.9M23.9 39.4h.9M21.0 39.3h.9M24.1 39.9h.9M27.8 38.2h.9M27.3 38.7h.9M28.5 38.4h.9M25.5 38.8h.9M25.8 37.5h.9M30.0 39.5h.9M31.0 39.1h.9M31.7 39.7h.9M27.2 38.5h.9M27.6 39.1h.9M27.9 39.3h.9M25.3 39.7h.9M29.2 37.4h.9M26.5 39.1h.9M23.7 39.3h.9M27.7 39.0h.9M16.9 38.6h.9M28.9 37.4h.9M26.4 38.0h.9M28.5 38.3h.9M31.6 38.7h.9M27.6 39.5h.9M25.0 38.7h.9M24.8 40.0h.9M24.1 38.3h.9M31.8 39.3h.9M25.8 38.9h.9M23.9 39.0h.9M27.9 39.9h.9M29.3 40.3h.9M23.6 39.2h.9M28.9 39.4h.9M24.9 38.7h.9M24.2 38.6h.9M27.2 38.3h.9M27.8 39.8h.9M32.6 38.0h.9M22.9 40.0h.9M25.5 37.3h.9M29.0 38.1h.9M24.8 37.7h.9M28.0 36.9h.9M25.5 40.3h.9M23.7 39.2h.9M26.9 39.3h.9M25.8 37.0h.9M18.7 38.5h.9M23.2 38.9h.9M27.1 39.8h.9M31.6 37.7h.9M23.6 39.7h.9M20.7 38.9h.9M25.4 37.6h.9M24.2 40.4h.9M21.7 36.0h.9M30.3 39.7h.9M25.0 37.9h.9" stroke="#000" stroke-opacity="0.4" stroke-width=".9"/>
<path d="M29.6 32.4h.9M22.6 27.4h.9M16.1 46.8h.9M30.8 27.6h.9M25.3 14.2h.9M27.5 29.0h.9M21.4 41.1h.9M23.1 34.4h.9M24.8 19.6h.9M27.8 11.4h.9M24.8 26.8h.9M23.6 21.5h.9M24.2 29.8h.9M18.2 18.3h.9M30.2 26.3h.9M26.3 17.6h.9M25.9 20.3h.9M12.0 16.2h.9M23.5 13.4h.9M24.6 17.6h.9M17.2 22.1h.9M27.8 30.9h.9M30.3 34.3h.9M25.8 43.3h.9M28.6 40.6h.9M30.6 27.6h.9M13.4 17.5h.9M22.8 27.3h.9M19.7 20.9h.9M29.7 28.7h.9M24.5 25.0h.9M18.9 19.3h.9M21.0 31.6h.9M34.6 23.3h.9M29.6 35.1h.9M26.4 22.3h.9M33.3 32.8h.9M34.2 35.5h.9M34.0 37.0h.9M27.2 37.1h.9M23.4 10.0h.9M23.2 29.6h.9M24.6 36.2h.9M21.3 25.9h.9M24.7 39.2h.9M25.5 16.3h.9M20.4 32.5h.9M24.2 43.9h.9M16.8 23.1h.9M33.0 32.5h.9M22.6 22.2h.9M25.8 27.4h.9M33.2 26.5h.9M17.2 24.9h.9M33.5 7.2h.9M27.8 27.4h.9M26.2 16.0h.9M15.4 21.5h.9M20.4 22.8h.9M22.7 15.6h.9M23.0 11.5h.9M32.7 34.3h.9M16.8 29.8h.9M26.8 29.3h.9M15.8 23.1h.9M17.0 6.0h.9M26.4 16.8h.9M25.5 14.8h.9M30.8 10.4h.9M31.9 16.2h.9M24.3 21.5h.9M24.2 3.2h.9M17.0 11.5h.9M12.4 2.4h.9M26.1 33.4h.9" stroke="#000" stroke-opacity="0.3" stroke-width=".9"/>
</svg>
<rect x="194.26" y="329.10" width="24.60" height="32.10" fill="none" stroke="#2a2a2a" stroke-width="0.9"/>
<text x="221.16" y="351.20" font-size="6.1" fill="#222">29.8</text>
<rect x="240.24" y="326.80" width="55.50" height="52.60" fill="#fff" stroke="#b4b4b4" stroke-width="0.9"/>
<svg x="240.24" y="326.80" width="55.50" height="52.60" overflow="hidden">
<ellipse transform="translate(26.46,16.70)" rx="5.43" ry="6.50" fill="url(#g3)"/>
<ellipse transform="translate(26.46,19.20)" rx="5.43" ry="6.50" fill="url(#g3)"/>
<ellipse transform="translate(26.46,21.70)" rx="5.43" ry="6.50" fill="url(#g3)"/>
<ellipse transform="translate(26.46,24.20)" rx="5.43" ry="6.50" fill="url(#g3)"/>
<ellipse transform="translate(26.46,26.70)" rx="5.43" ry="6.50" fill="url(#g3)"/>
<ellipse transform="translate(26.46,29.20)" rx="5.43" ry="6.50" fill="url(#g3)"/>
<ellipse transform="translate(26.46,31.70)" rx="5.43" ry="6.50" fill="url(#g3)"/>
<ellipse transform="translate(26.46,34.20)" rx="5.43" ry="6.50" fill="url(#g3)"/>
<ellipse transform="translate(26.46,36.70)" rx="5.43" ry="6.50" fill="url(#g3)"/>
<ellipse transform="translate(26.46,38.20)" rx="7.02" ry="2.08" fill="url(#g4)"/>
<path d="M29.8 23.9h.9M23.8 15.2h.9M25.2 20.1h.9M24.1 18.8h.9M25.7 17.6h.9M23.3 40.0h.9M26.3 32.2h.9M26.0 32.5h.9M26.0 23.4h.9M25.9 30.3h.9M25.1 21.4h.9M26.2 26.2h.9M23.6 27.6h.9M30.5 37.3h.9M26.5 29.4h.9M27.7 22.2h.9M27.6 29.5h.9M26.2 29.1h.9M26.4 20.6h.9M25.3 25.9h.9M24.5 32.0h.9M25.7 17.5h.9M23.6 32.3h.9M22.9 30.4h.9M28.2 34.0h.9M28.8 27.3h.9M26.6 21.9h.9M22.9 19.7h.9M31.7 23.9h.9M23.8 35.2h.9M25.5 32.0h.9M25.9 35.4h.9M28.7 26.5h.9M25.5 15.0h.9M24.4 20.5h.9M26.4 23.7h.9M23.0 19.1h.9M31.8 27.7h.9M29.1 23.0h.9M27.8 22.2h.9M28.9 38.4h.9M27.9 23.3h.9M26.6 17.5h.9M21.9 16.3h.9M27.0 25.3h.9M27.7 32.3h.9M28.3 22.4h.9M25.6 19.9h.9M26.3 27.7h.9M19.9 22.8h.9M28.5 33.1h.9M25.4 31.0h.9M27.5 30.5h.9M24.7 25.3h.9M28.3 21.8h.9M29.0 33.0h.9M27.4 17.9h.9M25.9 29.1h.9M25.2 32.5h.9M29.5 32.0h.9M27.9 25.4h.9M23.9 24.2h.9M29.8 19.3h.9M26.6 28.5h.9M25.4 25.3h.9M27.8 29.1h.9M27.9 32.6h.9M27.2 13.9h.9M26.5 19.8h.9M28.4 20.8h.9M25.8 24.7h.9M27.3 34.5h.9M25.2 24.0h.9M24.7 31.8h.9M26.8 19.9h.9M25.8 20.6h.9M24.2 23.4h.9M24.7 27.0h.9M27.0 38.7h.9M25.6 27.1h.9M26.1 27.8h.9M22.8 23.3h.9M24.9 22.7h.9M24.6 35.8h.9M26.8 14.3h.9M26.8 33.3h.9M24.9 28.2h.9M26.1 25.2h.9M30.0 36.4h.9M25.9 29.4h.9M25.6 29.1h.9M24.7 27.2h.9M25.4 20.2h.9M20.5 15.6h.9M24.3 15.9h.9M28.0 31.7h.9M28.0 30.7h.9M19.6 33.7h.9M29.0 30.0h.9M25.5 21.2h.9M29.5 34.4h.9M23.7 34.3h.9M29.2 33.2h.9M26.4 26.8h.9M25.2 25.3h.9M26.2 30.3h.9M24.1 21.8h.9M24.5 27.9h.9M25.3 16.2h.9M26.5 21.9h.9M21.8 24.3h.9M28.1 26.9h.9M29.4 22.7h.9M26.1 27.7h.9M28.1 35.8h.9M26.6 19.8h.9M23.8 23.5h.9M25.7 27.7h.9M23.7 17.6h.9M26.8 37.1h.9M25.4 19.4h.9M25.4 33.4h.9M24.7 36.0h.9M22.6 25.1h.9M26.1 30.5h.9M28.5 25.6h.9M27.4 24.7h.9M26.3 21.0h.9M29.7 34.8h.9M23.9 26.5h.9M27.7 29.5h.9M24.3 30.7h.9M28.0 19.0h.9M27.9 16.1h.9M26.3 31.6h.9M30.5 19.1h.9M27.0 28.0h.9M23.6 27.1h.9M23.8 21.3h.9M29.3 29.3h.9M26.8 26.7h.9M27.8 27.2h.9M29.8 30.3h.9M27.6 39.6h.9M22.7 15.7h.9M28.3 21.8h.9M27.8 27.8h.9M23.1 19.1h.9M23.5 22.4h.9M26.6 24.3h.9M28.2 32.6h.9M24.9 38.9h.9M24.5 19.4h.9M27.6 19.1h.9M27.8 19.2h.9M30.4 20.2h.9M26.2 12.1h.9M23.9 16.9h.9M24.1 22.2h.9M25.8 32.6h.9M27.0 30.9h.9M25.2 17.0h.9M25.7 21.7h.9M24.5 21.2h.9M23.3 26.8h.9M25.8 32.4h.9M27.1 24.7h.9M27.5 16.3h.9M25.8 21.4h.9M26.2 22.8h.9M23.3 25.7h.9M29.5 36.2h.9M27.5 29.9h.9M25.1 32.6h.9M24.1 32.2h.9M23.6 21.1h.9M28.5 32.6h.9M25.5 33.1h.9M25.8 22.9h.9M24.5 36.3h.9M26.9 21.1h.9M26.3 22.5h.9M28.2 16.3h.9M29.3 27.3h.9M26.2 25.9h.9M23.4 25.8h.9M26.2 14.3h.9M27.2 35.7h.9M28.1 28.6h.9M23.6 21.7h.9M26.7 32.4h.9M27.7 19.4h.9M26.5 21.8h.9M27.3 28.5h.9M27.3 33.6h.9M27.2 25.0h.9M27.1 27.5h.9M25.0 23.6h.9M24.7 28.5h.9M30.0 36.3h.9M30.5 24.5h.9M26.5 21.0h.9M27.9 33.3h.9M25.9 34.8h.9M29.1 19.5h.9M25.1 31.0h.9M24.0 27.3h.9M24.2 27.6h.9M27.6 20.7h.9M26.0 20.4h.9M29.0 28.2h.9M26.1 23.5h.9M20.9 34.1h.9M25.9 31.6h.9M23.0 29.3h.9M24.7 33.6h.9M23.4 18.0h.9M23.6 28.3h.9M25.4 19.4h.9M29.2 15.8h.9M25.6 19.9h.9M29.1 30.5h.9M26.0 20.1h.9M24.3 37.2h.9M25.4 23.7h.9M29.4 38.4h.9M31.7 37.8h.9M25.4 38.6h.9M26.5 40.2h.9M30.1 37.0h.9M25.0 39.4h.9M29.3 37.5h.9M24.0 38.3h.9M26.6 37.9h.9M30.5 39.0h.9M30.4 37.8h.9M28.3 37.1h.9M27.6 38.1h.9M24.7 37.9h.9M29.4 38.5h.9M26.6 36.5h.9M23.7 37.9h.9M27.8 37.2h.9M28.1 38.7h.9M22.6 36.7h.9M25.4 37.8h.9M25.5 39.6h.9M29.0 38.3h.9M27.4 39.5h.9M31.4 38.5h.9M21.9 37.9h.9M25.7 37.7h.9M27.3 39.2h.9M26.7 39.2h.9M25.0 38.3h.9" stroke="#000" stroke-opacity="0.4" stroke-width=".9"/>
</svg>
<rect x="252.34" y="329.10" width="24.60" height="32.10" fill="none" stroke="#2a2a2a" stroke-width="0.9"/>
<text x="279.24" y="351.20" font-size="6.1" fill="#222">75.2</text>
<rect x="298.32" y="326.80" width="55.50" height="52.60" fill="#fff" stroke="#b4b4b4" stroke-width="0.9"/>
<svg x="298.32" y="326.80" width="55.50" height="52.60" overflow="hidden">
<ellipse transform="translate(25.68,18.20)" rx="6.11" ry="6.50" fill="url(#g1)"/>
<ellipse transform="translate(25.68,20.77)" rx="6.11" ry="6.50" fill="url(#g1)"/>
<ellipse transform="translate(25.68,23.34)" rx="6.11" ry="6.50" fill="url(#g1)"/>
<ellipse transform="translate(25.68,25.91)" rx="6.11" ry="6.50" fill="url(#g1)"/>
<ellipse transform="translate(25.68,28.49)" rx="6.11" ry="6.50" fill="url(#g1)"/>
<ellipse transform="translate(25.68,31.06)" rx="6.11" ry="6.50" fill="url(#g1)"/>
<ellipse transform="translate(25.68,33.63)" rx="6.11" ry="6.50" fill="url(#g1)"/>
<ellipse transform="translate(25.68,36.20)" rx="6.11" ry="6.50" fill="url(#g1)"/>
<ellipse transform="translate(26.18,33.20)" rx="6.50" ry="6.50" fill="url(#g2)"/>
<ellipse transform="translate(25.48,38.20)" rx="7.96" ry="2.08" fill="url(#g4)"/>
<ellipse transform="translate(25.68,25.20)" rx="11.70" ry="20.80" fill="url(#g0)" opacity="0.62"/>
<path d="M26.8 18.0h.9M28.8 22.4h.9M27.0 36.1h.9M25.0 29.5h.9M26.0 22.2h.9M25.3 35.2h.9M27.8 34.8h.9M26.6 27.5h.9M27.6 27.8h.9M24.9 21.5h.9M29.0 22.6h.9M26.3 24.0h.9M27.3 29.0h.9M25.0 20.7h.9M21.4 34.6h.9M28.9 21.3h.9M24.2 32.5h.9M23.5 32.8h.9M24.0 34.8h.9M24.2 28.7h.9M27.7 21.5h.9M27.6 29.0h.9M31.2 25.0h.9M25.0 18.7h.9M25.5 38.5h.9M30.6 32.9h.9M25.2 22.5h.9M26.2 31.8h.9M26.5 27.2h.9M25.0 31.1h.9M25.2 27.5h.9M23.7 33.3h.9M25.6 28.4h.9M28.1 27.2h.9M25.0 40.0h.9M21.6 26.8h.9M24.7 23.8h.9M22.6 27.5h.9M25.8 26.8h.9M24.7 32.4h.9M26.9 27.1h.9M25.3 31.8h.9M24.0 19.3h.9M22.3 33.2h.9M24.2 34.5h.9M21.3 24.4h.9M25.1 21.7h.9M24.5 21.6h.9M27.8 24.2h.9M24.6 32.3h.9M24.7 22.6h.9M28.6 23.4h.9M25.2 18.4h.9M24.0 34.6h.9M26.7 29.5h.9M24.4 33.4h.9M32.2 19.7h.9M25.7 28.2h.9M24.3 24.2h.9M26.9 19.6h.9M24.7 15.1h.9M24.4 28.2h.9M29.1 26.3h.9M24.5 25.1h.9M29.1 31.9h.9M29.7 21.1h.9M23.3 21.0h.9M24.8 20.0h.9M25.3 32.6h.9M22.4 25.0h.9M27.9 23.9h.9M22.5 22.3h.9M19.6 27.9h.9M25.2 21.2h.9M26.2 32.4h.9M24.8 14.8h.9M25.9 18.8h.9M25.1 22.0h.9M27.8 17.3h.9M25.8 34.6h.9M29.8 37.5h.9M24.0 32.3h.9M24.5 29.4h.9M27.4 22.5h.9M27.8 35.9h.9M25.8 21.6h.9M25.3 34.0h.9M28.3 21.6h.9M25.5 23.9h.9M29.5 25.5h.9M24.1 21.9h.9M26.0 19.9h.9M25.2 18.8h.9M28.3 27.5h.9M26.1 17.0h.9M25.7 33.4h.9M24.4 23.7h.9M30.6 23.6h.9M24.7 18.7h.9M29.0 26.8h.9M22.5 33.4h.9M25.6 40.4h.9M26.9 23.0h.9M23.9 17.6h.9M26.9 31.9h.9M27.2 27.3h.9M22.2 24.4h.9M29.9 21.3h.9M27.1 29.3h.9M24.9 26.6h.9M24.1 16.1h.9M23.8 24.8h.9M28.9 32.7h.9M23.1 21.3h.9M26.2 19.2h.9M25.7 25.2h.9M26.7 40.1h.9M26.1 38.1h.9M27.7 36.0h.9M24.6 32.4h.9M23.6 18.9h.9M28.2 32.9h.9M26.5 22.7h.9M25.4 34.2h.9M25.5 18.9h.9M26.9 31.5h.9M23.5 37.3h.9M27.2 25.3h.9M26.1 33.2h.9M23.7 22.3h.9M28.0 29.5h.9M20.0 20.7h.9M27.8 36.2h.9M26.7 29.3h.9M26.2 29.8h.9M20.0 18.1h.9M24.9 36.6h.9M23.3 31.6h.9M26.6 28.8h.9M24.3 32.9h.9M26.8 28.5h.9M22.9 32.8h.9M23.5 26.7h.9M28.7 19.8h.9M27.3 23.5h.9M22.3 24.0h.9M28.1 30.8h.9M31.2 20.3h.9M25.7 37.6h.9M26.4 38.6h.9M22.9 22.4h.9M31.3 34.3h.9M27.8 29.6h.9M27.2 33.3h.9M27.8 28.2h.9M26.6 26.6h.9M25.3 32.9h.9M25.6 22.3h.9M21.0 27.3h.9M25.0 23.7h.9M21.9 24.1h.9M24.6 29.1h.9M26.9 30.2h.9M23.6 30.3h.9M28.4 21.4h.9M27.7 18.3h.9M27.7 23.2h.9M25.5 28.1h.9M26.9 19.4h.9M23.1 34.7h.9M24.4 23.4h.9M27.0 34.1h.9M27.0 22.0h.9M28.6 30.6h.9M25.0 24.4h.9M26.3 20.3h.9M25.7 29.1h.9M27.1 21.7h.9M26.4 32.0h.9M25.2 26.5h.9M27.8 24.5h.9M27.0 18.4h.9M21.3 40.8h.9M28.1 19.1h.9M25.8 24.3h.9M22.9 23.3h.9M26.0 18.6h.9M27.4 20.8h.9M25.4 24.5h.9M23.9 29.5h.9M28.9 23.0h.9M26.0 24.3h.9M25.0 30.7h.9M23.4 26.4h.9M27.3 28.7h.9M24.0 37.8h.9M26.3 31.1h.9M25.8 32.5h.9M26.3 28.8h.9M26.0 34.3h.9M28.9 34.1h.9M22.1 28.2h.9M27.0 34.2h.9M26.6 28.8h.9M26.6 35.6h.9M23.6 32.6h.9M27.0 33.6h.9M23.2 33.4h.9M25.3 29.5h.9M23.7 33.4h.9M30.4 29.5h.9M28.2 37.0h.9M26.9 30.2h.9M32.2 33.2h.9M28.3 32.5h.9M28.1 38.1h.9M25.5 33.6h.9M27.8 34.4h.9M26.7 36.1h.9M22.9 35.5h.9M26.1 26.2h.9M28.2 32.5h.9M29.6 32.9h.9M26.5 31.9h.9M26.5 26.7h.9M23.7 35.7h.9M24.0 35.1h.9M26.3 29.3h.9M29.4 34.2h.9M26.2 31.1h.9M26.2 31.6h.9M25.2 32.4h.9M26.5 32.4h.9M25.9 32.1h.9M25.8 33.4h.9M24.2 33.9h.9M25.5 35.3h.9M29.1 35.5h.9M30.8 33.4h.9M26.5 31.2h.9M24.3 37.7h.9M26.7 38.2h.9M27.6 38.2h.9M28.1 38.6h.9M26.8 37.2h.9M24.0 37.1h.9M23.2 37.5h.9M24.1 38.5h.9M26.0 38.2h.9M22.1 39.6h.9M28.7 36.9h.9M22.8 36.5h.9M23.9 38.8h.9M28.6 38.1h.9M24.5 39.1h.9M26.0 38.1h.9M30.1 36.8h.9M28.1 37.0h.9M21.1 39.7h.9M21.9 38.1h.9M32.4 37.6h.9M20.7 38.6h.9M27.0 39.3h.9M23.9 38.0h.9M28.5 37.8h.9M26.9 38.2h.9M28.2 38.7h.9M25.9 39.6h.9M26.7 37.6h.9M28.1 38.2h.9M22.7 37.2h.9M27.5 37.1h.9M23.0 36.9h.9M20.3 38.0h.9M25.9 38.9h.9M29.3 39.3h.9M31.4 39.1h.9M26.9 37.9h.9M23.6 38.0h.9M28.0 37.6h.9M22.7 37.6h.9M20.8 37.5h.9M24.6 39.3h.9M27.1 37.4h.9M30.2 37.3h.9" stroke="#000" stroke-opacity="0.4" stroke-width=".9"/>
<path d="M23.7 13.4h.9M19.4 30.4h.9M22.4 31.9h.9M16.8 19.7h.9M26.3 10.4h.9M28.3 24.3h.9M21.1 31.3h.9M24.2 35.7h.9M28.0 25.0h.9M23.6 30.1h.9M30.4 30.2h.9M19.9 23.1h.9M28.0 38.5h.9M22.1 22.0h.9M23.2 33.5h.9M23.7 25.6h.9M32.8 20.5h.9M19.3 20.2h.9M24.7 24.5h.9M24.6 26.6h.9M29.5 25.5h.9M25.7 21.6h.9M26.8 21.2h.9M29.2 21.4h.9M31.0 36.1h.9M26.3 30.5h.9M22.8 31.6h.9M24.4 31.7h.9M25.0 15.5h.9M33.3 5.2h.9M30.3 13.5h.9M25.5 17.8h.9M17.3 35.5h.9M26.3 36.0h.9M20.3 25.4h.9M29.7 14.7h.9M29.9 30.2h.9M34.2 30.1h.9M21.3 27.0h.9M20.2 27.4h.9M22.9 21.9h.9M19.2 26.8h.9M25.6 31.4h.9M30.2 13.8h.9M33.3 24.5h.9" stroke="#000" stroke-opacity="0.3" stroke-width=".9"/>
</svg>
<rect x="310.42" y="329.10" width="24.60" height="32.10" fill="none" stroke="#2a2a2a" stroke-width="0.9"/>
<text x="337.32" y="351.20" font-size="6.1" fill="#222">51.8</text>
<rect x="356.40" y="326.80" width="55.50" height="52.60" fill="#fff" stroke="#b4b4b4" stroke-width="0.9"/>
<svg x="356.40" y="326.80" width="55.50" height="52.60" overflow="hidden">
<ellipse transform="translate(25.40,21.20)" rx="4.68" ry="7.28" fill="url(#g0)"/>
<ellipse transform="translate(25.40,27.20)" rx="6.50" ry="13.00" fill="url(#g0)" opacity="0.38"/>
<ellipse transform="translate(26.20,37.20)" rx="7.72" ry="2.08" fill="url(#g4)"/>
<path d="M24.5 22.2h.9M23.9 20.9h.9M27.1 20.8h.9M22.9 21.9h.9M27.2 18.0h.9M24.3 21.9h.9M23.8 23.4h.9M22.7 17.5h.9M27.4 21.9h.9M25.1 21.1h.9M26.8 18.5h.9M26.1 18.0h.9M24.6 21.9h.9M24.0 20.8h.9M26.4 23.9h.9M26.8 23.3h.9M27.1 22.7h.9M29.9 27.3h.9M27.3 22.0h.9M23.8 17.9h.9M27.9 24.9h.9M25.9 20.4h.9M26.5 17.7h.9M27.6 18.3h.9M28.5 19.3h.9M24.0 25.9h.9M26.1 23.9h.9M24.9 22.4h.9M28.5 29.8h.9M26.4 29.4h.9M29.6 12.4h.9M29.7 17.5h.9M22.2 23.8h.9M23.7 32.9h.9M22.6 26.8h.9M20.5 30.1h.9M25.4 38.9h.9M26.1 34.2h.9M27.3 34.7h.9M26.0 24.7h.9M23.8 29.3h.9M24.0 31.2h.9M24.4 22.1h.9M23.1 27.5h.9M25.2 23.6h.9M26.4 25.9h.9M27.4 26.9h.9M24.1 26.2h.9M30.9 34.8h.9M24.6 25.9h.9M22.2 32.8h.9M21.3 17.3h.9M25.1 24.5h.9M25.5 29.4h.9M27.1 36.2h.9M25.2 37.4h.9M26.8 37.5h.9M31.5 36.0h.9M25.3 37.2h.9M25.2 36.8h.9M28.8 37.3h.9M28.7 37.2h.9M28.9 37.3h.9M24.1 36.3h.9M23.8 37.1h.9M26.9 38.2h.9M28.1 37.0h.9M30.1 35.6h.9M23.4 36.2h.9M27.2 38.2h.9M20.6 36.7h.9M25.2 37.2h.9M26.2 37.3h.9M22.9 37.3h.9M23.1 38.9h.9M25.0 37.2h.9M25.0 37.0h.9M26.9 36.8h.9M27.1 37.1h.9M25.9 36.9h.9M31.3 37.3h.9M30.0 36.9h.9M23.0 38.0h.9M19.9 38.0h.9M28.1 37.2h.9M26.0 39.0h.9M32.3 36.4h.9M27.3 37.7h.9M25.1 37.4h.9M24.6 37.6h.9M24.7 37.3h.9" stroke="#000" stroke-opacity="0.4" stroke-width=".9"/>
</svg>
<rect x="368.50" y="329.10" width="24.60" height="32.10" fill="none" stroke="#2a2a2a" stroke-width="0.9"/>
<text x="395.40" y="351.20" font-size="6.1" fill="#222">20.0</text>
<line x1="66.00" y1="326.80" x2="66.00" y2="379.40" stroke="#888" stroke-width="0.8"/>
<line x1="64.40" y1="331.90" x2="66.30" y2="331.90" stroke="#111" stroke-width="0.9"/>
<line x1="65.10" y1="334.88" x2="66.20" y2="334.88" stroke="#333" stroke-width="0.6"/>
<line x1="65.10" y1="337.85" x2="66.20" y2="337.85" stroke="#333" stroke-width="0.6"/>
<line x1="65.10" y1="340.83" x2="66.20" y2="340.83" stroke="#333" stroke-width="0.6"/>
<line x1="64.40" y1="343.80" x2="66.30" y2="343.80" stroke="#111" stroke-width="0.9"/>
<line x1="65.10" y1="347.23" x2="66.20" y2="347.23" stroke="#333" stroke-width="0.6"/>
<line x1="65.10" y1="350.65" x2="66.20" y2="350.65" stroke="#333" stroke-width="0.6"/>
<line x1="65.10" y1="354.07" x2="66.20" y2="354.07" stroke="#333" stroke-width="0.6"/>
<line x1="64.40" y1="357.50" x2="66.30" y2="357.50" stroke="#111" stroke-width="0.9"/>
<line x1="65.10" y1="359.52" x2="66.20" y2="359.52" stroke="#333" stroke-width="0.6"/>
<line x1="65.10" y1="361.55" x2="66.20" y2="361.55" stroke="#333" stroke-width="0.6"/>
<line x1="65.10" y1="363.57" x2="66.20" y2="363.57" stroke="#333" stroke-width="0.6"/>
<line x1="64.40" y1="365.60" x2="66.30" y2="365.60" stroke="#111" stroke-width="0.9"/>
<line x1="65.10" y1="367.78" x2="66.20" y2="367.78" stroke="#333" stroke-width="0.6"/>
<line x1="65.10" y1="369.95" x2="66.20" y2="369.95" stroke="#333" stroke-width="0.6"/>
<line x1="65.10" y1="372.12" x2="66.20" y2="372.12" stroke="#333" stroke-width="0.6"/>
<line x1="64.40" y1="374.30" x2="66.30" y2="374.30" stroke="#111" stroke-width="0.9"/>
<text x="61.20" y="334.20" font-size="6.4" fill="#222" text-anchor="end" font-family="Liberation Sans, sans-serif">10<tspan font-size="4.48" dy="-2.56">5</tspan></text>
<text x="61.20" y="346.10" font-size="6.4" fill="#222" text-anchor="end" font-family="Liberation Sans, sans-serif">10<tspan font-size="4.48" dy="-2.56">4</tspan></text>
<text x="61.20" y="359.80" font-size="6.4" fill="#222" text-anchor="end" font-family="Liberation Sans, sans-serif">10<tspan font-size="4.48" dy="-2.56">3</tspan></text>
<text x="58.50" y="367.90" font-size="6.4" fill="#222" text-anchor="end">0</text>
<text x="61.20" y="376.60" font-size="6.4" fill="#222" text-anchor="end" font-family="Liberation Sans, sans-serif">−10<tspan font-size="4.48" dy="-2.56">3</tspan></text>
<line x1="66.00" y1="379.40" x2="121.50" y2="379.40" stroke="#555" stroke-width="0.8"/>
<line x1="69.40" y1="379.10" x2="69.40" y2="380.80" stroke="#111" stroke-width="0.9"/>
<line x1="78.20" y1="379.10" x2="78.20" y2="380.80" stroke="#111" stroke-width="0.9"/>
<line x1="87.60" y1="379.10" x2="87.60" y2="380.80" stroke="#111" stroke-width="0.9"/>
<line x1="101.70" y1="379.10" x2="101.70" y2="380.80" stroke="#111" stroke-width="0.9"/>
<line x1="114.50" y1="379.10" x2="114.50" y2="380.80" stroke="#111" stroke-width="0.9"/>
<text x="72.00" y="387.60" font-size="6.3" fill="#222" text-anchor="end" transform="rotate(-50 72.00 387.60)" font-family="Liberation Sans, sans-serif">−10<tspan font-size="3.9" dy="-2.6">3</tspan></text>
<text x="82.40" y="387.60" font-size="6.3" fill="#222" text-anchor="end" transform="rotate(-50 82.40 387.60)" font-family="Liberation Sans, sans-serif">0</text>
<text x="92.00" y="387.60" font-size="6.3" fill="#222" text-anchor="end" transform="rotate(-50 92.00 387.60)" font-family="Liberation Sans, sans-serif">10<tspan font-size="3.9" dy="-2.6">3</tspan></text>
<text x="106.20" y="387.60" font-size="6.3" fill="#222" text-anchor="end" transform="rotate(-50 106.20 387.60)" font-family="Liberation Sans, sans-serif">10<tspan font-size="3.9" dy="-2.6">4</tspan></text>
<text x="119.00" y="387.60" font-size="6.3" fill="#222" text-anchor="end" transform="rotate(-50 119.00 387.60)" font-family="Liberation Sans, sans-serif">10<tspan font-size="3.9" dy="-2.6">5</tspan></text>
<line x1="124.08" y1="379.40" x2="179.58" y2="379.40" stroke="#555" stroke-width="0.8"/>
<line x1="127.48" y1="379.10" x2="127.48" y2="380.80" stroke="#111" stroke-width="0.9"/>
<line x1="136.28" y1="379.10" x2="136.28" y2="380.80" stroke="#111" stroke-width="0.9"/>
<line x1="145.68" y1="379.10" x2="145.68" y2="380.80" stroke="#111" stroke-width="0.9"/>
<line x1="159.78" y1="379.10" x2="159.78" y2="380.80" stroke="#111" stroke-width="0.9"/>
<line x1="172.58" y1="379.10" x2="172.58" y2="380.80" stroke="#111" stroke-width="0.9"/>
<text x="130.08" y="387.60" font-size="6.3" fill="#222" text-anchor="end" transform="rotate(-50 130.08 387.60)" font-family="Liberation Sans, sans-serif">−10<tspan font-size="3.9" dy="-2.6">3</tspan></text>
<text x="140.48" y="387.60" font-size="6.3" fill="#222" text-anchor="end" transform="rotate(-50 140.48 387.60)" font-family="Liberation Sans, sans-serif">0</text>
<text x="150.08" y="387.60" font-size="6.3" fill="#222" text-anchor="end" transform="rotate(-50 150.08 387.60)" font-family="Liberation Sans, sans-serif">10<tspan font-size="3.9" dy="-2.6">3</tspan></text>
<text x="164.28" y="387.60" font-size="6.3" fill="#222" text-anchor="end" transform="rotate(-50 164.28 387.60)" font-family="Liberation Sans, sans-serif">10<tspan font-size="3.9" dy="-2.6">4</tspan></text>
<text x="177.08" y="387.60" font-size="6.3" fill="#222" text-anchor="end" transform="rotate(-50 177.08 387.60)" font-family="Liberation Sans, sans-serif">10<tspan font-size="3.9" dy="-2.6">5</tspan></text>
<line x1="182.16" y1="379.40" x2="237.66" y2="379.40" stroke="#555" stroke-width="0.8"/>
<line x1="185.56" y1="379.10" x2="185.56" y2="380.80" stroke="#111" stroke-width="0.9"/>
<line x1="194.36" y1="379.10" x2="194.36" y2="380.80" stroke="#111" stroke-width="0.9"/>
<line x1="203.76" y1="379.10" x2="203.76" y2="380.80" stroke="#111" stroke-width="0.9"/>
<line x1="217.86" y1="379.10" x2="217.86" y2="380.80" stroke="#111" stroke-width="0.9"/>
<line x1="230.66" y1="379.10" x2="230.66" y2="380.80" stroke="#111" stroke-width="0.9"/>
<text x="188.16" y="387.60" font-size="6.3" fill="#222" text-anchor="end" transform="rotate(-50 188.16 387.60)" font-family="Liberation Sans, sans-serif">−10<tspan font-size="3.9" dy="-2.6">3</tspan></text>
<text x="198.56" y="387.60" font-size="6.3" fill="#222" text-anchor="end" transform="rotate(-50 198.56 387.60)" font-family="Liberation Sans, sans-serif">0</text>
<text x="208.16" y="387.60" font-size="6.3" fill="#222" text-anchor="end" transform="rotate(-50 208.16 387.60)" font-family="Liberation Sans, sans-serif">10<tspan font-size="3.9" dy="-2.6">3</tspan></text>
<text x="222.36" y="387.60" font-size="6.3" fill="#222" text-anchor="end" transform="rotate(-50 222.36 387.60)" font-family="Liberation Sans, sans-serif">10<tspan font-size="3.9" dy="-2.6">4</tspan></text>
<text x="235.16" y="387.60" font-size="6.3" fill="#222" text-anchor="end" transform="rotate(-50 235.16 387.60)" font-family="Liberation Sans, sans-serif">10<tspan font-size="3.9" dy="-2.6">5</tspan></text>
<line x1="240.24" y1="379.40" x2="295.74" y2="379.40" stroke="#555" stroke-width="0.8"/>
<line x1="243.64" y1="379.10" x2="243.64" y2="380.80" stroke="#111" stroke-width="0.9"/>
<line x1="252.44" y1="379.10" x2="252.44" y2="380.80" stroke="#111" stroke-width="0.9"/>
<line x1="261.84" y1="379.10" x2="261.84" y2="380.80" stroke="#111" stroke-width="0.9"/>
<line x1="275.94" y1="379.10" x2="275.94" y2="380.80" stroke="#111" stroke-width="0.9"/>
<line x1="288.74" y1="379.10" x2="288.74" y2="380.80" stroke="#111" stroke-width="0.9"/>
<text x="246.24" y="387.60" font-size="6.3" fill="#222" text-anchor="end" transform="rotate(-50 246.24 387.60)" font-family="Liberation Sans, sans-serif">−10<tspan font-size="3.9" dy="-2.6">3</tspan></text>
<text x="256.64" y="387.60" font-size="6.3" fill="#222" text-anchor="end" transform="rotate(-50 256.64 387.60)" font-family="Liberation Sans, sans-serif">0</text>
<text x="266.24" y="387.60" font-size="6.3" fill="#222" text-anchor="end" transform="rotate(-50 266.24 387.60)" font-family="Liberation Sans, sans-serif">10<tspan font-size="3.9" dy="-2.6">3</tspan></text>
<text x="280.44" y="387.60" font-size="6.3" fill="#222" text-anchor="end" transform="rotate(-50 280.44 387.60)" font-family="Liberation Sans, sans-serif">10<tspan font-size="3.9" dy="-2.6">4</tspan></text>
<text x="293.24" y="387.60" font-size="6.3" fill="#222" text-anchor="end" transform="rotate(-50 293.24 387.60)" font-family="Liberation Sans, sans-serif">10<tspan font-size="3.9" dy="-2.6">5</tspan></text>
<line x1="298.32" y1="379.40" x2="353.82" y2="379.40" stroke="#555" stroke-width="0.8"/>
<line x1="301.72" y1="379.10" x2="301.72" y2="380.80" stroke="#111" stroke-width="0.9"/>
<line x1="310.52" y1="379.10" x2="310.52" y2="380.80" stroke="#111" stroke-width="0.9"/>
<line x1="319.92" y1="379.10" x2="319.92" y2="380.80" stroke="#111" stroke-width="0.9"/>
<line x1="334.02" y1="379.10" x2="334.02" y2="380.80" stroke="#111" stroke-width="0.9"/>
<line x1="346.82" y1="379.10" x2="346.82" y2="380.80" stroke="#111" stroke-width="0.9"/>
<text x="304.32" y="387.60" font-size="6.3" fill="#222" text-anchor="end" transform="rotate(-50 304.32 387.60)" font-family="Liberation Sans, sans-serif">−10<tspan font-size="3.9" dy="-2.6">3</tspan></text>
<text x="314.72" y="387.60" font-size="6.3" fill="#222" text-anchor="end" transform="rotate(-50 314.72 387.60)" font-family="Liberation Sans, sans-serif">0</text>
<text x="324.32" y="387.60" font-size="6.3" fill="#222" text-anchor="end" transform="rotate(-50 324.32 387.60)" font-family="Liberation Sans, sans-serif">10<tspan font-size="3.9" dy="-2.6">3</tspan></text>
<text x="338.52" y="387.60" font-size="6.3" fill="#222" text-anchor="end" transform="rotate(-50 338.52 387.60)" font-family="Liberation Sans, sans-serif">10<tspan font-size="3.9" dy="-2.6">4</tspan></text>
<text x="351.32" y="387.60" font-size="6.3" fill="#222" text-anchor="end" transform="rotate(-50 351.32 387.60)" font-family="Liberation Sans, sans-serif">10<tspan font-size="3.9" dy="-2.6">5</tspan></text>
<line x1="356.40" y1="379.40" x2="411.90" y2="379.40" stroke="#555" stroke-width="0.8"/>
<line x1="359.80" y1="379.10" x2="359.80" y2="380.80" stroke="#111" stroke-width="0.9"/>
<line x1="368.60" y1="379.10" x2="368.60" y2="380.80" stroke="#111" stroke-width="0.9"/>
<line x1="378.00" y1="379.10" x2="378.00" y2="380.80" stroke="#111" stroke-width="0.9"/>
<line x1="392.10" y1="379.10" x2="392.10" y2="380.80" stroke="#111" stroke-width="0.9"/>
<line x1="404.90" y1="379.10" x2="404.90" y2="380.80" stroke="#111" stroke-width="0.9"/>
<text x="362.40" y="387.60" font-size="6.3" fill="#222" text-anchor="end" transform="rotate(-50 362.40 387.60)" font-family="Liberation Sans, sans-serif">−10<tspan font-size="3.9" dy="-2.6">3</tspan></text>
<text x="372.80" y="387.60" font-size="6.3" fill="#222" text-anchor="end" transform="rotate(-50 372.80 387.60)" font-family="Liberation Sans, sans-serif">0</text>
<text x="382.40" y="387.60" font-size="6.3" fill="#222" text-anchor="end" transform="rotate(-50 382.40 387.60)" font-family="Liberation Sans, sans-serif">10<tspan font-size="3.9" dy="-2.6">3</tspan></text>
<text x="396.60" y="387.60" font-size="6.3" fill="#222" text-anchor="end" transform="rotate(-50 396.60 387.60)" font-family="Liberation Sans, sans-serif">10<tspan font-size="3.9" dy="-2.6">4</tspan></text>
<text x="409.40" y="387.60" font-size="6.3" fill="#222" text-anchor="end" transform="rotate(-50 409.40 387.60)" font-family="Liberation Sans, sans-serif">10<tspan font-size="3.9" dy="-2.6">5</tspan></text>
<line x1="39.30" y1="221.50" x2="39.30" y2="366.00" stroke="#111" stroke-width="1.0"/>
<path d="M39.3,217.0 L36.9,222.8 L41.699999999999996,222.8 Z" fill="#111"/>
<text x="41.70" y="374.20" font-size="7.5" fill="#1a1a1a" text-anchor="middle" font-weight="bold" textLength="11.5" lengthAdjust="spacingAndGlyphs" transform="rotate(-90 41.70 374.20)">GFP</text>
<text x="64.30" y="409.30" font-size="8.0" fill="#1a1a1a" font-weight="bold" textLength="17.0" lengthAdjust="spacingAndGlyphs">SSC-A</text>
<line x1="87.70" y1="406.70" x2="407.70" y2="406.70" stroke="#111" stroke-width="1.0"/>
<path d="M411.7,406.7 L405.9,404.3 L405.9,409.09999999999997 Z" fill="#111"/>
<text x="7.30" y="443.50" font-size="12" fill="#111" font-weight="bold" stroke="#111" stroke-width="0.5">C</text>
<text x="151.80" y="452.70" font-size="8.5" fill="#222" text-anchor="middle">Day 20</text>
<line x1="73.80" y1="457.70" x2="229.60" y2="457.70" stroke="#333" stroke-width="0.9"/>
<text x="184.00" y="468.00" font-size="8.5" fill="#222" text-anchor="middle">GVHD</text>
<line x1="136.80" y1="473.30" x2="231.30" y2="473.30" stroke="#333" stroke-width="0.9"/>
<text x="93.80" y="481.40" font-size="8.5" fill="#222" text-anchor="middle">Non-GVHD</text>
<text x="151.80" y="484.00" font-size="8.5" fill="#222" text-anchor="middle">MSC</text>
<text x="209.90" y="484.00" font-size="8.5" fill="#222" text-anchor="middle">Non-MSC</text>
<text x="325.70" y="452.70" font-size="8.5" fill="#222" text-anchor="middle">Day 40</text>
<line x1="250.10" y1="457.70" x2="401.70" y2="457.70" stroke="#333" stroke-width="0.9"/>
<text x="355.00" y="468.00" font-size="8.5" fill="#222" text-anchor="middle">GVHD</text>
<line x1="307.50" y1="473.30" x2="401.70" y2="473.30" stroke="#333" stroke-width="0.9"/>
<text x="268.00" y="481.40" font-size="8.5" fill="#222" text-anchor="middle">Non-GVHD</text>
<text x="326.10" y="484.00" font-size="8.5" fill="#222" text-anchor="middle">MSC</text>
<text x="384.20" y="484.00" font-size="8.5" fill="#222" text-anchor="middle">Non-MSC</text>
<text x="26.00" y="517.80" font-size="8.4" fill="#222" text-anchor="middle" transform="rotate(-90 26.00 517.80)">Blood</text>
<text x="26.00" y="576.40" font-size="8.4" fill="#222" text-anchor="middle" transform="rotate(-90 26.00 576.40)">Spleen</text>
<text x="26.00" y="635.20" font-size="8.4" fill="#222" text-anchor="middle" transform="rotate(-90 26.00 635.20)">Lymph node</text>
<rect x="66.00" y="490.00" width="55.50" height="55.70" fill="#fff" stroke="#b4b4b4" stroke-width="0.9"/>
<svg x="66.00" y="490.00" width="55.50" height="55.70" overflow="hidden">
<ellipse transform="translate(25.50,25.00)" rx="5.72" ry="7.80" fill="url(#g0)" opacity="0.87"/>
<ellipse transform="translate(25.00,41.20)" rx="8.37" ry="4.69" fill="url(#g4)"/>
<ellipse transform="translate(25.00,41.00)" rx="15.60" ry="9.10" fill="url(#g0)" opacity="0.38"/>
<path d="M25.5 21.1h.9M23.9 19.4h.9M26.3 29.6h.9M23.4 27.2h.9M29.4 25.5h.9M26.2 22.9h.9M21.8 25.7h.9M23.2 26.6h.9M25.5 25.7h.9M25.3 24.2h.9M24.7 23.8h.9M25.1 25.1h.9M24.0 24.2h.9M25.5 28.4h.9M25.0 19.2h.9M31.2 23.3h.9M26.1 24.8h.9M27.6 24.5h.9M25.0 24.1h.9M23.4 29.3h.9M18.9 24.8h.9M26.6 29.3h.9" stroke="#000" stroke-opacity="0.25" stroke-width=".9"/>
<path d="M23.4 41.9h.9M26.1 40.2h.9M23.4 43.0h.9M22.9 41.9h.9M21.8 38.8h.9M27.1 40.4h.9M27.3 43.4h.9M26.2 40.2h.9M27.6 40.5h.9M28.0 42.9h.9M26.9 41.9h.9M32.4 37.7h.9M22.8 40.9h.9M18.7 43.6h.9M30.0 39.6h.9M22.0 39.6h.9M22.3 43.4h.9M18.9 38.7h.9M25.4 40.4h.9M25.2 44.1h.9M26.2 37.6h.9M24.6 42.6h.9M29.0 41.9h.9M25.2 42.0h.9M26.2 42.6h.9M25.8 40.1h.9M20.0 40.0h.9M21.5 42.3h.9M19.3 41.3h.9M22.2 41.0h.9M22.3 38.2h.9M28.0 41.2h.9M25.3 43.6h.9M27.3 42.7h.9M26.5 41.5h.9M23.1 42.4h.9M23.6 44.1h.9M23.1 39.4h.9M20.3 39.3h.9M28.7 42.0h.9M27.1 41.1h.9M30.6 41.8h.9M23.6 43.0h.9M26.8 41.7h.9M27.9 40.6h.9M22.4 42.8h.9M25.3 38.7h.9M27.8 42.0h.9M25.4 40.6h.9M28.9 40.4h.9M23.5 40.1h.9M26.8 43.3h.9M25.2 41.3h.9M23.8 44.1h.9M23.9 42.7h.9M18.8 41.6h.9M24.4 40.9h.9M28.1 40.9h.9M26.6 39.0h.9M27.1 41.7h.9M25.5 43.0h.9M26.6 42.2h.9M25.7 44.6h.9" stroke="#000" stroke-opacity="0.4" stroke-width=".9"/>
<path d="M32.1 41.6h.9M24.2 40.1h.9M21.9 35.0h.9M33.5 41.4h.9M17.4 40.3h.9M30.6 38.4h.9M19.4 39.1h.9M15.1 40.5h.9M18.6 41.0h.9M27.9 42.3h.9M32.4 39.7h.9M26.9 43.8h.9M30.9 43.6h.9M35.6 43.0h.9M27.2 44.0h.9M13.6 40.9h.9M34.0 34.5h.9M19.7 44.3h.9" stroke="#000" stroke-opacity="0.3" stroke-width=".9"/>
</svg>
<rect x="82.50" y="508.30" width="15.80" height="17.10" fill="none" stroke="#2a2a2a" stroke-width="0.9"/>
<text x="100.80" y="521.80" font-size="6.1" fill="#222">4.47</text>
<rect x="124.08" y="490.00" width="55.50" height="55.70" fill="#fff" stroke="#b4b4b4" stroke-width="0.9"/>
<svg x="124.08" y="490.00" width="55.50" height="55.70" overflow="hidden">
<ellipse transform="translate(23.42,25.00)" rx="6.50" ry="7.80" fill="url(#g1)"/>
<ellipse transform="translate(25.22,41.80)" rx="7.65" ry="4.45" fill="url(#g4)"/>
<ellipse transform="translate(24.92,41.50)" rx="13.00" ry="7.80" fill="url(#g0)" opacity="0.31"/>
<path d="M24.9 24.1h.9M22.6 24.6h.9M22.0 23.7h.9M26.6 26.6h.9M24.0 24.2h.9M27.0 28.2h.9M26.2 21.0h.9M23.3 24.8h.9M26.3 22.8h.9M24.8 25.1h.9M23.4 27.7h.9M21.2 23.2h.9M23.3 27.1h.9M24.1 29.3h.9M19.0 23.0h.9M24.4 26.4h.9M23.7 22.6h.9M24.4 26.1h.9M24.1 28.1h.9M23.9 25.5h.9M25.6 28.9h.9M21.6 23.3h.9M22.7 25.3h.9M26.3 18.9h.9M23.9 26.6h.9M23.7 22.2h.9M25.4 30.2h.9M20.2 26.0h.9M25.0 21.7h.9M23.4 21.1h.9M27.6 22.6h.9M23.2 22.8h.9M21.2 20.5h.9M23.4 22.3h.9M22.4 20.6h.9M28.2 27.6h.9M24.8 22.4h.9M22.9 20.0h.9M24.8 25.9h.9M23.5 24.5h.9M23.9 23.6h.9M25.7 25.9h.9M21.3 28.3h.9M26.9 24.2h.9M23.4 24.8h.9" stroke="#000" stroke-opacity="0.25" stroke-width=".9"/>
<path d="M26.9 39.3h.9M18.1 43.4h.9M25.6 43.8h.9M27.4 40.4h.9M22.4 42.6h.9M23.9 39.0h.9M22.4 43.3h.9M25.0 41.0h.9M26.6 41.0h.9M20.9 42.2h.9M28.1 43.3h.9M21.2 44.1h.9M27.2 40.6h.9M24.6 40.1h.9M24.3 45.1h.9M17.3 47.6h.9M29.6 45.1h.9M27.0 40.9h.9M23.5 40.4h.9M33.0 43.0h.9M26.3 42.1h.9M28.6 39.3h.9M22.2 42.4h.9M26.1 41.0h.9M20.5 42.6h.9M29.5 42.3h.9M23.5 43.1h.9M30.1 42.1h.9M23.2 40.6h.9M25.3 43.3h.9M23.4 41.5h.9M25.8 38.9h.9M26.5 41.3h.9M21.2 40.6h.9M21.2 38.9h.9M27.8 40.4h.9M26.9 38.6h.9M27.1 41.2h.9M29.3 39.6h.9M23.3 41.8h.9M17.3 43.9h.9M29.7 40.2h.9M21.4 41.0h.9M25.3 41.8h.9M23.3 42.8h.9M20.0 43.3h.9M21.5 43.5h.9M19.8 41.3h.9M22.9 45.4h.9M23.4 42.9h.9M24.6 42.5h.9M30.6 43.2h.9M23.1 37.7h.9M26.2 41.5h.9" stroke="#000" stroke-opacity="0.4" stroke-width=".9"/>
<path d="M33.3 45.2h.9M20.0 42.6h.9M23.8 41.0h.9M23.3 43.8h.9M30.4 42.6h.9M25.7 38.1h.9M21.8 41.1h.9M20.7 42.2h.9M31.2 36.3h.9M16.9 41.2h.9M19.9 42.4h.9M29.9 39.4h.9M22.4 42.6h.9" stroke="#000" stroke-opacity="0.3" stroke-width=".9"/>
</svg>
<rect x="140.58" y="508.30" width="15.80" height="17.10" fill="none" stroke="#2a2a2a" stroke-width="0.9"/>
<text x="158.88" y="521.80" font-size="6.1" fill="#222">7.76</text>
<rect x="182.16" y="490.00" width="55.50" height="55.70" fill="#fff" stroke="#b4b4b4" stroke-width="0.9"/>
<svg x="182.16" y="490.00" width="55.50" height="55.70" overflow="hidden">
<ellipse transform="translate(22.84,25.50)" rx="6.50" ry="9.10" fill="url(#g1)"/>
<ellipse transform="translate(24.84,41.50)" rx="6.70" ry="4.94" fill="url(#g4)"/>
<ellipse transform="translate(24.84,41.00)" rx="13.00" ry="9.10" fill="url(#g0)" opacity="0.50"/>
<path d="M20.1 24.3h.9M21.5 30.7h.9M21.6 28.7h.9M23.3 22.9h.9M24.9 26.3h.9M26.3 26.6h.9M21.1 20.3h.9M16.2 25.5h.9M22.2 20.7h.9M22.3 21.6h.9M24.7 23.9h.9M25.4 23.4h.9M23.9 21.4h.9M16.4 20.5h.9M19.0 16.2h.9M26.0 23.6h.9M21.5 22.2h.9M23.3 23.0h.9M22.7 26.9h.9M20.2 26.9h.9M24.6 23.8h.9M22.1 28.5h.9M21.6 22.3h.9M20.1 23.1h.9M22.6 23.9h.9M23.4 30.5h.9M22.9 29.7h.9M26.9 24.4h.9M23.5 25.0h.9M24.7 27.2h.9M19.7 22.2h.9M17.4 29.8h.9M22.6 24.5h.9M20.8 23.8h.9M21.9 23.8h.9M24.0 23.4h.9M17.4 21.8h.9M25.0 22.7h.9M19.6 21.6h.9M24.4 23.8h.9M21.1 23.8h.9M22.9 20.6h.9M20.5 16.7h.9M24.3 24.1h.9M25.8 19.3h.9M22.1 26.3h.9M24.5 26.7h.9M19.1 26.5h.9M26.7 28.6h.9M19.4 29.8h.9M26.6 21.8h.9M28.6 25.0h.9M24.8 27.7h.9M27.2 23.3h.9" stroke="#000" stroke-opacity="0.25" stroke-width=".9"/>
<path d="M21.7 41.7h.9M24.3 40.0h.9M24.4 41.0h.9M18.5 40.7h.9M25.6 39.5h.9M23.6 39.9h.9M24.1 42.7h.9M25.1 38.6h.9M22.6 41.5h.9M27.6 43.6h.9M28.3 44.0h.9M25.5 45.4h.9M22.0 42.4h.9M22.0 44.0h.9M23.1 40.8h.9M25.5 42.3h.9M27.0 43.8h.9M18.9 40.1h.9M26.5 40.2h.9M21.3 43.7h.9M24.8 41.8h.9M24.1 43.4h.9M23.2 41.9h.9M23.7 38.4h.9M20.9 41.0h.9M27.9 45.1h.9M26.5 44.8h.9M23.4 39.1h.9M29.3 42.1h.9M22.9 41.6h.9M23.7 43.3h.9M23.4 42.4h.9M26.1 40.6h.9M25.1 42.5h.9M27.4 42.8h.9M25.0 40.6h.9M23.0 43.8h.9M24.6 40.0h.9M27.6 37.9h.9M26.2 39.5h.9M23.6 43.2h.9M24.1 41.9h.9M23.6 41.3h.9M25.9 41.4h.9M21.1 44.4h.9M21.9 42.1h.9M26.9 43.3h.9M22.4 43.9h.9M24.9 47.1h.9M23.8 43.9h.9M25.4 44.5h.9M24.7 41.4h.9M25.0 41.2h.9M26.3 44.1h.9M22.6 41.7h.9M26.6 42.3h.9M28.1 41.8h.9M30.5 40.9h.9M25.0 42.9h.9M22.9 40.0h.9M26.1 43.1h.9M29.4 40.8h.9M28.5 41.7h.9" stroke="#000" stroke-opacity="0.4" stroke-width=".9"/>
<path d="M20.2 39.3h.9M26.6 45.2h.9M27.2 43.0h.9M23.4 42.9h.9M24.1 43.0h.9M25.1 41.9h.9M15.8 45.0h.9M29.4 40.6h.9M30.8 38.3h.9M30.1 39.7h.9M21.6 39.4h.9M30.3 44.4h.9M24.5 40.8h.9M28.8 34.8h.9M20.7 36.6h.9M24.3 43.3h.9M26.6 39.4h.9M20.9 44.7h.9M19.6 44.6h.9M31.5 38.1h.9M30.7 40.5h.9M18.6 36.8h.9" stroke="#000" stroke-opacity="0.3" stroke-width=".9"/>
</svg>
<rect x="198.66" y="508.30" width="15.80" height="17.10" fill="none" stroke="#2a2a2a" stroke-width="0.9"/>
<text x="216.96" y="521.80" font-size="6.1" fill="#222">18.7</text>
<rect x="240.24" y="490.00" width="55.50" height="55.70" fill="#fff" stroke="#b4b4b4" stroke-width="0.9"/>
<svg x="240.24" y="490.00" width="55.50" height="55.70" overflow="hidden">
<ellipse transform="translate(23.76,25.00)" rx="5.72" ry="7.80" fill="url(#g0)" opacity="0.50"/>
<ellipse transform="translate(23.76,42.00)" rx="8.13" ry="5.93" fill="url(#g5)"/>
<path d="M27.4 25.1h.9M22.9 20.9h.9M25.3 28.0h.9M25.5 28.5h.9M21.7 25.8h.9M25.0 21.2h.9M21.5 17.2h.9M21.0 27.5h.9M24.4 24.4h.9M22.4 24.1h.9M20.7 23.8h.9M23.2 25.7h.9M24.0 22.3h.9" stroke="#000" stroke-opacity="0.25" stroke-width=".9"/>
<path d="M25.8 41.0h.9M20.8 43.2h.9M23.3 40.9h.9M22.2 39.0h.9M25.8 43.5h.9M27.7 41.7h.9M28.0 47.7h.9M28.3 38.0h.9M24.9 45.7h.9M21.8 44.0h.9M26.9 39.8h.9M26.0 41.4h.9M21.4 44.8h.9M23.8 39.5h.9M18.8 43.1h.9M26.4 41.6h.9M24.3 41.3h.9M24.5 41.0h.9M21.3 41.0h.9M25.7 41.3h.9M26.0 42.0h.9M21.5 43.9h.9M23.0 40.1h.9M22.5 44.9h.9M27.9 43.7h.9M23.8 49.4h.9M21.6 41.9h.9M26.7 37.5h.9M18.3 42.6h.9M22.8 40.7h.9M20.4 40.3h.9M24.6 42.5h.9M22.6 37.0h.9M27.7 40.5h.9M27.7 45.7h.9M22.0 43.5h.9M18.7 41.3h.9M26.5 37.7h.9M24.5 43.8h.9M27.7 45.2h.9M21.5 41.9h.9M20.6 40.5h.9M22.4 39.8h.9M22.1 39.3h.9M26.5 41.1h.9M27.5 43.7h.9M21.7 42.7h.9M22.1 40.1h.9M24.8 42.3h.9M24.9 45.7h.9M25.7 43.2h.9M23.6 40.5h.9M22.0 39.7h.9M28.4 42.6h.9" stroke="#000" stroke-opacity="0.4" stroke-width=".9"/>
</svg>
<rect x="256.74" y="508.30" width="15.80" height="17.10" fill="none" stroke="#2a2a2a" stroke-width="0.9"/>
<text x="275.04" y="521.80" font-size="6.1" fill="#222">1.54</text>
<rect x="298.32" y="490.00" width="55.50" height="55.70" fill="#fff" stroke="#b4b4b4" stroke-width="0.9"/>
<svg x="298.32" y="490.00" width="55.50" height="55.70" overflow="hidden">
<ellipse transform="translate(24.68,25.00)" rx="5.72" ry="7.80" fill="url(#g0)" opacity="0.50"/>
<ellipse transform="translate(24.68,42.50)" rx="6.70" ry="5.93" fill="url(#g5)"/>
<path d="M20.5 20.3h.9M27.9 22.3h.9M22.7 22.2h.9M25.1 27.5h.9M25.0 24.2h.9M27.1 29.5h.9M26.5 27.9h.9M27.4 25.3h.9M25.8 23.2h.9M25.2 22.7h.9M23.8 28.1h.9M27.3 28.4h.9M27.8 27.5h.9" stroke="#000" stroke-opacity="0.25" stroke-width=".9"/>
<path d="M18.9 43.3h.9M24.2 38.7h.9M20.1 43.6h.9M21.3 38.7h.9M22.2 42.4h.9M28.3 39.5h.9M23.6 44.5h.9M22.6 46.1h.9M22.5 41.8h.9M26.8 42.2h.9M22.0 41.5h.9M26.1 42.7h.9M23.1 43.0h.9M27.5 43.8h.9M25.6 44.7h.9M29.6 43.8h.9M23.7 40.0h.9M24.8 42.1h.9M19.5 45.5h.9M24.8 45.4h.9M19.8 43.5h.9M23.2 47.3h.9M23.7 43.5h.9M24.4 49.1h.9M20.5 39.6h.9M27.4 42.3h.9M26.5 44.5h.9M24.5 46.1h.9M25.2 40.6h.9M27.3 43.1h.9M27.6 41.9h.9M23.5 40.4h.9M23.2 40.5h.9M24.7 39.9h.9M20.1 45.2h.9M22.5 39.2h.9M26.1 42.1h.9M26.0 42.0h.9M19.0 43.0h.9M23.3 41.5h.9M27.9 45.2h.9M24.0 41.4h.9M24.5 46.3h.9M23.0 48.8h.9M18.9 43.6h.9M24.2 43.8h.9M27.3 40.9h.9M23.6 41.7h.9M29.1 42.0h.9M24.1 45.0h.9M22.5 46.7h.9M23.7 43.7h.9M27.2 40.0h.9M20.2 44.1h.9" stroke="#000" stroke-opacity="0.4" stroke-width=".9"/>
</svg>
<rect x="314.82" y="508.30" width="15.80" height="17.10" fill="none" stroke="#2a2a2a" stroke-width="0.9"/>
<text x="333.12" y="521.80" font-size="6.1" fill="#222">1.29</text>
<rect x="356.40" y="490.00" width="55.50" height="55.70" fill="#fff" stroke="#b4b4b4" stroke-width="0.9"/>
<svg x="356.40" y="490.00" width="55.50" height="55.70" overflow="hidden">
<ellipse transform="translate(25.40,24.00)" rx="5.72" ry="7.80" fill="url(#g0)"/>
<ellipse transform="translate(24.60,42.00)" rx="5.98" ry="5.46" fill="url(#g3)"/>
<ellipse transform="translate(24.60,42.00)" rx="10.40" ry="7.80" fill="url(#g0)" opacity="0.38"/>
<path d="M27.7 27.3h.9M25.7 26.6h.9M26.2 27.4h.9M27.7 27.1h.9M27.6 19.4h.9M31.4 19.9h.9M26.0 24.9h.9M25.4 20.5h.9M25.0 24.4h.9M26.9 24.9h.9M27.0 18.9h.9M24.0 22.9h.9M27.8 20.1h.9M25.0 22.7h.9M25.8 23.6h.9M25.8 21.9h.9M27.3 23.1h.9M24.7 24.8h.9M26.0 25.3h.9M26.4 21.1h.9M23.9 28.4h.9M26.6 23.8h.9M24.2 18.6h.9M29.1 24.8h.9M29.6 19.0h.9M25.0 25.8h.9M22.6 25.4h.9M27.1 21.2h.9M24.0 26.8h.9M24.4 20.8h.9M26.0 29.0h.9" stroke="#000" stroke-opacity="0.25" stroke-width=".9"/>
<path d="M27.6 45.6h.9M24.7 44.7h.9M28.1 41.9h.9M21.9 39.5h.9M18.4 44.6h.9M25.7 43.1h.9M25.1 37.2h.9M25.6 40.9h.9M24.3 40.2h.9M26.6 45.4h.9M25.8 38.1h.9M25.9 43.5h.9M27.6 45.0h.9M25.6 39.3h.9M25.4 44.1h.9M26.9 39.5h.9M31.2 42.5h.9M27.0 40.8h.9M25.0 40.1h.9M24.8 42.6h.9M21.3 47.0h.9M23.8 41.2h.9M26.5 42.6h.9M25.0 43.9h.9M26.6 41.6h.9M22.1 43.4h.9M24.6 43.8h.9M26.3 45.2h.9M20.4 41.5h.9M27.6 39.3h.9M26.8 44.7h.9M21.8 41.0h.9M22.9 40.2h.9M25.7 39.8h.9M21.8 38.8h.9M27.1 40.6h.9M25.5 41.0h.9M24.3 41.9h.9M24.1 42.5h.9M27.9 43.7h.9M25.4 40.4h.9M25.0 37.2h.9M22.9 40.8h.9M24.1 43.5h.9M26.7 44.8h.9M20.7 43.2h.9M26.7 39.5h.9M26.4 42.4h.9M23.0 45.8h.9M23.6 44.5h.9M22.5 41.5h.9M27.8 38.2h.9M19.2 41.9h.9M26.5 43.3h.9" stroke="#000" stroke-opacity="0.4" stroke-width=".9"/>
<path d="M20.1 48.0h.9M17.0 44.6h.9M30.9 41.6h.9M27.3 44.6h.9M24.9 45.2h.9M28.5 43.1h.9M19.3 39.8h.9M18.3 47.2h.9M28.0 41.1h.9M26.1 40.0h.9M18.7 44.9h.9M19.6 39.8h.9M27.7 41.3h.9" stroke="#000" stroke-opacity="0.3" stroke-width=".9"/>
</svg>
<rect x="372.90" y="508.30" width="15.80" height="17.10" fill="none" stroke="#2a2a2a" stroke-width="0.9"/>
<text x="391.20" y="521.80" font-size="6.1" fill="#222">8.16</text>
<line x1="66.00" y1="490.00" x2="66.00" y2="545.70" stroke="#888" stroke-width="0.8"/>
<line x1="64.40" y1="496.80" x2="66.30" y2="496.80" stroke="#111" stroke-width="0.9"/>
<line x1="65.10" y1="500.15" x2="66.20" y2="500.15" stroke="#333" stroke-width="0.6"/>
<line x1="65.10" y1="503.50" x2="66.20" y2="503.50" stroke="#333" stroke-width="0.6"/>
<line x1="65.10" y1="506.85" x2="66.20" y2="506.85" stroke="#333" stroke-width="0.6"/>
<line x1="64.40" y1="510.20" x2="66.30" y2="510.20" stroke="#111" stroke-width="0.9"/>
<line x1="65.10" y1="513.67" x2="66.20" y2="513.67" stroke="#333" stroke-width="0.6"/>
<line x1="65.10" y1="517.15" x2="66.20" y2="517.15" stroke="#333" stroke-width="0.6"/>
<line x1="65.10" y1="520.62" x2="66.20" y2="520.62" stroke="#333" stroke-width="0.6"/>
<line x1="64.40" y1="524.10" x2="66.30" y2="524.10" stroke="#111" stroke-width="0.9"/>
<line x1="65.10" y1="526.35" x2="66.20" y2="526.35" stroke="#333" stroke-width="0.6"/>
<line x1="65.10" y1="528.60" x2="66.20" y2="528.60" stroke="#333" stroke-width="0.6"/>
<line x1="65.10" y1="530.85" x2="66.20" y2="530.85" stroke="#333" stroke-width="0.6"/>
<line x1="64.40" y1="533.10" x2="66.30" y2="533.10" stroke="#111" stroke-width="0.9"/>
<line x1="65.10" y1="535.77" x2="66.20" y2="535.77" stroke="#333" stroke-width="0.6"/>
<line x1="65.10" y1="538.45" x2="66.20" y2="538.45" stroke="#333" stroke-width="0.6"/>
<line x1="65.10" y1="541.12" x2="66.20" y2="541.12" stroke="#333" stroke-width="0.6"/>
<line x1="64.40" y1="543.80" x2="66.30" y2="543.80" stroke="#111" stroke-width="0.9"/>
<text x="61.20" y="499.10" font-size="6.4" fill="#222" text-anchor="end" font-family="Liberation Sans, sans-serif">10<tspan font-size="4.48" dy="-2.56">5</tspan></text>
<text x="61.20" y="512.50" font-size="6.4" fill="#222" text-anchor="end" font-family="Liberation Sans, sans-serif">10<tspan font-size="4.48" dy="-2.56">4</tspan></text>
<text x="61.20" y="526.40" font-size="6.4" fill="#222" text-anchor="end" font-family="Liberation Sans, sans-serif">10<tspan font-size="4.48" dy="-2.56">3</tspan></text>
<text x="58.50" y="535.40" font-size="6.4" fill="#222" text-anchor="end">0</text>
<text x="61.20" y="546.10" font-size="6.4" fill="#222" text-anchor="end" font-family="Liberation Sans, sans-serif">−10<tspan font-size="4.48" dy="-2.56">3</tspan></text>
<rect x="66.00" y="548.70" width="55.50" height="55.70" fill="#fff" stroke="#b4b4b4" stroke-width="0.9"/>
<svg x="66.00" y="548.70" width="55.50" height="55.70" overflow="hidden">
<ellipse transform="translate(25.00,22.70)" rx="5.72" ry="7.80" fill="url(#g0)" opacity="0.50"/>
<ellipse transform="translate(25.50,41.80)" rx="7.89" ry="5.68" fill="url(#g4)"/>
<ellipse transform="translate(32.50,37.80)" rx="4.68" ry="3.12" fill="url(#g1)"/>
<ellipse transform="translate(25.00,41.30)" rx="14.30" ry="9.10" fill="url(#g0)" opacity="0.38"/>
<path d="M24.0 22.8h.9M24.9 24.4h.9M28.6 24.0h.9M24.3 24.2h.9M24.0 26.0h.9M27.0 25.4h.9M28.2 23.2h.9M22.0 18.8h.9M22.9 27.9h.9M21.8 20.5h.9M21.9 26.6h.9M25.1 15.6h.9M32.3 39.0h.9M33.7 38.5h.9M34.9 39.7h.9M31.0 37.5h.9M29.7 36.4h.9M32.5 38.5h.9M33.2 36.1h.9M33.3 36.4h.9M33.0 36.6h.9M31.7 36.7h.9M34.3 37.4h.9M31.5 37.9h.9M32.7 36.9h.9M32.4 37.9h.9M36.3 36.0h.9M31.2 37.6h.9M30.4 37.7h.9M33.0 38.3h.9" stroke="#000" stroke-opacity="0.25" stroke-width=".9"/>
<path d="M25.0 43.2h.9M29.6 42.5h.9M24.6 39.6h.9M25.5 40.3h.9M27.5 39.3h.9M20.7 41.9h.9M26.8 43.0h.9M26.1 38.1h.9M30.4 41.2h.9M28.1 42.0h.9M23.9 42.7h.9M22.3 43.3h.9M26.0 44.2h.9M25.1 40.7h.9M28.0 40.0h.9M26.6 36.9h.9M29.7 38.3h.9M30.3 40.8h.9M28.8 43.4h.9M19.8 41.7h.9M27.1 45.2h.9M32.0 45.0h.9M31.1 40.4h.9M33.2 45.1h.9M25.0 40.3h.9M22.8 45.1h.9M22.3 41.4h.9M29.8 42.2h.9M21.5 43.9h.9M24.4 41.6h.9M26.1 40.0h.9M24.5 38.6h.9M25.4 41.7h.9M27.8 41.2h.9M26.7 40.2h.9M27.5 42.4h.9M25.9 37.3h.9M33.1 43.0h.9M20.0 39.4h.9M22.1 44.5h.9M24.5 43.0h.9M23.4 40.4h.9M27.6 42.7h.9M24.2 41.1h.9M29.1 45.2h.9M24.8 42.0h.9M25.7 41.9h.9M23.7 35.6h.9M28.8 43.5h.9M27.3 38.5h.9M22.9 38.8h.9M30.7 46.5h.9M24.1 42.0h.9M25.9 45.8h.9M22.6 42.1h.9M23.6 44.6h.9M25.4 41.2h.9M25.8 39.7h.9M26.6 39.9h.9M23.1 43.0h.9M26.8 43.2h.9M22.4 43.2h.9M30.5 39.2h.9" stroke="#000" stroke-opacity="0.4" stroke-width=".9"/>
<path d="M26.2 44.1h.9M32.8 33.4h.9M20.5 44.7h.9M18.4 38.9h.9M20.1 42.6h.9M21.9 39.8h.9M29.3 41.7h.9M27.6 38.9h.9M24.1 40.5h.9M31.9 39.4h.9M15.7 43.0h.9M28.2 36.9h.9M27.0 49.2h.9M16.6 38.2h.9M28.5 44.1h.9M35.1 39.3h.9M21.8 41.4h.9M24.3 43.6h.9" stroke="#000" stroke-opacity="0.3" stroke-width=".9"/>
</svg>
<rect x="82.50" y="565.40" width="15.80" height="17.70" fill="none" stroke="#2a2a2a" stroke-width="0.9"/>
<text x="100.80" y="580.50" font-size="6.1" fill="#222">2.84</text>
<rect x="124.08" y="548.70" width="55.50" height="55.70" fill="#fff" stroke="#b4b4b4" stroke-width="0.9"/>
<svg x="124.08" y="548.70" width="55.50" height="55.70" overflow="hidden">
<ellipse transform="translate(24.52,24.30)" rx="5.72" ry="7.80" fill="url(#g0)" opacity="0.50"/>
<ellipse transform="translate(25.52,41.30)" rx="6.22" ry="7.41" fill="url(#g5)"/>
<ellipse transform="translate(25.52,41.30)" rx="10.40" ry="10.40" fill="url(#g0)" opacity="0.38"/>
<path d="M26.6 26.9h.9M26.6 17.4h.9M25.9 30.6h.9M22.6 23.7h.9M27.3 27.0h.9M24.9 26.7h.9M25.5 26.7h.9M24.3 30.1h.9M23.5 20.2h.9M21.7 20.7h.9M19.6 28.1h.9M23.8 26.9h.9M24.0 26.5h.9M26.6 27.6h.9" stroke="#000" stroke-opacity="0.25" stroke-width=".9"/>
<path d="M26.9 46.9h.9M24.9 46.4h.9M28.5 41.1h.9M26.4 44.2h.9M24.1 42.1h.9M27.4 42.8h.9M27.3 39.8h.9M26.3 40.8h.9M23.4 39.2h.9M24.1 39.4h.9M23.2 45.3h.9M24.7 38.7h.9M23.5 43.1h.9M27.1 38.1h.9M26.5 44.4h.9M28.2 46.8h.9M24.3 41.7h.9M29.0 42.3h.9M24.9 38.5h.9M26.5 39.6h.9M25.9 40.5h.9M26.2 43.2h.9M25.8 43.4h.9M27.6 42.1h.9M21.5 34.0h.9M21.3 39.8h.9M24.0 36.8h.9M25.3 41.0h.9M26.5 40.3h.9M23.4 40.2h.9M26.1 39.8h.9M25.2 43.6h.9M27.3 43.1h.9M26.9 40.5h.9M23.1 40.3h.9M25.9 48.2h.9M28.8 45.4h.9M25.3 44.9h.9M25.3 41.3h.9M29.6 42.8h.9M24.4 40.8h.9M26.5 41.2h.9M22.2 42.4h.9M28.0 39.1h.9M25.5 39.1h.9M25.5 41.0h.9M19.6 39.9h.9M27.7 42.9h.9M23.5 37.7h.9M23.4 41.7h.9M23.3 41.3h.9M22.7 41.9h.9M23.3 35.9h.9M28.0 42.8h.9" stroke="#000" stroke-opacity="0.4" stroke-width=".9"/>
<path d="M26.7 40.5h.9M22.9 41.8h.9M27.4 42.4h.9M19.4 42.4h.9M29.6 39.1h.9M29.2 38.4h.9M26.3 44.5h.9M24.6 44.7h.9M20.2 39.6h.9M26.7 35.9h.9M20.6 39.6h.9M22.2 42.1h.9M29.9 41.9h.9" stroke="#000" stroke-opacity="0.3" stroke-width=".9"/>
</svg>
<rect x="140.58" y="565.40" width="15.80" height="17.70" fill="none" stroke="#2a2a2a" stroke-width="0.9"/>
<text x="158.88" y="580.50" font-size="6.1" fill="#222">4.19</text>
<rect x="182.16" y="548.70" width="55.50" height="55.70" fill="#fff" stroke="#b4b4b4" stroke-width="0.9"/>
<svg x="182.16" y="548.70" width="55.50" height="55.70" overflow="hidden">
<ellipse transform="translate(24.34,27.30)" rx="4.16" ry="9.10" fill="url(#g2)"/>
<ellipse transform="translate(25.04,40.80)" rx="5.74" ry="6.42" fill="url(#g4)"/>
<ellipse transform="translate(24.84,40.30)" rx="10.40" ry="10.40" fill="url(#g0)" opacity="0.38"/>
<path d="M22.5 28.3h.9M24.4 31.2h.9M23.7 29.0h.9M23.8 24.7h.9M23.6 21.6h.9M25.2 26.3h.9M25.8 17.8h.9M24.6 30.2h.9M26.1 28.1h.9M22.3 28.3h.9M23.7 25.2h.9M23.8 21.6h.9M24.6 27.0h.9M24.0 31.4h.9M23.9 32.0h.9M25.2 26.1h.9M23.2 32.7h.9M24.2 26.7h.9M25.9 26.1h.9M25.3 30.6h.9M24.5 25.0h.9M23.7 18.8h.9M22.2 31.9h.9M25.4 26.5h.9M24.9 19.2h.9M25.0 27.6h.9M24.1 27.6h.9M24.0 17.3h.9M24.2 26.9h.9M26.9 25.4h.9M23.7 26.7h.9M24.8 23.4h.9M25.1 28.2h.9M25.8 26.0h.9M23.9 30.3h.9M24.1 27.9h.9M24.5 25.3h.9M24.8 30.0h.9M22.3 25.7h.9M26.8 26.0h.9M21.3 25.3h.9M23.7 26.7h.9M20.4 29.1h.9M22.7 31.0h.9M26.6 32.2h.9M25.2 36.8h.9M24.4 42.3h.9M25.8 46.5h.9M24.4 41.6h.9M26.2 36.1h.9M23.3 38.5h.9M25.0 41.4h.9M26.0 39.8h.9M24.3 44.0h.9M29.5 40.4h.9M23.7 43.2h.9M24.6 42.4h.9M18.5 38.0h.9M28.5 41.3h.9M21.2 43.1h.9M27.2 40.5h.9M26.8 43.0h.9M23.6 42.1h.9M23.9 42.2h.9M25.7 37.2h.9M20.2 43.0h.9M26.8 39.3h.9M21.1 41.1h.9M23.4 41.3h.9M22.2 43.5h.9M23.9 38.9h.9M24.2 40.6h.9M22.7 40.6h.9M22.1 41.0h.9M26.5 39.4h.9M25.0 39.5h.9M28.2 40.6h.9M29.7 42.7h.9M24.7 38.7h.9M26.6 41.7h.9M25.8 39.7h.9M30.3 38.5h.9M23.2 45.8h.9M24.0 44.4h.9M24.4 44.2h.9M25.8 39.5h.9M20.4 37.1h.9M22.8 47.0h.9M26.2 37.3h.9M25.0 44.8h.9M21.5 43.9h.9M23.5 36.1h.9M28.3 38.0h.9M25.7 39.2h.9M21.6 42.8h.9M23.2 39.0h.9M29.3 40.4h.9M22.2 38.9h.9M24.6 41.0h.9" stroke="#000" stroke-opacity="0.4" stroke-width=".9"/>
<path d="M17.3 42.5h.9M25.8 41.1h.9M22.5 42.4h.9M22.9 31.3h.9M29.2 41.9h.9M27.8 47.9h.9M21.6 43.0h.9M22.6 40.9h.9M18.0 42.8h.9M23.8 40.2h.9M30.5 38.5h.9M20.8 42.6h.9M20.8 38.6h.9" stroke="#000" stroke-opacity="0.3" stroke-width=".9"/>
</svg>
<rect x="198.66" y="565.40" width="15.80" height="17.70" fill="none" stroke="#2a2a2a" stroke-width="0.9"/>
<text x="216.96" y="580.50" font-size="6.1" fill="#222">14.8</text>
<rect x="240.24" y="548.70" width="55.50" height="55.70" fill="#fff" stroke="#b4b4b4" stroke-width="0.9"/>
<svg x="240.24" y="548.70" width="55.50" height="55.70" overflow="hidden">
<ellipse transform="translate(23.16,24.30)" rx="5.72" ry="7.80" fill="url(#g0)" opacity="0.87"/>
<ellipse transform="translate(24.76,41.80)" rx="7.89" ry="5.43" fill="url(#g5)"/>
<path d="M22.3 22.2h.9M27.4 26.1h.9M22.5 21.8h.9M25.1 23.5h.9M23.0 22.6h.9M23.8 21.6h.9M24.5 22.1h.9M24.4 30.3h.9M26.6 22.7h.9M22.4 27.1h.9M25.8 21.7h.9M22.2 27.8h.9M22.3 23.4h.9M25.4 23.0h.9M21.4 22.6h.9M19.0 23.9h.9M25.9 24.3h.9M24.3 26.4h.9M21.2 19.3h.9M26.9 26.2h.9M19.7 21.3h.9M24.2 27.6h.9" stroke="#000" stroke-opacity="0.25" stroke-width=".9"/>
<path d="M28.9 44.0h.9M22.8 41.1h.9M24.3 46.2h.9M26.1 40.7h.9M22.0 42.1h.9M22.9 42.9h.9M22.5 43.0h.9M23.4 40.3h.9M24.0 41.3h.9M26.9 40.5h.9M21.8 38.6h.9M25.1 36.7h.9M28.8 43.7h.9M26.0 40.6h.9M27.3 40.8h.9M25.0 39.4h.9M19.6 42.8h.9M27.8 38.9h.9M24.3 41.3h.9M19.2 43.8h.9M22.0 40.2h.9M20.2 46.7h.9M24.3 41.2h.9M24.6 40.4h.9M25.6 39.0h.9M25.9 41.9h.9M24.9 38.6h.9M23.9 38.0h.9M24.7 47.4h.9M27.6 40.6h.9M23.8 40.5h.9M22.8 45.1h.9M24.1 43.8h.9M24.7 39.3h.9M26.2 43.1h.9M19.0 39.2h.9M25.8 43.5h.9M24.6 39.7h.9M26.6 41.7h.9M25.7 41.5h.9M25.8 41.7h.9M21.8 44.0h.9M24.8 40.0h.9M22.3 41.0h.9M19.8 43.9h.9M28.4 42.0h.9M31.3 37.9h.9M25.6 41.9h.9M31.9 42.6h.9M21.4 39.3h.9M25.1 38.5h.9M26.4 39.5h.9M20.4 39.6h.9M23.2 44.6h.9" stroke="#000" stroke-opacity="0.4" stroke-width=".9"/>
</svg>
<rect x="256.74" y="566.30" width="15.80" height="17.60" fill="none" stroke="#2a2a2a" stroke-width="0.9"/>
<text x="275.04" y="580.50" font-size="6.1" fill="#222">2.64</text>
<rect x="298.32" y="548.70" width="55.50" height="55.70" fill="#fff" stroke="#b4b4b4" stroke-width="0.9"/>
<svg x="298.32" y="548.70" width="55.50" height="55.70" overflow="hidden">
<ellipse transform="translate(24.68,24.30)" rx="5.72" ry="7.80" fill="url(#g0)" opacity="0.25"/>
<ellipse transform="translate(24.68,41.30)" rx="7.28" ry="7.02" fill="url(#g2)"/>
<ellipse transform="translate(24.68,41.30)" rx="11.70" ry="10.40" fill="url(#g0)" opacity="0.38"/>
<path d="M23.5 25.1h.9M29.3 26.2h.9M25.6 27.4h.9M27.4 24.5h.9M29.2 22.2h.9M27.1 28.8h.9M24.1 27.2h.9" stroke="#000" stroke-opacity="0.25" stroke-width=".9"/>
<path d="M21.0 42.6h.9M28.0 41.8h.9M26.4 42.9h.9M25.5 42.8h.9M22.5 43.7h.9M22.4 43.3h.9M27.7 40.2h.9M30.5 36.6h.9M25.1 43.0h.9M28.0 41.9h.9M25.6 40.3h.9M21.0 37.0h.9M24.0 38.9h.9M24.7 39.3h.9M25.3 43.5h.9M27.9 37.8h.9M27.8 36.7h.9M26.3 43.0h.9M29.1 43.4h.9M27.8 43.0h.9M24.5 36.9h.9M24.3 39.1h.9M23.7 44.2h.9M27.7 43.0h.9M24.6 40.1h.9M25.5 44.4h.9M22.1 40.8h.9M23.0 40.0h.9M19.8 40.6h.9M23.4 35.4h.9M26.2 39.1h.9M24.8 43.9h.9M19.9 41.7h.9M26.0 38.6h.9M24.1 40.6h.9M23.9 36.1h.9M25.5 42.1h.9M24.8 37.6h.9M26.7 39.3h.9M21.2 49.1h.9M24.5 42.9h.9M26.7 40.4h.9M22.6 44.4h.9M24.3 40.2h.9M17.3 43.4h.9M27.0 41.6h.9M25.1 46.5h.9M26.4 41.4h.9M21.6 44.1h.9M25.4 39.4h.9M24.0 43.7h.9M20.7 41.0h.9M29.6 35.8h.9M25.8 39.5h.9M25.4 41.4h.9M26.6 35.4h.9M22.1 41.0h.9M29.5 39.7h.9M22.5 42.3h.9M26.9 41.3h.9M21.7 42.5h.9M20.9 39.4h.9M21.3 42.3h.9" stroke="#000" stroke-opacity="0.4" stroke-width=".9"/>
<path d="M25.7 47.1h.9M33.5 41.7h.9M21.2 36.0h.9M16.6 38.3h.9M15.5 44.9h.9M21.6 42.7h.9M20.5 41.2h.9M18.9 41.4h.9M23.8 39.7h.9M26.8 42.2h.9M29.9 47.9h.9M22.4 44.4h.9M26.3 36.3h.9" stroke="#000" stroke-opacity="0.3" stroke-width=".9"/>
</svg>
<rect x="314.82" y="566.30" width="15.80" height="17.60" fill="none" stroke="#2a2a2a" stroke-width="0.9"/>
<text x="333.12" y="580.50" font-size="6.1" fill="#222">4.82</text>
<rect x="356.40" y="548.70" width="55.50" height="55.70" fill="#fff" stroke="#b4b4b4" stroke-width="0.9"/>
<svg x="356.40" y="548.70" width="55.50" height="55.70" overflow="hidden">
<ellipse transform="translate(24.10,25.30)" rx="4.16" ry="9.10" fill="url(#g1)"/>
<ellipse transform="translate(24.80,42.30)" rx="6.22" ry="5.68" fill="url(#g5)"/>
<path d="M23.5 24.8h.9M24.0 26.2h.9M25.8 29.5h.9M26.1 22.9h.9M23.4 21.6h.9M23.8 18.9h.9M25.6 20.4h.9M22.3 19.1h.9M24.9 27.6h.9M24.2 26.1h.9M23.6 21.6h.9M24.9 26.1h.9M27.3 27.6h.9M23.5 21.9h.9M23.4 21.9h.9M24.1 23.9h.9M23.9 29.9h.9M20.7 24.1h.9M24.4 26.3h.9M25.1 25.7h.9M25.6 26.5h.9M22.2 27.6h.9M22.3 24.6h.9M22.6 31.7h.9M25.8 28.9h.9M23.2 31.5h.9M23.6 22.0h.9" stroke="#000" stroke-opacity="0.25" stroke-width=".9"/>
<path d="M25.8 43.8h.9M25.3 43.0h.9M22.0 42.8h.9M27.6 40.0h.9M29.6 40.3h.9M26.4 42.5h.9M30.6 43.3h.9M23.7 43.4h.9M24.5 42.8h.9M22.3 41.5h.9M28.0 42.7h.9M27.7 42.7h.9M22.3 42.2h.9M21.9 46.1h.9M26.3 42.9h.9M25.0 44.3h.9M25.7 44.0h.9M26.7 44.1h.9M30.3 42.1h.9M22.7 42.9h.9M24.6 41.4h.9M26.5 46.0h.9M26.0 44.1h.9M26.4 42.4h.9M26.5 42.6h.9M24.1 43.8h.9M23.4 41.4h.9M22.7 46.5h.9M24.4 37.0h.9M19.8 41.6h.9M24.7 41.4h.9M26.9 46.0h.9M24.2 44.5h.9M21.4 45.9h.9M28.5 40.8h.9M21.3 42.9h.9M25.6 42.4h.9M26.4 41.4h.9M24.5 40.3h.9M26.0 40.8h.9M26.3 43.4h.9M23.1 41.4h.9M21.8 45.8h.9M25.3 40.5h.9M20.7 39.7h.9M23.3 42.9h.9M25.5 42.5h.9M24.1 44.0h.9M27.3 39.4h.9M28.5 41.4h.9M25.1 44.5h.9M25.6 46.3h.9M29.1 41.4h.9M23.6 42.3h.9" stroke="#000" stroke-opacity="0.4" stroke-width=".9"/>
</svg>
<rect x="372.90" y="566.30" width="15.80" height="17.60" fill="none" stroke="#2a2a2a" stroke-width="0.9"/>
<text x="391.20" y="580.50" font-size="6.1" fill="#222">6.76</text>
<line x1="66.00" y1="548.70" x2="66.00" y2="604.40" stroke="#888" stroke-width="0.8"/>
<line x1="64.40" y1="555.50" x2="66.30" y2="555.50" stroke="#111" stroke-width="0.9"/>
<line x1="65.10" y1="558.85" x2="66.20" y2="558.85" stroke="#333" stroke-width="0.6"/>
<line x1="65.10" y1="562.20" x2="66.20" y2="562.20" stroke="#333" stroke-width="0.6"/>
<line x1="65.10" y1="565.55" x2="66.20" y2="565.55" stroke="#333" stroke-width="0.6"/>
<line x1="64.40" y1="568.90" x2="66.30" y2="568.90" stroke="#111" stroke-width="0.9"/>
<line x1="65.10" y1="572.38" x2="66.20" y2="572.38" stroke="#333" stroke-width="0.6"/>
<line x1="65.10" y1="575.85" x2="66.20" y2="575.85" stroke="#333" stroke-width="0.6"/>
<line x1="65.10" y1="579.33" x2="66.20" y2="579.33" stroke="#333" stroke-width="0.6"/>
<line x1="64.40" y1="582.80" x2="66.30" y2="582.80" stroke="#111" stroke-width="0.9"/>
<line x1="65.10" y1="585.05" x2="66.20" y2="585.05" stroke="#333" stroke-width="0.6"/>
<line x1="65.10" y1="587.30" x2="66.20" y2="587.30" stroke="#333" stroke-width="0.6"/>
<line x1="65.10" y1="589.55" x2="66.20" y2="589.55" stroke="#333" stroke-width="0.6"/>
<line x1="64.40" y1="591.80" x2="66.30" y2="591.80" stroke="#111" stroke-width="0.9"/>
<line x1="65.10" y1="594.48" x2="66.20" y2="594.48" stroke="#333" stroke-width="0.6"/>
<line x1="65.10" y1="597.15" x2="66.20" y2="597.15" stroke="#333" stroke-width="0.6"/>
<line x1="65.10" y1="599.83" x2="66.20" y2="599.83" stroke="#333" stroke-width="0.6"/>
<line x1="64.40" y1="602.50" x2="66.30" y2="602.50" stroke="#111" stroke-width="0.9"/>
<text x="61.20" y="557.80" font-size="6.4" fill="#222" text-anchor="end" font-family="Liberation Sans, sans-serif">10<tspan font-size="4.48" dy="-2.56">5</tspan></text>
<text x="61.20" y="571.20" font-size="6.4" fill="#222" text-anchor="end" font-family="Liberation Sans, sans-serif">10<tspan font-size="4.48" dy="-2.56">4</tspan></text>
<text x="61.20" y="585.10" font-size="6.4" fill="#222" text-anchor="end" font-family="Liberation Sans, sans-serif">10<tspan font-size="4.48" dy="-2.56">3</tspan></text>
<text x="58.50" y="594.10" font-size="6.4" fill="#222" text-anchor="end">0</text>
<text x="61.20" y="604.80" font-size="6.4" fill="#222" text-anchor="end" font-family="Liberation Sans, sans-serif">−10<tspan font-size="4.48" dy="-2.56">3</tspan></text>
<rect x="66.00" y="607.30" width="55.50" height="55.70" fill="#fff" stroke="#b4b4b4" stroke-width="0.9"/>
<svg x="66.00" y="607.30" width="55.50" height="55.70" overflow="hidden">
<ellipse transform="translate(26.80,23.10)" rx="4.68" ry="5.72" fill="url(#g1)"/>
<ellipse transform="translate(25.50,42.20)" rx="8.85" ry="7.66" fill="url(#g4)"/>
<ellipse transform="translate(26.00,41.70)" rx="15.60" ry="11.70" fill="url(#g0)" opacity="0.38"/>
<path d="M29.8 21.9h.9M25.1 22.2h.9M27.6 24.0h.9M28.5 21.6h.9M23.8 20.6h.9M24.7 22.1h.9M26.4 20.1h.9M27.0 23.7h.9M26.3 20.9h.9M25.8 24.2h.9M27.9 22.1h.9M24.1 20.9h.9M27.8 24.9h.9M24.1 21.6h.9M25.7 23.3h.9M24.9 22.7h.9M26.0 24.2h.9M23.4 25.7h.9" stroke="#000" stroke-opacity="0.25" stroke-width=".9"/>
<path d="M24.2 40.8h.9M28.2 40.6h.9M24.1 43.5h.9M27.2 39.8h.9M24.4 37.5h.9M26.0 44.3h.9M27.5 45.2h.9M20.7 39.1h.9M23.5 41.9h.9M25.5 42.7h.9M30.0 43.6h.9M22.8 40.4h.9M22.1 40.8h.9M28.2 41.2h.9M26.2 40.9h.9M23.5 41.8h.9M21.8 36.3h.9M19.7 44.3h.9M31.2 44.3h.9M25.7 44.3h.9M30.6 41.5h.9M25.2 44.2h.9M25.5 39.8h.9M25.0 42.1h.9M23.9 44.3h.9M31.2 44.6h.9M19.6 41.5h.9M22.9 44.5h.9M28.1 37.5h.9M25.6 40.0h.9M23.1 39.8h.9M18.6 42.7h.9M24.3 42.5h.9M24.3 39.2h.9M26.3 44.5h.9M25.7 46.8h.9M27.6 42.6h.9M23.5 43.7h.9M20.9 40.5h.9M24.5 41.4h.9M31.7 43.3h.9M27.3 40.3h.9M25.5 41.4h.9M19.8 41.0h.9M24.9 44.7h.9M18.0 39.6h.9M22.6 44.3h.9M24.3 45.7h.9M23.7 38.7h.9M28.6 43.3h.9M25.4 37.0h.9M24.3 39.7h.9M25.3 43.4h.9M28.3 43.4h.9M25.0 45.5h.9M29.2 37.8h.9M31.6 42.8h.9M27.6 45.7h.9M23.8 45.9h.9M27.9 42.3h.9M23.0 43.0h.9M24.0 45.0h.9M28.7 46.0h.9M20.4 41.9h.9M25.7 45.0h.9M26.0 35.7h.9M27.5 44.8h.9M29.3 39.8h.9M26.4 39.7h.9M25.9 38.5h.9M26.3 44.7h.9M28.2 42.2h.9" stroke="#000" stroke-opacity="0.4" stroke-width=".9"/>
<path d="M29.8 39.4h.9M32.8 37.1h.9M40.7 42.8h.9M28.4 45.0h.9M17.4 40.7h.9M30.6 40.4h.9M20.3 40.7h.9M13.7 45.1h.9M33.3 45.6h.9M33.7 42.3h.9M20.8 46.8h.9M22.2 44.6h.9M33.3 40.5h.9M31.6 38.2h.9M30.1 41.6h.9M24.2 40.0h.9M28.6 41.9h.9M22.7 40.7h.9M37.7 40.4h.9M25.1 36.7h.9M32.4 39.1h.9M20.4 42.4h.9" stroke="#000" stroke-opacity="0.3" stroke-width=".9"/>
</svg>
<rect x="82.50" y="624.20" width="15.80" height="17.30" fill="none" stroke="#2a2a2a" stroke-width="0.9"/>
<text x="100.80" y="639.10" font-size="6.1" fill="#222">3.41</text>
<rect x="124.08" y="607.30" width="55.50" height="55.70" fill="#fff" stroke="#b4b4b4" stroke-width="0.9"/>
<svg x="124.08" y="607.30" width="55.50" height="55.70" overflow="hidden">
<ellipse transform="translate(23.92,23.70)" rx="5.20" ry="7.80" fill="url(#g0)" opacity="0.50"/>
<ellipse transform="translate(24.22,41.70)" rx="7.42" ry="5.93" fill="url(#g3)"/>
<ellipse transform="translate(29.92,41.20)" rx="5.72" ry="4.68" fill="url(#g1)"/>
<ellipse transform="translate(24.42,41.70)" rx="13.00" ry="10.40" fill="url(#g0)" opacity="0.31"/>
<path d="M24.9 24.9h.9M21.7 22.7h.9M23.3 25.6h.9M22.0 23.0h.9M27.0 22.7h.9M25.2 22.8h.9M24.6 20.7h.9M26.9 31.2h.9M25.0 21.4h.9M24.7 24.9h.9M32.1 42.0h.9M28.6 41.9h.9M25.9 41.8h.9M28.9 41.1h.9M32.8 43.5h.9M30.4 41.3h.9M28.2 38.8h.9M26.8 42.5h.9M28.7 39.8h.9M29.1 42.5h.9M30.2 40.4h.9M28.4 38.8h.9M29.7 39.5h.9M30.8 43.7h.9M30.9 44.1h.9M27.0 38.6h.9M26.8 39.6h.9M35.0 40.4h.9" stroke="#000" stroke-opacity="0.25" stroke-width=".9"/>
<path d="M25.2 42.1h.9M23.0 38.6h.9M22.4 42.7h.9M19.8 43.0h.9M24.9 43.1h.9M29.7 43.1h.9M23.2 41.7h.9M25.9 41.8h.9M22.1 40.0h.9M22.3 45.8h.9M26.4 41.3h.9M24.2 39.4h.9M22.4 42.1h.9M21.4 43.7h.9M28.8 37.0h.9M28.2 39.4h.9M22.9 46.4h.9M23.9 44.2h.9M18.9 42.4h.9M27.2 41.0h.9M21.8 45.2h.9M28.8 40.4h.9M26.1 43.4h.9M23.1 40.0h.9M24.5 44.7h.9M21.5 39.2h.9M25.2 42.1h.9M25.2 44.4h.9M24.7 43.2h.9M24.2 39.5h.9M22.8 41.2h.9M23.9 39.3h.9M30.1 43.4h.9M21.2 47.1h.9M24.9 41.7h.9M18.4 40.1h.9M26.2 40.6h.9M20.8 42.7h.9M21.8 38.7h.9M23.5 37.5h.9M22.6 38.2h.9M24.4 44.3h.9M22.4 43.9h.9M20.9 40.7h.9M23.8 42.5h.9M25.9 41.4h.9M18.6 46.0h.9M26.4 42.4h.9M28.1 41.8h.9M22.1 41.3h.9M21.5 42.9h.9M24.3 39.5h.9M24.4 41.1h.9M26.0 47.5h.9M26.8 41.2h.9M23.9 43.6h.9M27.4 45.5h.9M26.7 39.0h.9M25.6 41.3h.9M29.0 42.5h.9M23.2 38.4h.9M20.5 41.3h.9M22.5 41.1h.9" stroke="#000" stroke-opacity="0.4" stroke-width=".9"/>
<path d="M21.2 37.4h.9M30.8 36.0h.9M19.7 38.3h.9M18.7 36.4h.9M24.2 44.3h.9M23.4 44.9h.9M27.7 35.7h.9M20.2 43.1h.9M30.2 40.0h.9M25.1 37.7h.9M25.1 41.5h.9M22.5 45.1h.9M20.8 46.5h.9" stroke="#000" stroke-opacity="0.3" stroke-width=".9"/>
</svg>
<rect x="140.58" y="624.20" width="15.80" height="17.30" fill="none" stroke="#2a2a2a" stroke-width="0.9"/>
<text x="158.88" y="639.10" font-size="6.1" fill="#222">4.22</text>
<rect x="182.16" y="607.30" width="55.50" height="55.70" fill="#fff" stroke="#b4b4b4" stroke-width="0.9"/>
<svg x="182.16" y="607.30" width="55.50" height="55.70" overflow="hidden">
<ellipse transform="translate(25.64,26.20)" rx="5.20" ry="7.80" fill="url(#g1)"/>
<ellipse transform="translate(26.84,42.20)" rx="5.50" ry="7.90" fill="url(#g4)"/>
<ellipse transform="translate(18.34,41.70)" rx="5.72" ry="6.50" fill="url(#g0)"/>
<path d="M26.4 27.7h.9M26.6 24.8h.9M27.7 30.2h.9M25.7 24.5h.9M25.3 21.7h.9M23.8 27.9h.9M26.2 26.4h.9M24.3 23.1h.9M25.6 28.5h.9M26.5 29.7h.9M24.3 25.5h.9M26.9 25.9h.9M23.5 28.4h.9M27.5 25.8h.9M26.1 26.2h.9M22.7 28.7h.9M27.3 25.1h.9M25.0 28.3h.9M21.4 24.2h.9M28.9 24.4h.9M30.7 22.8h.9M26.6 27.3h.9M23.9 25.3h.9M26.7 20.5h.9M26.8 27.4h.9M24.7 24.6h.9M26.1 24.2h.9M23.5 23.3h.9M26.7 31.2h.9M25.0 28.5h.9M24.0 26.8h.9M19.6 42.9h.9M16.3 40.2h.9M18.5 41.8h.9M17.6 46.4h.9M16.2 39.6h.9M19.1 35.2h.9M18.0 47.8h.9M15.8 39.5h.9M17.6 43.3h.9M18.4 38.5h.9M21.0 40.2h.9M15.9 36.8h.9M18.9 39.2h.9M18.3 41.5h.9M18.4 42.3h.9M15.3 45.3h.9M16.6 41.8h.9M17.5 40.6h.9M17.7 38.7h.9M17.3 41.1h.9M17.0 44.7h.9M18.3 42.8h.9" stroke="#000" stroke-opacity="0.25" stroke-width=".9"/>
<path d="M23.7 48.3h.9M24.7 41.4h.9M28.0 41.1h.9M23.5 47.4h.9M22.3 40.4h.9M27.6 41.6h.9M27.9 31.0h.9M24.6 37.4h.9M25.1 40.4h.9M27.0 39.9h.9M30.2 36.3h.9M25.5 45.9h.9M25.0 41.5h.9M23.3 38.2h.9M29.5 49.5h.9M27.4 42.6h.9M27.1 45.3h.9M25.3 42.0h.9M25.6 47.1h.9M29.7 45.6h.9M30.1 43.3h.9M28.0 47.4h.9M29.5 39.5h.9M27.9 45.4h.9M27.6 40.9h.9M29.5 35.0h.9M28.0 49.8h.9M30.1 39.2h.9M24.3 43.8h.9M23.1 36.2h.9M28.2 37.0h.9M27.0 39.5h.9M26.8 43.9h.9M25.8 47.0h.9M30.8 45.1h.9M27.7 46.9h.9M26.0 47.2h.9M25.2 46.3h.9M22.3 41.4h.9M26.0 44.8h.9M28.7 43.6h.9M29.6 47.4h.9M29.3 34.7h.9M28.3 44.8h.9M25.6 39.9h.9M25.2 41.6h.9M27.7 48.4h.9M26.4 39.6h.9M25.9 42.5h.9M29.2 41.0h.9M24.6 44.7h.9M27.6 38.1h.9M26.0 44.9h.9M29.3 43.7h.9" stroke="#000" stroke-opacity="0.4" stroke-width=".9"/>
</svg>
<rect x="198.66" y="624.20" width="15.80" height="17.30" fill="none" stroke="#2a2a2a" stroke-width="0.9"/>
<text x="216.96" y="639.10" font-size="6.1" fill="#222">6.96</text>
<rect x="240.24" y="607.30" width="55.50" height="55.70" fill="#fff" stroke="#b4b4b4" stroke-width="0.9"/>
<svg x="240.24" y="607.30" width="55.50" height="55.70" overflow="hidden">
<ellipse transform="translate(26.56,23.10)" rx="4.68" ry="7.80" fill="url(#g0)" opacity="0.75"/>
<ellipse transform="translate(25.76,43.20)" rx="5.50" ry="9.39" fill="url(#g5)"/>
<path d="M23.3 22.3h.9M26.5 25.3h.9M29.9 20.2h.9M25.7 22.6h.9M25.6 21.1h.9M25.8 23.5h.9M24.8 22.6h.9M27.7 24.3h.9M22.4 25.3h.9M26.5 23.9h.9M24.9 26.2h.9M26.9 22.5h.9M24.4 22.3h.9" stroke="#000" stroke-opacity="0.25" stroke-width=".9"/>
<path d="M28.3 44.1h.9M28.2 50.8h.9M22.9 46.5h.9M25.7 45.5h.9M26.3 34.3h.9M24.0 47.4h.9M27.3 46.4h.9M24.9 39.0h.9M27.2 42.6h.9M27.3 42.3h.9M25.5 45.3h.9M31.5 46.0h.9M26.2 43.8h.9M27.4 39.6h.9M22.2 39.2h.9M25.6 43.7h.9M24.3 44.0h.9M23.3 38.0h.9M27.6 46.5h.9M24.8 46.6h.9M23.0 39.3h.9M26.5 42.1h.9M25.3 42.9h.9M24.7 46.9h.9M25.4 41.3h.9M25.2 39.4h.9M25.0 42.3h.9M28.3 42.2h.9M22.7 44.0h.9M26.6 51.7h.9M27.6 39.1h.9M25.4 50.0h.9M27.0 41.4h.9M25.6 39.0h.9M27.9 46.5h.9M24.7 44.4h.9M24.0 39.9h.9M29.8 44.9h.9M28.6 47.3h.9M27.7 50.0h.9M29.0 42.4h.9M23.0 40.4h.9M24.1 43.6h.9M26.8 38.7h.9M23.7 42.3h.9M28.1 40.1h.9M27.2 47.0h.9M27.6 38.8h.9M26.4 42.6h.9M24.0 42.2h.9M26.0 44.2h.9M25.0 47.3h.9M26.4 44.0h.9M25.0 39.6h.9" stroke="#000" stroke-opacity="0.4" stroke-width=".9"/>
</svg>
<rect x="256.74" y="625.20" width="15.80" height="17.30" fill="none" stroke="#2a2a2a" stroke-width="0.9"/>
<text x="275.04" y="639.10" font-size="6.1" fill="#222">2.57</text>
<rect x="298.32" y="607.30" width="55.50" height="55.70" fill="#fff" stroke="#b4b4b4" stroke-width="0.9"/>
<svg x="298.32" y="607.30" width="55.50" height="55.70" overflow="hidden">
<ellipse transform="translate(24.68,23.70)" rx="5.20" ry="7.80" fill="url(#g0)" opacity="0.38"/>
<ellipse transform="translate(25.18,42.20)" rx="7.65" ry="6.17" fill="url(#g3)"/>
<ellipse transform="translate(25.18,42.20)" rx="13.00" ry="10.40" fill="url(#g0)" opacity="0.31"/>
<path d="M25.4 27.3h.9M24.6 19.8h.9M24.8 24.0h.9M24.6 23.6h.9M24.6 20.7h.9M22.8 26.2h.9M25.6 24.7h.9M23.4 24.6h.9M23.6 21.4h.9" stroke="#000" stroke-opacity="0.25" stroke-width=".9"/>
<path d="M27.8 41.4h.9M23.3 40.6h.9M27.6 41.1h.9M18.6 46.0h.9M20.2 42.5h.9M28.4 39.4h.9M17.5 38.9h.9M25.4 42.2h.9M24.8 38.5h.9M32.4 39.6h.9M29.2 43.3h.9M18.3 46.3h.9M28.3 39.3h.9M27.9 43.9h.9M29.0 44.9h.9M25.0 41.4h.9M24.6 44.9h.9M20.0 45.4h.9M23.5 40.0h.9M22.1 41.0h.9M25.3 42.3h.9M18.6 42.7h.9M21.6 41.6h.9M22.9 43.3h.9M30.2 41.4h.9M22.7 44.5h.9M24.5 39.0h.9M27.2 40.3h.9M26.8 45.1h.9M22.6 42.9h.9M20.6 41.1h.9M23.5 41.6h.9M26.5 39.2h.9M24.8 42.6h.9M26.3 43.4h.9M23.5 42.6h.9M24.6 40.2h.9M22.3 41.3h.9M28.8 41.8h.9M21.5 45.9h.9M24.2 38.5h.9M23.0 45.5h.9M21.8 39.2h.9M27.7 44.5h.9M28.6 42.0h.9M26.4 43.9h.9M24.6 37.9h.9M24.2 48.6h.9M21.5 39.1h.9M26.1 41.3h.9M29.3 40.9h.9M24.6 41.1h.9M29.6 42.9h.9M24.0 44.6h.9M24.5 37.2h.9M20.8 42.0h.9M23.7 38.0h.9M26.0 41.8h.9M21.1 43.5h.9M29.3 46.8h.9M25.9 39.6h.9M26.0 43.4h.9M20.9 43.5h.9" stroke="#000" stroke-opacity="0.4" stroke-width=".9"/>
<path d="M22.6 37.8h.9M32.1 37.8h.9M24.9 43.9h.9M33.7 41.5h.9M17.1 39.6h.9M29.1 44.9h.9M25.4 41.4h.9M23.9 40.0h.9M25.2 35.4h.9M31.6 50.1h.9M20.4 42.1h.9M29.4 47.3h.9M32.2 30.1h.9" stroke="#000" stroke-opacity="0.3" stroke-width=".9"/>
</svg>
<rect x="314.82" y="625.20" width="15.80" height="17.30" fill="none" stroke="#2a2a2a" stroke-width="0.9"/>
<text x="333.12" y="639.10" font-size="6.1" fill="#222">2.34</text>
<rect x="356.40" y="607.30" width="55.50" height="55.70" fill="#fff" stroke="#b4b4b4" stroke-width="0.9"/>
<svg x="356.40" y="607.30" width="55.50" height="55.70" overflow="hidden">
<ellipse transform="translate(25.40,23.10)" rx="5.20" ry="7.80" fill="url(#g0)" opacity="0.62"/>
<ellipse transform="translate(25.60,41.20)" rx="6.76" ry="4.42" fill="url(#g1)"/>
<path d="M25.9 19.0h.9M26.4 22.2h.9M26.2 21.3h.9M25.3 20.8h.9M21.5 22.2h.9M23.9 22.0h.9M26.5 27.8h.9M28.6 16.5h.9M27.3 26.1h.9M24.1 24.7h.9M26.4 21.3h.9M25.9 30.7h.9M27.6 18.5h.9M25.8 44.9h.9M25.9 38.0h.9M27.4 40.8h.9M26.3 39.5h.9M27.0 40.7h.9M25.7 41.5h.9M27.0 41.9h.9M22.3 42.5h.9M25.2 40.6h.9M31.5 39.6h.9M22.2 44.1h.9M28.5 39.6h.9M29.3 41.2h.9M24.9 39.0h.9M26.2 42.4h.9M28.7 40.8h.9M27.9 40.6h.9M25.7 39.0h.9M27.5 40.2h.9M24.0 39.1h.9M21.9 41.1h.9M27.3 42.4h.9M22.4 39.5h.9M23.3 43.5h.9M23.5 39.3h.9M29.0 40.9h.9M27.3 40.2h.9M32.0 42.0h.9M25.2 42.6h.9M25.5 40.6h.9M23.8 41.8h.9M24.1 41.9h.9M25.3 38.6h.9M22.4 38.1h.9M22.6 41.0h.9M27.3 39.9h.9" stroke="#000" stroke-opacity="0.25" stroke-width=".9"/>
</svg>
<rect x="372.90" y="625.20" width="15.80" height="17.30" fill="none" stroke="#2a2a2a" stroke-width="0.9"/>
<text x="391.20" y="639.10" font-size="6.1" fill="#222">14.2</text>
<line x1="66.00" y1="607.30" x2="66.00" y2="663.00" stroke="#888" stroke-width="0.8"/>
<line x1="64.40" y1="614.10" x2="66.30" y2="614.10" stroke="#111" stroke-width="0.9"/>
<line x1="65.10" y1="617.45" x2="66.20" y2="617.45" stroke="#333" stroke-width="0.6"/>
<line x1="65.10" y1="620.80" x2="66.20" y2="620.80" stroke="#333" stroke-width="0.6"/>
<line x1="65.10" y1="624.15" x2="66.20" y2="624.15" stroke="#333" stroke-width="0.6"/>
<line x1="64.40" y1="627.50" x2="66.30" y2="627.50" stroke="#111" stroke-width="0.9"/>
<line x1="65.10" y1="630.98" x2="66.20" y2="630.98" stroke="#333" stroke-width="0.6"/>
<line x1="65.10" y1="634.45" x2="66.20" y2="634.45" stroke="#333" stroke-width="0.6"/>
<line x1="65.10" y1="637.92" x2="66.20" y2="637.92" stroke="#333" stroke-width="0.6"/>
<line x1="64.40" y1="641.40" x2="66.30" y2="641.40" stroke="#111" stroke-width="0.9"/>
<line x1="65.10" y1="643.65" x2="66.20" y2="643.65" stroke="#333" stroke-width="0.6"/>
<line x1="65.10" y1="645.90" x2="66.20" y2="645.90" stroke="#333" stroke-width="0.6"/>
<line x1="65.10" y1="648.15" x2="66.20" y2="648.15" stroke="#333" stroke-width="0.6"/>
<line x1="64.40" y1="650.40" x2="66.30" y2="650.40" stroke="#111" stroke-width="0.9"/>
<line x1="65.10" y1="653.07" x2="66.20" y2="653.07" stroke="#333" stroke-width="0.6"/>
<line x1="65.10" y1="655.75" x2="66.20" y2="655.75" stroke="#333" stroke-width="0.6"/>
<line x1="65.10" y1="658.42" x2="66.20" y2="658.42" stroke="#333" stroke-width="0.6"/>
<line x1="64.40" y1="661.10" x2="66.30" y2="661.10" stroke="#111" stroke-width="0.9"/>
<text x="61.20" y="616.40" font-size="6.4" fill="#222" text-anchor="end" font-family="Liberation Sans, sans-serif">10<tspan font-size="4.48" dy="-2.56">5</tspan></text>
<text x="61.20" y="629.80" font-size="6.4" fill="#222" text-anchor="end" font-family="Liberation Sans, sans-serif">10<tspan font-size="4.48" dy="-2.56">4</tspan></text>
<text x="61.20" y="643.70" font-size="6.4" fill="#222" text-anchor="end" font-family="Liberation Sans, sans-serif">10<tspan font-size="4.48" dy="-2.56">3</tspan></text>
<text x="58.50" y="652.70" font-size="6.4" fill="#222" text-anchor="end">0</text>
<text x="61.20" y="663.40" font-size="6.4" fill="#222" text-anchor="end" font-family="Liberation Sans, sans-serif">−10<tspan font-size="4.48" dy="-2.56">3</tspan></text>
<line x1="66.00" y1="663.20" x2="121.50" y2="663.20" stroke="#555" stroke-width="0.8"/>
<line x1="69.40" y1="662.90" x2="69.40" y2="664.60" stroke="#111" stroke-width="0.9"/>
<line x1="78.20" y1="662.90" x2="78.20" y2="664.60" stroke="#111" stroke-width="0.9"/>
<line x1="87.60" y1="662.90" x2="87.60" y2="664.60" stroke="#111" stroke-width="0.9"/>
<line x1="101.70" y1="662.90" x2="101.70" y2="664.60" stroke="#111" stroke-width="0.9"/>
<line x1="114.50" y1="662.90" x2="114.50" y2="664.60" stroke="#111" stroke-width="0.9"/>
<text x="72.00" y="671.40" font-size="6.3" fill="#222" text-anchor="end" transform="rotate(-50 72.00 671.40)" font-family="Liberation Sans, sans-serif">−10<tspan font-size="3.9" dy="-2.6">3</tspan></text>
<text x="82.40" y="671.40" font-size="6.3" fill="#222" text-anchor="end" transform="rotate(-50 82.40 671.40)" font-family="Liberation Sans, sans-serif">0</text>
<text x="92.00" y="671.40" font-size="6.3" fill="#222" text-anchor="end" transform="rotate(-50 92.00 671.40)" font-family="Liberation Sans, sans-serif">10<tspan font-size="3.9" dy="-2.6">3</tspan></text>
<text x="106.20" y="671.40" font-size="6.3" fill="#222" text-anchor="end" transform="rotate(-50 106.20 671.40)" font-family="Liberation Sans, sans-serif">10<tspan font-size="3.9" dy="-2.6">4</tspan></text>
<text x="119.00" y="671.40" font-size="6.3" fill="#222" text-anchor="end" transform="rotate(-50 119.00 671.40)" font-family="Liberation Sans, sans-serif">10<tspan font-size="3.9" dy="-2.6">5</tspan></text>
<line x1="124.08" y1="663.20" x2="179.58" y2="663.20" stroke="#555" stroke-width="0.8"/>
<line x1="127.48" y1="662.90" x2="127.48" y2="664.60" stroke="#111" stroke-width="0.9"/>
<line x1="136.28" y1="662.90" x2="136.28" y2="664.60" stroke="#111" stroke-width="0.9"/>
<line x1="145.68" y1="662.90" x2="145.68" y2="664.60" stroke="#111" stroke-width="0.9"/>
<line x1="159.78" y1="662.90" x2="159.78" y2="664.60" stroke="#111" stroke-width="0.9"/>
<line x1="172.58" y1="662.90" x2="172.58" y2="664.60" stroke="#111" stroke-width="0.9"/>
<text x="130.08" y="671.40" font-size="6.3" fill="#222" text-anchor="end" transform="rotate(-50 130.08 671.40)" font-family="Liberation Sans, sans-serif">−10<tspan font-size="3.9" dy="-2.6">3</tspan></text>
<text x="140.48" y="671.40" font-size="6.3" fill="#222" text-anchor="end" transform="rotate(-50 140.48 671.40)" font-family="Liberation Sans, sans-serif">0</text>
<text x="150.08" y="671.40" font-size="6.3" fill="#222" text-anchor="end" transform="rotate(-50 150.08 671.40)" font-family="Liberation Sans, sans-serif">10<tspan font-size="3.9" dy="-2.6">3</tspan></text>
<text x="164.28" y="671.40" font-size="6.3" fill="#222" text-anchor="end" transform="rotate(-50 164.28 671.40)" font-family="Liberation Sans, sans-serif">10<tspan font-size="3.9" dy="-2.6">4</tspan></text>
<text x="177.08" y="671.40" font-size="6.3" fill="#222" text-anchor="end" transform="rotate(-50 177.08 671.40)" font-family="Liberation Sans, sans-serif">10<tspan font-size="3.9" dy="-2.6">5</tspan></text>
<line x1="182.16" y1="663.20" x2="237.66" y2="663.20" stroke="#555" stroke-width="0.8"/>
<line x1="185.56" y1="662.90" x2="185.56" y2="664.60" stroke="#111" stroke-width="0.9"/>
<line x1="194.36" y1="662.90" x2="194.36" y2="664.60" stroke="#111" stroke-width="0.9"/>
<line x1="203.76" y1="662.90" x2="203.76" y2="664.60" stroke="#111" stroke-width="0.9"/>
<line x1="217.86" y1="662.90" x2="217.86" y2="664.60" stroke="#111" stroke-width="0.9"/>
<line x1="230.66" y1="662.90" x2="230.66" y2="664.60" stroke="#111" stroke-width="0.9"/>
<text x="188.16" y="671.40" font-size="6.3" fill="#222" text-anchor="end" transform="rotate(-50 188.16 671.40)" font-family="Liberation Sans, sans-serif">−10<tspan font-size="3.9" dy="-2.6">3</tspan></text>
<text x="198.56" y="671.40" font-size="6.3" fill="#222" text-anchor="end" transform="rotate(-50 198.56 671.40)" font-family="Liberation Sans, sans-serif">0</text>
<text x="208.16" y="671.40" font-size="6.3" fill="#222" text-anchor="end" transform="rotate(-50 208.16 671.40)" font-family="Liberation Sans, sans-serif">10<tspan font-size="3.9" dy="-2.6">3</tspan></text>
<text x="222.36" y="671.40" font-size="6.3" fill="#222" text-anchor="end" transform="rotate(-50 222.36 671.40)" font-family="Liberation Sans, sans-serif">10<tspan font-size="3.9" dy="-2.6">4</tspan></text>
<text x="235.16" y="671.40" font-size="6.3" fill="#222" text-anchor="end" transform="rotate(-50 235.16 671.40)" font-family="Liberation Sans, sans-serif">10<tspan font-size="3.9" dy="-2.6">5</tspan></text>
<line x1="240.24" y1="663.20" x2="295.74" y2="663.20" stroke="#555" stroke-width="0.8"/>
<line x1="243.64" y1="662.90" x2="243.64" y2="664.60" stroke="#111" stroke-width="0.9"/>
<line x1="252.44" y1="662.90" x2="252.44" y2="664.60" stroke="#111" stroke-width="0.9"/>
<line x1="261.84" y1="662.90" x2="261.84" y2="664.60" stroke="#111" stroke-width="0.9"/>
<line x1="275.94" y1="662.90" x2="275.94" y2="664.60" stroke="#111" stroke-width="0.9"/>
<line x1="288.74" y1="662.90" x2="288.74" y2="664.60" stroke="#111" stroke-width="0.9"/>
<text x="246.24" y="671.40" font-size="6.3" fill="#222" text-anchor="end" transform="rotate(-50 246.24 671.40)" font-family="Liberation Sans, sans-serif">−10<tspan font-size="3.9" dy="-2.6">3</tspan></text>
<text x="256.64" y="671.40" font-size="6.3" fill="#222" text-anchor="end" transform="rotate(-50 256.64 671.40)" font-family="Liberation Sans, sans-serif">0</text>
<text x="266.24" y="671.40" font-size="6.3" fill="#222" text-anchor="end" transform="rotate(-50 266.24 671.40)" font-family="Liberation Sans, sans-serif">10<tspan font-size="3.9" dy="-2.6">3</tspan></text>
<text x="280.44" y="671.40" font-size="6.3" fill="#222" text-anchor="end" transform="rotate(-50 280.44 671.40)" font-family="Liberation Sans, sans-serif">10<tspan font-size="3.9" dy="-2.6">4</tspan></text>
<text x="293.24" y="671.40" font-size="6.3" fill="#222" text-anchor="end" transform="rotate(-50 293.24 671.40)" font-family="Liberation Sans, sans-serif">10<tspan font-size="3.9" dy="-2.6">5</tspan></text>
<line x1="298.32" y1="663.20" x2="353.82" y2="663.20" stroke="#555" stroke-width="0.8"/>
<line x1="301.72" y1="662.90" x2="301.72" y2="664.60" stroke="#111" stroke-width="0.9"/>
<line x1="310.52" y1="662.90" x2="310.52" y2="664.60" stroke="#111" stroke-width="0.9"/>
<line x1="319.92" y1="662.90" x2="319.92" y2="664.60" stroke="#111" stroke-width="0.9"/>
<line x1="334.02" y1="662.90" x2="334.02" y2="664.60" stroke="#111" stroke-width="0.9"/>
<line x1="346.82" y1="662.90" x2="346.82" y2="664.60" stroke="#111" stroke-width="0.9"/>
<text x="304.32" y="671.40" font-size="6.3" fill="#222" text-anchor="end" transform="rotate(-50 304.32 671.40)" font-family="Liberation Sans, sans-serif">−10<tspan font-size="3.9" dy="-2.6">3</tspan></text>
<text x="314.72" y="671.40" font-size="6.3" fill="#222" text-anchor="end" transform="rotate(-50 314.72 671.40)" font-family="Liberation Sans, sans-serif">0</text>
<text x="324.32" y="671.40" font-size="6.3" fill="#222" text-anchor="end" transform="rotate(-50 324.32 671.40)" font-family="Liberation Sans, sans-serif">10<tspan font-size="3.9" dy="-2.6">3</tspan></text>
<text x="338.52" y="671.40" font-size="6.3" fill="#222" text-anchor="end" transform="rotate(-50 338.52 671.40)" font-family="Liberation Sans, sans-serif">10<tspan font-size="3.9" dy="-2.6">4</tspan></text>
<text x="351.32" y="671.40" font-size="6.3" fill="#222" text-anchor="end" transform="rotate(-50 351.32 671.40)" font-family="Liberation Sans, sans-serif">10<tspan font-size="3.9" dy="-2.6">5</tspan></text>
<line x1="356.40" y1="663.20" x2="411.90" y2="663.20" stroke="#555" stroke-width="0.8"/>
<line x1="359.80" y1="662.90" x2="359.80" y2="664.60" stroke="#111" stroke-width="0.9"/>
<line x1="368.60" y1="662.90" x2="368.60" y2="664.60" stroke="#111" stroke-width="0.9"/>
<line x1="378.00" y1="662.90" x2="378.00" y2="664.60" stroke="#111" stroke-width="0.9"/>
<line x1="392.10" y1="662.90" x2="392.10" y2="664.60" stroke="#111" stroke-width="0.9"/>
<line x1="404.90" y1="662.90" x2="404.90" y2="664.60" stroke="#111" stroke-width="0.9"/>
<text x="362.40" y="671.40" font-size="6.3" fill="#222" text-anchor="end" transform="rotate(-50 362.40 671.40)" font-family="Liberation Sans, sans-serif">−10<tspan font-size="3.9" dy="-2.6">3</tspan></text>
<text x="372.80" y="671.40" font-size="6.3" fill="#222" text-anchor="end" transform="rotate(-50 372.80 671.40)" font-family="Liberation Sans, sans-serif">0</text>
<text x="382.40" y="671.40" font-size="6.3" fill="#222" text-anchor="end" transform="rotate(-50 382.40 671.40)" font-family="Liberation Sans, sans-serif">10<tspan font-size="3.9" dy="-2.6">3</tspan></text>
<text x="396.60" y="671.40" font-size="6.3" fill="#222" text-anchor="end" transform="rotate(-50 396.60 671.40)" font-family="Liberation Sans, sans-serif">10<tspan font-size="3.9" dy="-2.6">4</tspan></text>
<text x="409.40" y="671.40" font-size="6.3" fill="#222" text-anchor="end" transform="rotate(-50 409.40 671.40)" font-family="Liberation Sans, sans-serif">10<tspan font-size="3.9" dy="-2.6">5</tspan></text>
<line x1="38.90" y1="496.50" x2="38.90" y2="641.30" stroke="#111" stroke-width="1.0"/>
<path d="M38.9,492.0 L36.5,497.8 L41.3,497.8 Z" fill="#111"/>
<text x="41.30" y="650.30" font-size="7.5" fill="#1a1a1a" text-anchor="middle" font-weight="bold" textLength="12.6" lengthAdjust="spacingAndGlyphs" transform="rotate(-90 41.30 650.30)">Vβ5</text>
<text x="64.30" y="694.40" font-size="8.0" fill="#1a1a1a" font-weight="bold" textLength="17.0" lengthAdjust="spacingAndGlyphs">SSC-A</text>
<line x1="87.70" y1="691.80" x2="407.70" y2="691.80" stroke="#111" stroke-width="1.0"/>
<path d="M411.7,691.8 L405.9,689.4 L405.9,694.1999999999999 Z" fill="#111"/>
<rect x="458.50" y="164.70" width="6.00" height="5.90" fill="#c8102e"/>
<text x="468.10" y="169.80" font-size="5.9" fill="#222">Non GVHD</text>
<rect x="458.50" y="174.40" width="6.00" height="5.90" fill="#4b1e6e"/>
<text x="468.10" y="179.50" font-size="5.9" fill="#222">MSC GVHD</text>
<rect x="458.50" y="184.40" width="6.00" height="5.90" fill="#f39a1e"/>
<text x="468.10" y="189.50" font-size="5.9" fill="#222">Non-MSC GVHD</text>
<line x1="455.50" y1="251.30" x2="458.60" y2="251.30" stroke="#111" stroke-width="0.8"/>
<text x="452.20" y="253.50" font-size="6.2" fill="#222" text-anchor="end">0</text>
<line x1="455.50" y1="241.06" x2="458.60" y2="241.06" stroke="#111" stroke-width="0.8"/>
<text x="452.20" y="243.26" font-size="6.2" fill="#222" text-anchor="end">20</text>
<line x1="455.50" y1="230.82" x2="458.60" y2="230.82" stroke="#111" stroke-width="0.8"/>
<text x="452.20" y="233.02" font-size="6.2" fill="#222" text-anchor="end">40</text>
<line x1="455.50" y1="220.58" x2="458.60" y2="220.58" stroke="#111" stroke-width="0.8"/>
<text x="452.20" y="222.78" font-size="6.2" fill="#222" text-anchor="end">60</text>
<line x1="455.50" y1="210.34" x2="458.60" y2="210.34" stroke="#111" stroke-width="0.8"/>
<text x="452.20" y="212.54" font-size="6.2" fill="#222" text-anchor="end">80</text>
<line x1="455.50" y1="200.10" x2="458.60" y2="200.10" stroke="#111" stroke-width="0.8"/>
<text x="452.20" y="202.30" font-size="6.2" fill="#222" text-anchor="end">100</text>
<line x1="463.50" y1="220.58" x2="463.50" y2="223.14" stroke="#8a2636" stroke-width="0.7"/>
<line x1="462.20" y1="220.58" x2="464.80" y2="220.58" stroke="#8a2636" stroke-width="0.8"/>
<rect x="461.45" y="223.14" width="4.10" height="28.16" fill="#c8102e"/>
<line x1="470.60" y1="234.40" x2="470.60" y2="236.96" stroke="#45305e" stroke-width="0.7"/>
<line x1="469.30" y1="234.40" x2="471.90" y2="234.40" stroke="#45305e" stroke-width="0.8"/>
<rect x="468.55" y="236.96" width="4.10" height="14.34" fill="#4b1e6e"/>
<line x1="477.80" y1="239.52" x2="477.80" y2="242.08" stroke="#7d8796" stroke-width="0.7"/>
<line x1="476.50" y1="239.52" x2="479.10" y2="239.52" stroke="#7d8796" stroke-width="0.8"/>
<rect x="475.75" y="242.08" width="4.10" height="9.22" fill="#f39a1e"/>
<line x1="489.50" y1="211.36" x2="489.50" y2="214.44" stroke="#8a2636" stroke-width="0.7"/>
<line x1="488.20" y1="211.36" x2="490.80" y2="211.36" stroke="#8a2636" stroke-width="0.8"/>
<rect x="487.45" y="214.44" width="4.10" height="36.86" fill="#c8102e"/>
<line x1="496.60" y1="220.58" x2="496.60" y2="224.16" stroke="#45305e" stroke-width="0.7"/>
<line x1="495.30" y1="220.58" x2="497.90" y2="220.58" stroke="#45305e" stroke-width="0.8"/>
<rect x="494.55" y="224.16" width="4.10" height="27.14" fill="#4b1e6e"/>
<line x1="503.60" y1="233.38" x2="503.60" y2="236.45" stroke="#7d8796" stroke-width="0.7"/>
<line x1="502.30" y1="233.38" x2="504.90" y2="233.38" stroke="#7d8796" stroke-width="0.8"/>
<rect x="501.55" y="236.45" width="4.10" height="14.85" fill="#f39a1e"/>
<line x1="458.60" y1="198.60" x2="458.60" y2="251.70" stroke="#111" stroke-width="1.0"/>
<line x1="458.20" y1="251.30" x2="508.60" y2="251.30" stroke="#111" stroke-width="1.0"/>
<line x1="470.40" y1="251.30" x2="470.40" y2="253.50" stroke="#111" stroke-width="0.8"/>
<text x="470.40" y="263.60" font-size="7.2" fill="#222" text-anchor="middle">20</text>
<line x1="496.30" y1="251.30" x2="496.30" y2="253.50" stroke="#111" stroke-width="0.8"/>
<text x="496.30" y="263.60" font-size="7.2" fill="#222" text-anchor="middle">40</text>
<text x="435.30" y="224.30" font-size="8.2" fill="#1a1a1a" text-anchor="middle" font-weight="bold" textLength="60.8" lengthAdjust="spacingAndGlyphs" transform="rotate(-90 435.30 224.30)">GFP+/CD3+ T cells %</text>
<text x="471.00" y="208.30" font-size="5.6" fill="#222" text-anchor="middle">***</text>
<line x1="464.20" y1="208.50" x2="477.80" y2="208.50" stroke="#444" stroke-width="0.85"/>
<text x="467.45" y="215.50" font-size="5.6" fill="#222" text-anchor="middle">***</text>
<line x1="464.20" y1="215.70" x2="470.70" y2="215.70" stroke="#444" stroke-width="0.85"/>
<text x="475.35" y="215.50" font-size="5.6" fill="#222" text-anchor="middle">**</text>
<line x1="472.00" y1="215.70" x2="478.70" y2="215.70" stroke="#444" stroke-width="0.85"/>
<text x="496.85" y="202.10" font-size="5.6" fill="#222" text-anchor="middle">***</text>
<line x1="489.80" y1="202.30" x2="503.90" y2="202.30" stroke="#444" stroke-width="0.85"/>
<text x="493.15" y="208.80" font-size="5.6" fill="#222" text-anchor="middle">***</text>
<line x1="489.80" y1="209.00" x2="496.50" y2="209.00" stroke="#444" stroke-width="0.85"/>
<text x="500.80" y="208.80" font-size="5.6" fill="#222" text-anchor="middle">***</text>
<line x1="497.70" y1="209.00" x2="503.90" y2="209.00" stroke="#444" stroke-width="0.85"/>
<line x1="455.60" y1="327.20" x2="458.70" y2="327.20" stroke="#111" stroke-width="0.8"/>
<text x="452.30" y="329.40" font-size="6.2" fill="#222" text-anchor="end">0</text>
<line x1="455.60" y1="317.52" x2="458.70" y2="317.52" stroke="#111" stroke-width="0.8"/>
<text x="452.30" y="319.72" font-size="6.2" fill="#222" text-anchor="end">20</text>
<line x1="455.60" y1="307.84" x2="458.70" y2="307.84" stroke="#111" stroke-width="0.8"/>
<text x="452.30" y="310.04" font-size="6.2" fill="#222" text-anchor="end">40</text>
<line x1="455.60" y1="298.16" x2="458.70" y2="298.16" stroke="#111" stroke-width="0.8"/>
<text x="452.30" y="300.36" font-size="6.2" fill="#222" text-anchor="end">60</text>
<line x1="455.60" y1="288.48" x2="458.70" y2="288.48" stroke="#111" stroke-width="0.8"/>
<text x="452.30" y="290.68" font-size="6.2" fill="#222" text-anchor="end">80</text>
<line x1="455.60" y1="278.80" x2="458.70" y2="278.80" stroke="#111" stroke-width="0.8"/>
<text x="452.30" y="281.00" font-size="6.2" fill="#222" text-anchor="end">100</text>
<line x1="463.50" y1="297.68" x2="463.50" y2="300.58" stroke="#8a2636" stroke-width="0.7"/>
<line x1="462.20" y1="297.68" x2="464.80" y2="297.68" stroke="#8a2636" stroke-width="0.8"/>
<rect x="461.45" y="300.58" width="4.10" height="26.62" fill="#c8102e"/>
<line x1="470.60" y1="304.45" x2="470.60" y2="306.39" stroke="#45305e" stroke-width="0.7"/>
<line x1="469.30" y1="304.45" x2="471.90" y2="304.45" stroke="#45305e" stroke-width="0.8"/>
<rect x="468.55" y="306.39" width="4.10" height="20.81" fill="#4b1e6e"/>
<line x1="477.80" y1="309.29" x2="477.80" y2="313.16" stroke="#7d8796" stroke-width="0.7"/>
<line x1="476.50" y1="309.29" x2="479.10" y2="309.29" stroke="#7d8796" stroke-width="0.8"/>
<rect x="475.75" y="313.16" width="4.10" height="14.04" fill="#f39a1e"/>
<line x1="489.50" y1="288.96" x2="489.50" y2="291.38" stroke="#8a2636" stroke-width="0.7"/>
<line x1="488.20" y1="288.96" x2="490.80" y2="288.96" stroke="#8a2636" stroke-width="0.8"/>
<rect x="487.45" y="291.38" width="4.10" height="35.82" fill="#c8102e"/>
<line x1="496.60" y1="299.61" x2="496.60" y2="303.00" stroke="#45305e" stroke-width="0.7"/>
<line x1="495.30" y1="299.61" x2="497.90" y2="299.61" stroke="#45305e" stroke-width="0.8"/>
<rect x="494.55" y="303.00" width="4.10" height="24.20" fill="#4b1e6e"/>
<line x1="503.60" y1="306.39" x2="503.60" y2="308.81" stroke="#7d8796" stroke-width="0.7"/>
<line x1="502.30" y1="306.39" x2="504.90" y2="306.39" stroke="#7d8796" stroke-width="0.8"/>
<rect x="501.55" y="308.81" width="4.10" height="18.39" fill="#f39a1e"/>
<line x1="458.70" y1="277.30" x2="458.70" y2="327.60" stroke="#111" stroke-width="1.0"/>
<line x1="458.30" y1="327.20" x2="508.60" y2="327.20" stroke="#111" stroke-width="1.0"/>
<line x1="470.40" y1="327.20" x2="470.40" y2="329.40" stroke="#111" stroke-width="0.8"/>
<text x="470.40" y="339.60" font-size="7.2" fill="#222" text-anchor="middle">20</text>
<line x1="496.30" y1="327.20" x2="496.30" y2="329.40" stroke="#111" stroke-width="0.8"/>
<text x="496.30" y="339.60" font-size="7.2" fill="#222" text-anchor="middle">40</text>
<text x="435.30" y="301.50" font-size="8.2" fill="#1a1a1a" text-anchor="middle" font-weight="bold" textLength="61.4" lengthAdjust="spacingAndGlyphs" transform="rotate(-90 435.30 301.50)">GFP+/CD3+ T cells %</text>
<text x="471.00" y="286.80" font-size="5.6" fill="#222" text-anchor="middle">***</text>
<line x1="464.20" y1="287.00" x2="477.80" y2="287.00" stroke="#444" stroke-width="0.85"/>
<text x="467.45" y="293.60" font-size="5.6" fill="#222" text-anchor="middle">***</text>
<line x1="464.20" y1="293.80" x2="470.70" y2="293.80" stroke="#444" stroke-width="0.85"/>
<text x="475.35" y="293.60" font-size="5.6" fill="#222" text-anchor="middle">***</text>
<line x1="472.00" y1="293.80" x2="478.70" y2="293.80" stroke="#444" stroke-width="0.85"/>
<text x="496.85" y="279.00" font-size="5.6" fill="#222" text-anchor="middle">***</text>
<line x1="489.80" y1="279.20" x2="503.90" y2="279.20" stroke="#444" stroke-width="0.85"/>
<text x="493.15" y="286.30" font-size="5.6" fill="#222" text-anchor="middle">***</text>
<line x1="489.80" y1="286.50" x2="496.50" y2="286.50" stroke="#444" stroke-width="0.85"/>
<text x="500.45" y="286.30" font-size="5.6" fill="#222" text-anchor="middle">***</text>
<line x1="497.00" y1="286.50" x2="503.90" y2="286.50" stroke="#444" stroke-width="0.85"/>
<line x1="455.30" y1="404.00" x2="458.40" y2="404.00" stroke="#111" stroke-width="0.8"/>
<text x="452.00" y="406.20" font-size="6.2" fill="#222" text-anchor="end">0</text>
<line x1="455.30" y1="394.02" x2="458.40" y2="394.02" stroke="#111" stroke-width="0.8"/>
<text x="452.00" y="396.22" font-size="6.2" fill="#222" text-anchor="end">20</text>
<line x1="455.30" y1="384.04" x2="458.40" y2="384.04" stroke="#111" stroke-width="0.8"/>
<text x="452.00" y="386.24" font-size="6.2" fill="#222" text-anchor="end">40</text>
<line x1="455.30" y1="374.06" x2="458.40" y2="374.06" stroke="#111" stroke-width="0.8"/>
<text x="452.00" y="376.26" font-size="6.2" fill="#222" text-anchor="end">60</text>
<line x1="455.30" y1="364.08" x2="458.40" y2="364.08" stroke="#111" stroke-width="0.8"/>
<text x="452.00" y="366.28" font-size="6.2" fill="#222" text-anchor="end">80</text>
<line x1="455.30" y1="354.10" x2="458.40" y2="354.10" stroke="#111" stroke-width="0.8"/>
<text x="452.00" y="356.30" font-size="6.2" fill="#222" text-anchor="end">100</text>
<line x1="463.50" y1="370.07" x2="463.50" y2="372.56" stroke="#8a2636" stroke-width="0.7"/>
<line x1="462.20" y1="370.07" x2="464.80" y2="370.07" stroke="#8a2636" stroke-width="0.8"/>
<rect x="461.45" y="372.56" width="4.10" height="31.44" fill="#c8102e"/>
<line x1="470.60" y1="384.04" x2="470.60" y2="386.04" stroke="#45305e" stroke-width="0.7"/>
<line x1="469.30" y1="384.04" x2="471.90" y2="384.04" stroke="#45305e" stroke-width="0.8"/>
<rect x="468.55" y="386.04" width="4.10" height="17.96" fill="#4b1e6e"/>
<line x1="477.80" y1="388.53" x2="477.80" y2="390.53" stroke="#7d8796" stroke-width="0.7"/>
<line x1="476.50" y1="388.53" x2="479.10" y2="388.53" stroke="#7d8796" stroke-width="0.8"/>
<rect x="475.75" y="390.53" width="4.10" height="13.47" fill="#f39a1e"/>
<line x1="489.50" y1="364.08" x2="489.50" y2="367.57" stroke="#8a2636" stroke-width="0.7"/>
<line x1="488.20" y1="364.08" x2="490.80" y2="364.08" stroke="#8a2636" stroke-width="0.8"/>
<rect x="487.45" y="367.57" width="4.10" height="36.43" fill="#c8102e"/>
<line x1="496.60" y1="373.56" x2="496.60" y2="375.56" stroke="#45305e" stroke-width="0.7"/>
<line x1="495.30" y1="373.56" x2="497.90" y2="373.56" stroke="#45305e" stroke-width="0.8"/>
<rect x="494.55" y="375.56" width="4.10" height="28.44" fill="#4b1e6e"/>
<line x1="503.60" y1="388.53" x2="503.60" y2="391.03" stroke="#7d8796" stroke-width="0.7"/>
<line x1="502.30" y1="388.53" x2="504.90" y2="388.53" stroke="#7d8796" stroke-width="0.8"/>
<rect x="501.55" y="391.03" width="4.10" height="12.97" fill="#f39a1e"/>
<line x1="458.40" y1="352.60" x2="458.40" y2="404.40" stroke="#111" stroke-width="1.0"/>
<line x1="458.00" y1="404.00" x2="508.60" y2="404.00" stroke="#111" stroke-width="1.0"/>
<line x1="470.40" y1="404.00" x2="470.40" y2="406.20" stroke="#111" stroke-width="0.8"/>
<text x="470.40" y="416.40" font-size="7.2" fill="#222" text-anchor="middle">20</text>
<line x1="496.30" y1="404.00" x2="496.30" y2="406.20" stroke="#111" stroke-width="0.8"/>
<text x="496.30" y="416.40" font-size="7.2" fill="#222" text-anchor="middle">40</text>
<text x="435.30" y="376.20" font-size="8.2" fill="#1a1a1a" text-anchor="middle" font-weight="bold" textLength="62.0" lengthAdjust="spacingAndGlyphs" transform="rotate(-90 435.30 376.20)">GFP+/CD3+ T cells %</text>
<text x="471.00" y="359.90" font-size="5.6" fill="#222" text-anchor="middle">***</text>
<line x1="464.20" y1="360.10" x2="477.80" y2="360.10" stroke="#444" stroke-width="0.85"/>
<text x="467.45" y="367.30" font-size="5.6" fill="#222" text-anchor="middle">***</text>
<line x1="464.20" y1="367.50" x2="470.70" y2="367.50" stroke="#444" stroke-width="0.85"/>
<text x="475.35" y="367.30" font-size="5.6" fill="#222" text-anchor="middle">**</text>
<line x1="472.00" y1="367.50" x2="478.70" y2="367.50" stroke="#444" stroke-width="0.85"/>
<text x="496.85" y="355.40" font-size="5.6" fill="#222" text-anchor="middle">***</text>
<line x1="489.80" y1="355.60" x2="503.90" y2="355.60" stroke="#444" stroke-width="0.85"/>
<text x="493.15" y="362.70" font-size="5.6" fill="#222" text-anchor="middle">***</text>
<line x1="489.80" y1="362.90" x2="496.50" y2="362.90" stroke="#444" stroke-width="0.85"/>
<text x="500.45" y="362.70" font-size="5.6" fill="#222" text-anchor="middle">***</text>
<line x1="497.00" y1="362.90" x2="503.90" y2="362.90" stroke="#444" stroke-width="0.85"/>
<rect x="458.50" y="433.50" width="6.00" height="5.90" fill="#c8102e"/>
<text x="468.10" y="438.60" font-size="5.9" fill="#222">Non GVHD</text>
<rect x="458.50" y="443.20" width="6.00" height="5.90" fill="#4b1e6e"/>
<text x="468.10" y="448.30" font-size="5.9" fill="#222">MSC GVHD</text>
<rect x="458.50" y="453.20" width="6.00" height="5.90" fill="#f39a1e"/>
<text x="468.10" y="458.30" font-size="5.9" fill="#222">Non-MSC GVHD</text>
<line x1="454.70" y1="524.80" x2="457.80" y2="524.80" stroke="#111" stroke-width="0.8"/>
<text x="451.40" y="527.00" font-size="6.2" fill="#222" text-anchor="end">0</text>
<line x1="454.70" y1="512.22" x2="457.80" y2="512.22" stroke="#111" stroke-width="0.8"/>
<text x="451.40" y="514.42" font-size="6.2" fill="#222" text-anchor="end">5</text>
<line x1="454.70" y1="499.65" x2="457.80" y2="499.65" stroke="#111" stroke-width="0.8"/>
<text x="451.40" y="501.85" font-size="6.2" fill="#222" text-anchor="end">10</text>
<line x1="454.70" y1="487.07" x2="457.80" y2="487.07" stroke="#111" stroke-width="0.8"/>
<text x="451.40" y="489.27" font-size="6.2" fill="#222" text-anchor="end">15</text>
<line x1="454.70" y1="474.50" x2="457.80" y2="474.50" stroke="#111" stroke-width="0.8"/>
<text x="451.40" y="476.70" font-size="6.2" fill="#222" text-anchor="end">20</text>
<line x1="463.50" y1="513.48" x2="463.50" y2="515.75" stroke="#8a2636" stroke-width="0.7"/>
<line x1="462.20" y1="513.48" x2="464.80" y2="513.48" stroke="#8a2636" stroke-width="0.8"/>
<rect x="461.45" y="515.75" width="4.10" height="9.05" fill="#c8102e"/>
<line x1="470.60" y1="503.93" x2="470.60" y2="507.19" stroke="#45305e" stroke-width="0.7"/>
<line x1="469.30" y1="503.93" x2="471.90" y2="503.93" stroke="#45305e" stroke-width="0.8"/>
<rect x="468.55" y="507.19" width="4.10" height="17.61" fill="#4b1e6e"/>
<line x1="477.80" y1="477.52" x2="477.80" y2="488.08" stroke="#7d8796" stroke-width="0.7"/>
<line x1="476.50" y1="477.52" x2="479.10" y2="477.52" stroke="#7d8796" stroke-width="0.8"/>
<rect x="475.75" y="488.08" width="4.10" height="36.72" fill="#f39a1e"/>
<line x1="489.50" y1="520.02" x2="489.50" y2="521.53" stroke="#8a2636" stroke-width="0.7"/>
<line x1="488.20" y1="520.02" x2="490.80" y2="520.02" stroke="#8a2636" stroke-width="0.8"/>
<rect x="487.45" y="521.53" width="4.10" height="3.27" fill="#c8102e"/>
<line x1="496.60" y1="513.23" x2="496.60" y2="518.01" stroke="#45305e" stroke-width="0.7"/>
<line x1="495.30" y1="513.23" x2="497.90" y2="513.23" stroke="#45305e" stroke-width="0.8"/>
<rect x="494.55" y="518.01" width="4.10" height="6.79" fill="#4b1e6e"/>
<line x1="503.60" y1="495.88" x2="503.60" y2="500.66" stroke="#7d8796" stroke-width="0.7"/>
<line x1="502.30" y1="495.88" x2="504.90" y2="495.88" stroke="#7d8796" stroke-width="0.8"/>
<rect x="501.55" y="500.66" width="4.10" height="24.14" fill="#f39a1e"/>
<line x1="457.80" y1="473.00" x2="457.80" y2="525.20" stroke="#111" stroke-width="1.0"/>
<line x1="457.40" y1="524.80" x2="508.60" y2="524.80" stroke="#111" stroke-width="1.0"/>
<line x1="470.40" y1="524.80" x2="470.40" y2="527.00" stroke="#111" stroke-width="0.8"/>
<text x="470.40" y="538.00" font-size="7.2" fill="#222" text-anchor="middle">20</text>
<line x1="496.30" y1="524.80" x2="496.30" y2="527.00" stroke="#111" stroke-width="0.8"/>
<text x="496.30" y="538.00" font-size="7.2" fill="#222" text-anchor="middle">40</text>
<text x="439.20" y="500.00" font-size="8.2" fill="#1a1a1a" text-anchor="middle" font-weight="bold" textLength="59.1" lengthAdjust="spacingAndGlyphs" transform="rotate(-90 439.20 500.00)">Vβ5+/GFP+ T cells %</text>
<text x="471.25" y="467.60" font-size="5.6" fill="#222" text-anchor="middle">***</text>
<line x1="464.50" y1="467.80" x2="478.00" y2="467.80" stroke="#444" stroke-width="0.85"/>
<text x="467.60" y="474.30" font-size="5.6" fill="#222" text-anchor="middle">***</text>
<line x1="464.50" y1="474.50" x2="470.70" y2="474.50" stroke="#444" stroke-width="0.85"/>
<text x="475.00" y="474.30" font-size="5.6" fill="#222" text-anchor="middle">***</text>
<line x1="472.00" y1="474.50" x2="478.00" y2="474.50" stroke="#444" stroke-width="0.85"/>
<text x="496.15" y="485.80" font-size="5.6" fill="#222" text-anchor="middle">***</text>
<line x1="490.10" y1="486.00" x2="502.20" y2="486.00" stroke="#444" stroke-width="0.85"/>
<text x="492.80" y="493.10" font-size="5.6" fill="#222" text-anchor="middle">*</text>
<line x1="490.10" y1="493.30" x2="495.50" y2="493.30" stroke="#444" stroke-width="0.85"/>
<text x="499.60" y="493.10" font-size="5.6" fill="#222" text-anchor="middle">***</text>
<line x1="497.00" y1="493.30" x2="502.20" y2="493.30" stroke="#444" stroke-width="0.85"/>
<line x1="454.80" y1="601.50" x2="457.90" y2="601.50" stroke="#111" stroke-width="0.8"/>
<text x="451.50" y="603.70" font-size="6.2" fill="#222" text-anchor="end">0</text>
<line x1="454.80" y1="589.25" x2="457.90" y2="589.25" stroke="#111" stroke-width="0.8"/>
<text x="451.50" y="591.45" font-size="6.2" fill="#222" text-anchor="end">5</text>
<line x1="454.80" y1="577.00" x2="457.90" y2="577.00" stroke="#111" stroke-width="0.8"/>
<text x="451.50" y="579.20" font-size="6.2" fill="#222" text-anchor="end">10</text>
<line x1="454.80" y1="564.75" x2="457.90" y2="564.75" stroke="#111" stroke-width="0.8"/>
<text x="451.50" y="566.95" font-size="6.2" fill="#222" text-anchor="end">15</text>
<line x1="454.80" y1="552.50" x2="457.90" y2="552.50" stroke="#111" stroke-width="0.8"/>
<text x="451.50" y="554.70" font-size="6.2" fill="#222" text-anchor="end">20</text>
<line x1="463.50" y1="594.39" x2="463.50" y2="595.87" stroke="#8a2636" stroke-width="0.7"/>
<line x1="462.20" y1="594.39" x2="464.80" y2="594.39" stroke="#8a2636" stroke-width="0.8"/>
<rect x="461.45" y="595.87" width="4.10" height="5.63" fill="#c8102e"/>
<line x1="470.60" y1="586.07" x2="470.60" y2="589.00" stroke="#45305e" stroke-width="0.7"/>
<line x1="469.30" y1="586.07" x2="471.90" y2="586.07" stroke="#45305e" stroke-width="0.8"/>
<rect x="468.55" y="589.00" width="4.10" height="12.49" fill="#4b1e6e"/>
<line x1="477.80" y1="561.08" x2="477.80" y2="568.42" stroke="#7d8796" stroke-width="0.7"/>
<line x1="476.50" y1="561.08" x2="479.10" y2="561.08" stroke="#7d8796" stroke-width="0.8"/>
<rect x="475.75" y="568.42" width="4.10" height="33.08" fill="#f39a1e"/>
<line x1="489.50" y1="595.38" x2="489.50" y2="597.83" stroke="#8a2636" stroke-width="0.7"/>
<line x1="488.20" y1="595.38" x2="490.80" y2="595.38" stroke="#8a2636" stroke-width="0.8"/>
<rect x="487.45" y="597.83" width="4.10" height="3.68" fill="#c8102e"/>
<line x1="496.60" y1="589.74" x2="496.60" y2="592.43" stroke="#45305e" stroke-width="0.7"/>
<line x1="495.30" y1="589.74" x2="497.90" y2="589.74" stroke="#45305e" stroke-width="0.8"/>
<rect x="494.55" y="592.43" width="4.10" height="9.07" fill="#4b1e6e"/>
<line x1="503.60" y1="576.26" x2="503.60" y2="580.43" stroke="#7d8796" stroke-width="0.7"/>
<line x1="502.30" y1="576.26" x2="504.90" y2="576.26" stroke="#7d8796" stroke-width="0.8"/>
<rect x="501.55" y="580.43" width="4.10" height="21.07" fill="#f39a1e"/>
<line x1="457.90" y1="551.00" x2="457.90" y2="601.90" stroke="#111" stroke-width="1.0"/>
<line x1="457.50" y1="601.50" x2="508.60" y2="601.50" stroke="#111" stroke-width="1.0"/>
<line x1="470.40" y1="601.50" x2="470.40" y2="603.70" stroke="#111" stroke-width="0.8"/>
<text x="470.40" y="613.60" font-size="7.2" fill="#222" text-anchor="middle">20</text>
<line x1="496.30" y1="601.50" x2="496.30" y2="603.70" stroke="#111" stroke-width="0.8"/>
<text x="496.30" y="613.60" font-size="7.2" fill="#222" text-anchor="middle">40</text>
<text x="439.20" y="575.20" font-size="8.2" fill="#1a1a1a" text-anchor="middle" font-weight="bold" textLength="61.3" lengthAdjust="spacingAndGlyphs" transform="rotate(-90 439.20 575.20)">Vβ5+/GFP+ T cells %</text>
<text x="470.75" y="551.30" font-size="5.6" fill="#222" text-anchor="middle">***</text>
<line x1="463.80" y1="551.50" x2="477.70" y2="551.50" stroke="#444" stroke-width="0.85"/>
<text x="467.10" y="558.60" font-size="5.6" fill="#222" text-anchor="middle">***</text>
<line x1="463.80" y1="558.80" x2="470.40" y2="558.80" stroke="#444" stroke-width="0.85"/>
<text x="474.65" y="558.60" font-size="5.6" fill="#222" text-anchor="middle">***</text>
<line x1="471.60" y1="558.80" x2="477.70" y2="558.80" stroke="#444" stroke-width="0.85"/>
<text x="496.15" y="566.70" font-size="5.6" fill="#222" text-anchor="middle">***</text>
<line x1="490.10" y1="566.90" x2="502.20" y2="566.90" stroke="#444" stroke-width="0.85"/>
<text x="492.95" y="574.00" font-size="5.6" fill="#222" text-anchor="middle">**</text>
<line x1="490.10" y1="574.20" x2="495.80" y2="574.20" stroke="#444" stroke-width="0.85"/>
<text x="499.60" y="574.00" font-size="5.6" fill="#222" text-anchor="middle">***</text>
<line x1="497.00" y1="574.20" x2="502.20" y2="574.20" stroke="#444" stroke-width="0.85"/>
<line x1="455.40" y1="681.70" x2="458.50" y2="681.70" stroke="#111" stroke-width="0.8"/>
<text x="452.10" y="683.90" font-size="6.2" fill="#222" text-anchor="end">0</text>
<line x1="455.40" y1="665.44" x2="458.50" y2="665.44" stroke="#111" stroke-width="0.8"/>
<text x="452.10" y="667.64" font-size="6.2" fill="#222" text-anchor="end">5</text>
<line x1="455.40" y1="649.17" x2="458.50" y2="649.17" stroke="#111" stroke-width="0.8"/>
<text x="452.10" y="651.37" font-size="6.2" fill="#222" text-anchor="end">10</text>
<line x1="455.40" y1="632.91" x2="458.50" y2="632.91" stroke="#111" stroke-width="0.8"/>
<text x="452.10" y="635.11" font-size="6.2" fill="#222" text-anchor="end">15</text>
<line x1="463.50" y1="671.29" x2="463.50" y2="674.22" stroke="#8a2636" stroke-width="0.7"/>
<line x1="462.20" y1="671.29" x2="464.80" y2="671.29" stroke="#8a2636" stroke-width="0.8"/>
<rect x="461.45" y="674.22" width="4.10" height="7.48" fill="#c8102e"/>
<line x1="470.60" y1="664.46" x2="470.60" y2="666.09" stroke="#45305e" stroke-width="0.7"/>
<line x1="469.30" y1="664.46" x2="471.90" y2="664.46" stroke="#45305e" stroke-width="0.8"/>
<rect x="468.55" y="666.09" width="4.10" height="15.61" fill="#4b1e6e"/>
<line x1="477.80" y1="647.87" x2="477.80" y2="653.72" stroke="#7d8796" stroke-width="0.7"/>
<line x1="476.50" y1="647.87" x2="479.10" y2="647.87" stroke="#7d8796" stroke-width="0.8"/>
<rect x="475.75" y="653.72" width="4.10" height="27.98" fill="#f39a1e"/>
<line x1="489.50" y1="673.89" x2="489.50" y2="676.50" stroke="#8a2636" stroke-width="0.7"/>
<line x1="488.20" y1="673.89" x2="490.80" y2="673.89" stroke="#8a2636" stroke-width="0.8"/>
<rect x="487.45" y="676.50" width="4.10" height="5.20" fill="#c8102e"/>
<line x1="496.60" y1="668.69" x2="496.60" y2="671.94" stroke="#45305e" stroke-width="0.7"/>
<line x1="495.30" y1="668.69" x2="497.90" y2="668.69" stroke="#45305e" stroke-width="0.8"/>
<rect x="494.55" y="671.94" width="4.10" height="9.76" fill="#4b1e6e"/>
<line x1="503.60" y1="636.16" x2="503.60" y2="645.92" stroke="#7d8796" stroke-width="0.7"/>
<line x1="502.30" y1="636.16" x2="504.90" y2="636.16" stroke="#7d8796" stroke-width="0.8"/>
<rect x="501.55" y="645.92" width="4.10" height="35.78" fill="#f39a1e"/>
<line x1="458.50" y1="631.41" x2="458.50" y2="682.10" stroke="#111" stroke-width="1.0"/>
<line x1="458.10" y1="681.70" x2="508.60" y2="681.70" stroke="#111" stroke-width="1.0"/>
<line x1="470.40" y1="681.70" x2="470.40" y2="683.90" stroke="#111" stroke-width="0.8"/>
<text x="470.40" y="694.60" font-size="7.2" fill="#222" text-anchor="middle">20</text>
<line x1="496.30" y1="681.70" x2="496.30" y2="683.90" stroke="#111" stroke-width="0.8"/>
<text x="496.30" y="694.60" font-size="7.2" fill="#222" text-anchor="middle">40</text>
<text x="439.20" y="653.60" font-size="8.2" fill="#1a1a1a" text-anchor="middle" font-weight="bold" textLength="58.2" lengthAdjust="spacingAndGlyphs" transform="rotate(-90 439.20 653.60)">Vβ5+/GFP+ T cells %</text>
<text x="470.75" y="638.80" font-size="5.6" fill="#222" text-anchor="middle">***</text>
<line x1="463.80" y1="639.00" x2="477.70" y2="639.00" stroke="#444" stroke-width="0.85"/>
<text x="467.10" y="645.60" font-size="5.6" fill="#222" text-anchor="middle">**</text>
<line x1="463.80" y1="645.80" x2="470.40" y2="645.80" stroke="#444" stroke-width="0.85"/>
<text x="474.65" y="645.60" font-size="5.6" fill="#222" text-anchor="middle">***</text>
<line x1="471.60" y1="645.80" x2="477.70" y2="645.80" stroke="#444" stroke-width="0.85"/>
<text x="496.15" y="625.80" font-size="5.6" fill="#222" text-anchor="middle">***</text>
<line x1="490.10" y1="626.00" x2="502.20" y2="626.00" stroke="#444" stroke-width="0.85"/>
<text x="492.95" y="632.50" font-size="5.6" fill="#222" text-anchor="middle">**</text>
<line x1="490.10" y1="632.70" x2="495.80" y2="632.70" stroke="#444" stroke-width="0.85"/>
<text x="499.60" y="632.50" font-size="5.6" fill="#222" text-anchor="middle">***</text>
<line x1="497.00" y1="632.70" x2="502.20" y2="632.70" stroke="#444" stroke-width="0.85"/>
<text x="483.00" y="706.10" font-size="8.8" fill="#222" text-anchor="middle" font-weight="bold" textLength="38.5" lengthAdjust="spacingAndGlyphs">Days post HCT</text>
<rect x="0.5" y="0.5" width="519" height="714" fill="none" stroke="#505050" stroke-width="1"/>
</svg></body></html>
